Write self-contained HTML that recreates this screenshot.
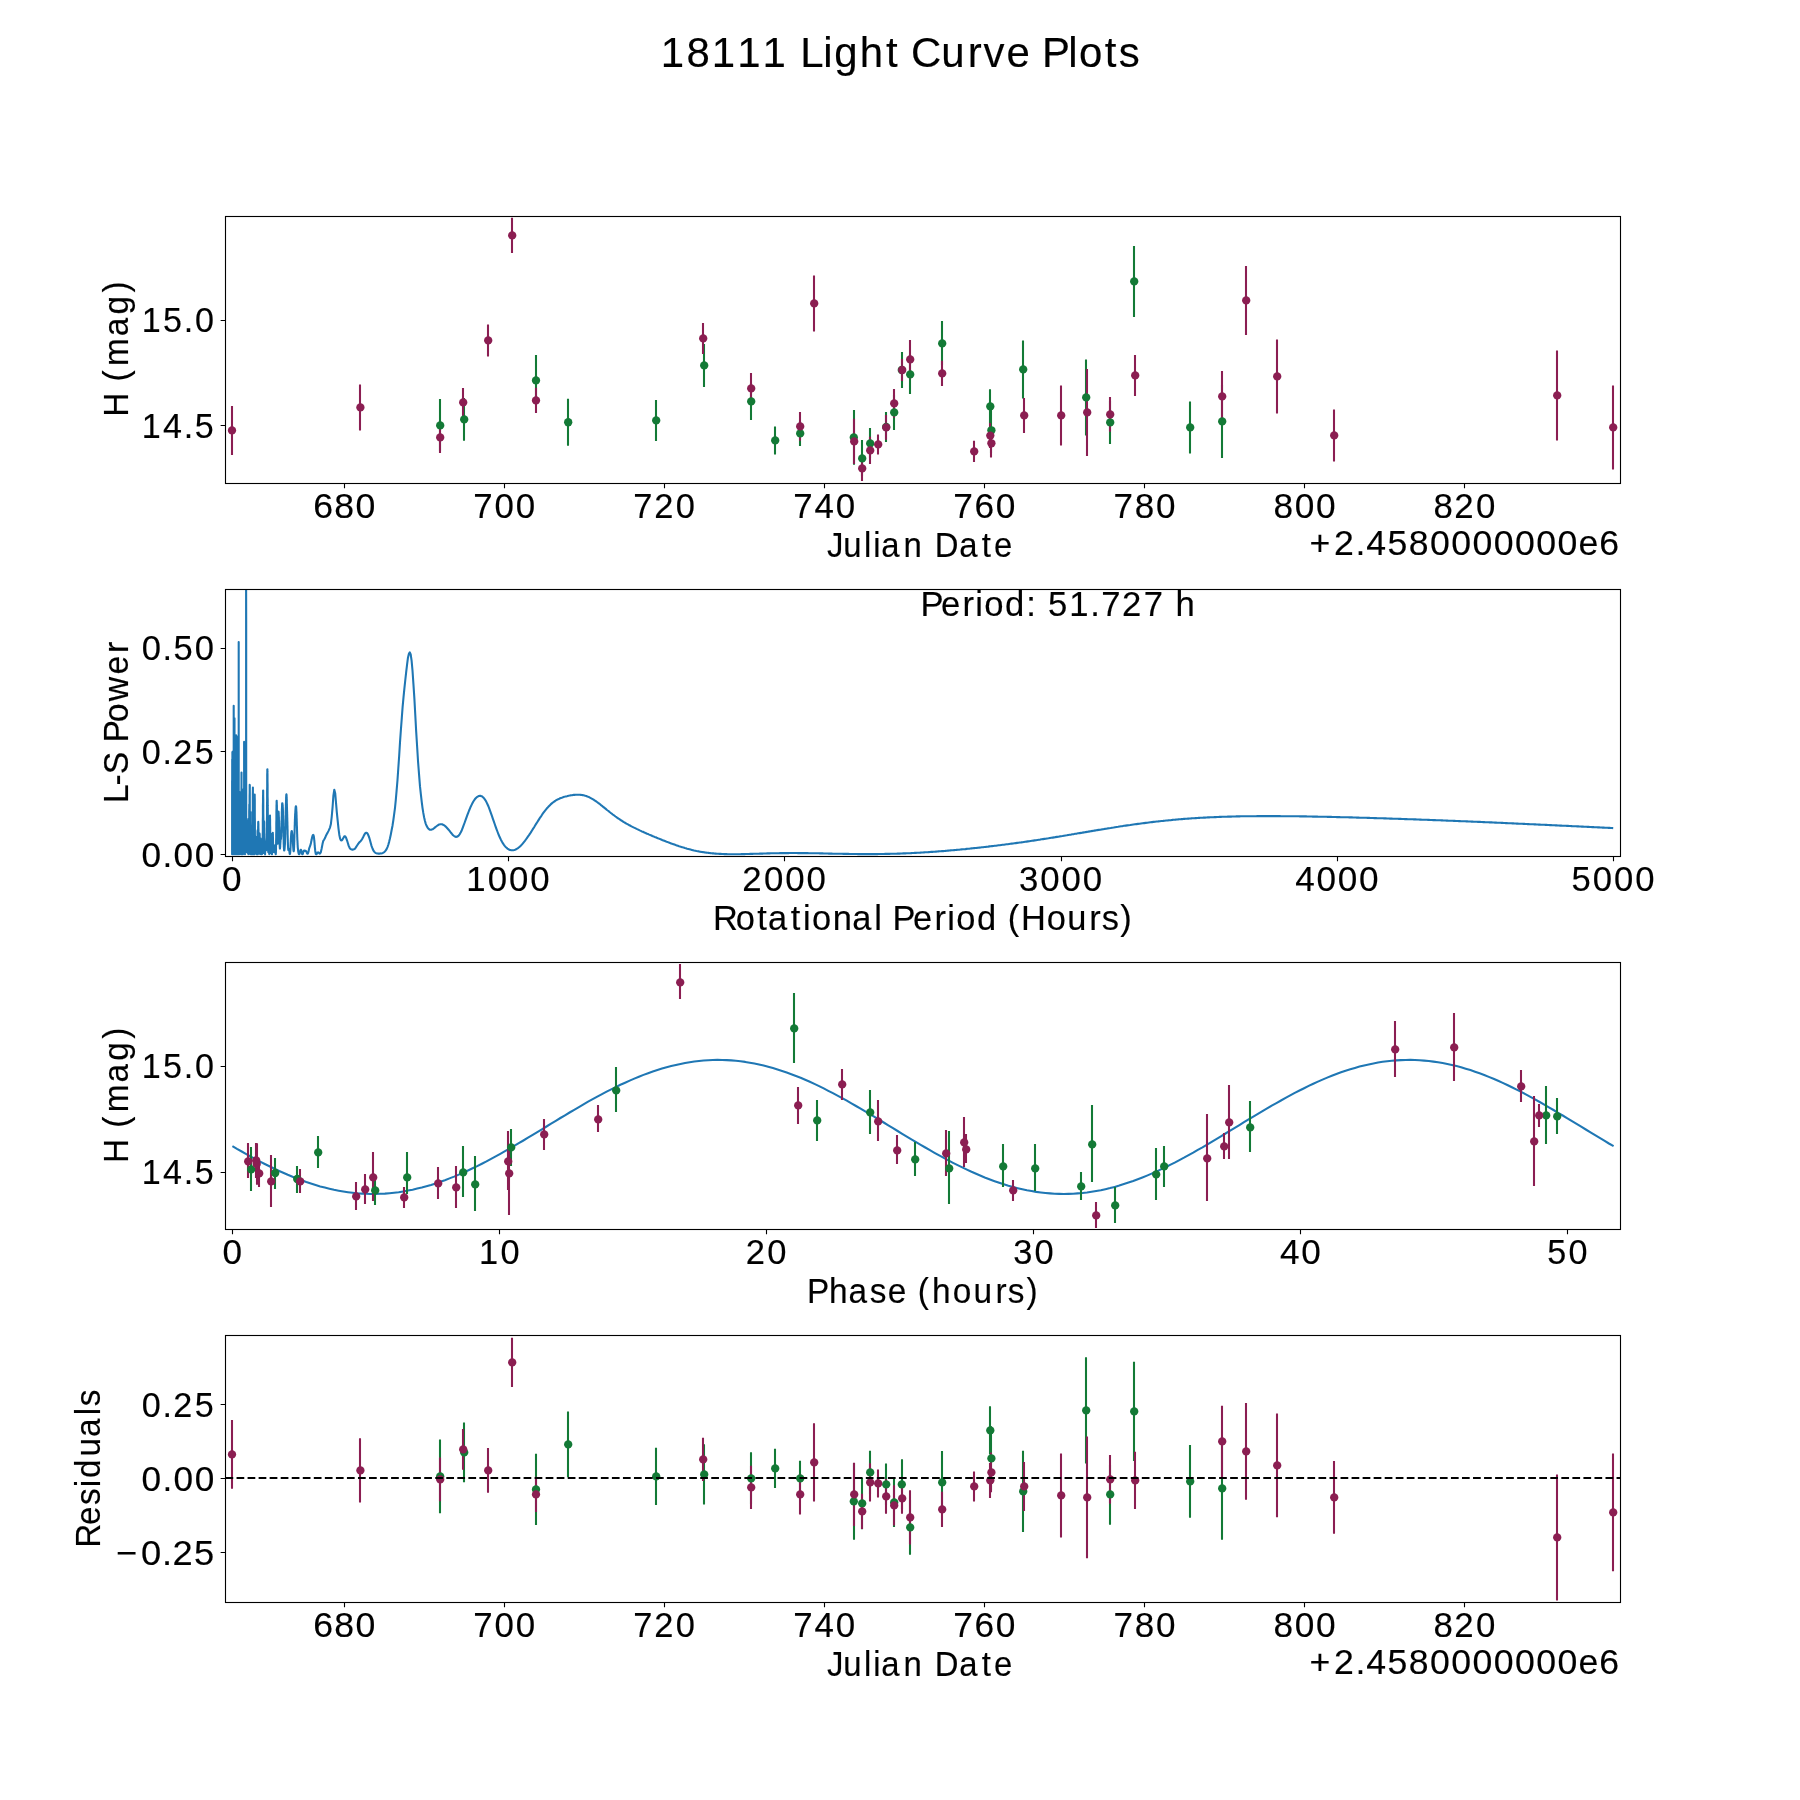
<!DOCTYPE html>
<html><head><meta charset="utf-8"><title>18111 Light Curve Plots</title>
<style>html,body{margin:0;padding:0;background:#fff;width:1800px;height:1800px;overflow:hidden}svg{display:block;will-change:transform}text{stroke:#000;stroke-width:0.15px;font-family:"Liberation Sans",sans-serif;fill:#000}</style>
</head><body>
<svg width="1800" height="1800" viewBox="0 0 1800 1800">
<rect x="0" y="0" width="1800" height="1800" fill="#fff"/>
<defs>
<clipPath id="c0"><rect x="225.5" y="216.5" width="1395" height="267"/></clipPath>
<clipPath id="c1"><rect x="225.5" y="589.5" width="1395" height="267"/></clipPath>
<clipPath id="c2"><rect x="225.5" y="962.5" width="1395" height="267"/></clipPath>
<clipPath id="c3"><rect x="225.5" y="1335.5" width="1395" height="267"/></clipPath>
</defs>
<polyline clip-path="url(#c1)" fill="none" stroke="#1f77b4" stroke-width="2.08" stroke-linejoin="round" points="232.1,846.8 232.1,842.4 232.1,850.5 232.1,839.5 232.1,851.2 232.1,854.0 232.1,852.8 232.1,836.9 232.1,846.1 232.1,831.8 232.1,854.0 232.1,848.9 232.1,838.4 232.1,850.3 232.1,838.6 232.1,846.4 232.1,851.9 232.1,854.0 232.1,834.2 232.1,832.2 232.1,848.9 232.1,845.4 232.1,848.0 232.1,854.3 232.1,852.8 232.1,846.0 232.1,845.3 232.1,845.6 232.1,848.2 232.1,854.3 232.1,843.7 232.1,849.3 232.1,839.8 232.1,845.9 232.1,834.6 232.1,851.7 232.1,853.8 232.1,848.1 232.1,853.2 232.1,848.2 232.1,845.9 232.1,847.3 232.1,851.3 232.1,853.9 232.1,850.1 232.1,849.9 232.1,851.0 232.1,852.9 232.1,780.5 232.1,850.8 232.1,851.9 232.1,802.9 232.1,838.4 232.1,853.3 232.1,849.6 232.1,854.2 232.1,850.3 232.1,852.5 232.1,854.0 232.1,847.4 232.1,852.6 232.1,853.5 232.1,854.1 232.1,841.5 232.1,847.1 232.1,841.2 232.1,853.1 232.1,850.5 232.1,843.4 232.1,836.9 232.1,848.4 232.1,851.2 232.1,832.8 232.1,848.4 232.1,838.2 232.1,848.6 232.1,852.5 232.1,829.1 232.1,827.9 232.1,851.0 232.1,849.9 232.1,854.3 232.1,852.4 232.1,848.1 232.1,853.4 232.1,854.2 232.1,840.8 232.1,853.9 232.1,851.2 232.1,849.8 232.1,850.1 232.1,848.4 232.1,829.4 232.1,845.8 232.1,845.8 232.1,843.0 232.1,841.1 232.1,835.0 232.1,851.6 232.1,852.9 232.1,831.7 232.1,830.4 232.1,854.2 232.1,837.8 232.1,824.5 232.1,845.4 232.1,839.7 232.1,853.2 232.1,848.9 232.1,836.2 232.1,849.1 232.1,846.8 232.1,844.8 232.1,853.8 232.1,849.9 232.1,847.5 232.1,846.7 232.1,852.3 232.1,849.1 232.1,840.0 232.1,851.9 232.1,849.2 232.1,851.5 232.1,833.3 232.1,823.7 232.1,853.9 232.1,848.9 232.1,805.6 232.1,838.5 232.1,853.1 232.1,811.6 232.1,836.2 232.1,853.2 232.1,851.4 232.1,840.6 232.1,837.4 232.1,851.8 232.1,852.5 232.1,852.4 232.1,853.5 232.1,841.4 232.1,850.8 232.1,850.0 232.1,853.2 232.1,849.3 232.1,842.9 232.1,820.1 232.1,843.5 232.1,853.0 232.1,851.6 232.1,848.0 232.1,853.5 232.1,849.6 232.1,853.3 232.1,825.1 232.1,848.9 232.1,846.1 232.1,850.9 232.1,839.6 232.1,833.6 232.1,850.2 232.1,833.0 232.1,854.0 232.1,852.9 232.1,854.3 232.1,850.5 232.1,851.4 232.1,853.8 232.1,844.2 232.1,852.0 232.1,849.3 232.1,852.5 232.1,849.0 232.2,845.3 232.2,833.3 232.2,853.9 232.2,852.1 232.2,837.7 232.2,852.9 232.2,851.2 232.2,842.9 232.2,832.6 232.2,846.9 232.2,828.9 232.2,851.1 232.2,847.9 232.2,853.4 232.2,782.7 232.2,850.4 232.2,850.5 232.2,849.6 232.2,839.6 232.2,853.6 232.2,846.8 232.2,851.9 232.2,853.4 232.2,852.6 232.2,835.8 232.2,848.2 232.2,853.2 232.2,852.7 232.2,854.3 232.2,847.3 232.2,824.3 232.2,842.6 232.2,853.7 232.2,838.4 232.2,853.2 232.2,853.6 232.2,842.9 232.2,827.6 232.2,843.6 232.2,844.1 232.2,852.4 232.2,853.0 232.2,829.3 232.2,759.2 232.2,850.7 232.2,849.5 232.2,853.4 232.2,839.5 232.2,832.7 232.2,844.4 232.2,852.4 232.2,844.5 232.2,850.4 232.2,847.0 232.2,848.4 232.2,849.8 232.2,846.7 232.2,850.4 232.2,835.8 232.2,848.0 232.2,853.6 232.2,852.9 232.2,847.5 232.2,851.1 232.2,833.0 232.2,852.6 232.2,853.8 232.2,848.4 232.2,844.8 232.2,812.7 232.2,853.8 232.2,839.3 232.2,839.0 232.2,825.6 232.2,853.1 232.2,851.5 232.2,854.2 232.2,841.1 232.2,838.6 232.2,847.0 232.2,854.1 232.2,852.7 232.2,826.8 232.2,843.5 232.2,852.0 232.2,851.5 232.2,852.4 232.2,849.3 232.2,846.1 232.2,852.4 232.2,851.5 232.2,847.8 232.2,842.6 232.2,841.9 232.2,852.1 232.2,853.4 232.2,846.3 232.2,851.5 232.2,845.7 232.2,813.0 232.2,854.1 232.2,854.2 232.2,846.2 232.2,842.4 232.2,831.9 232.2,853.0 232.2,848.8 232.2,853.4 232.2,846.6 232.2,840.9 232.2,840.9 232.2,851.7 232.2,847.9 232.2,845.4 232.2,844.0 232.2,850.3 232.2,853.6 232.2,852.9 232.2,850.1 232.2,840.0 232.2,854.0 232.2,850.5 232.2,846.0 232.2,852.9 232.2,849.7 232.2,853.6 232.2,852.5 232.2,846.5 232.2,839.5 232.2,839.2 232.2,845.3 232.2,822.1 232.2,854.1 232.2,851.5 232.2,816.6 232.2,853.6 232.2,852.0 232.2,850.2 232.2,827.2 232.2,854.2 232.2,843.9 232.2,854.1 232.2,847.1 232.2,846.9 232.2,833.4 232.2,849.5 232.2,850.8 232.2,851.5 232.2,852.9 232.2,846.6 232.2,846.4 232.2,852.8 232.2,847.8 232.2,848.6 232.2,849.4 232.2,853.9 232.2,839.0 232.2,852.3 232.2,853.1 232.2,850.6 232.2,847.2 232.2,848.2 232.2,823.1 232.2,847.1 232.2,842.9 232.2,839.7 232.2,853.1 232.2,819.3 232.2,851.1 232.2,843.5 232.2,843.2 232.2,853.4 232.2,853.1 232.2,845.5 232.2,853.0 232.2,843.4 232.2,831.4 232.2,852.5 232.2,848.1 232.2,849.1 232.2,851.2 232.2,844.5 232.2,854.3 232.2,853.9 232.2,853.4 232.2,853.3 232.2,843.0 232.2,844.8 232.2,852.7 232.2,839.3 232.2,844.9 232.2,852.9 232.2,851.1 232.2,846.2 232.2,847.2 232.2,834.2 232.2,816.7 232.2,853.3 232.2,849.8 232.2,836.1 232.2,844.0 232.2,839.8 232.2,837.5 232.2,850.1 232.2,853.6 232.2,847.8 232.2,837.9 232.2,854.3 232.2,853.4 232.2,848.9 232.2,854.1 232.2,840.0 232.2,839.2 232.2,853.7 232.2,851.5 232.2,849.5 232.2,849.4 232.2,837.0 232.2,848.6 232.2,837.0 232.2,853.2 232.2,850.9 232.2,842.1 232.2,835.2 232.2,845.5 232.2,854.0 232.2,852.2 232.2,837.8 232.2,849.6 232.2,838.6 232.2,795.6 232.2,838.7 232.2,854.1 232.2,841.8 232.2,771.7 232.2,852.9 232.2,850.1 232.2,841.7 232.2,851.3 232.2,845.5 232.2,854.3 232.2,851.9 232.2,852.0 232.2,847.5 232.2,850.8 232.2,848.4 232.2,851.8 232.2,853.9 232.2,849.7 232.2,838.6 232.2,852.9 232.2,851.1 232.2,843.9 232.2,845.0 232.2,853.9 232.2,848.5 232.2,844.7 232.2,837.7 232.2,832.8 232.2,851.2 232.2,853.5 232.2,853.1 232.2,831.6 232.2,847.5 232.2,815.0 232.2,825.2 232.2,840.0 232.2,844.2 232.2,848.8 232.2,837.4 232.2,844.0 232.2,847.0 232.2,851.3 232.2,850.4 232.2,833.6 232.2,851.6 232.2,837.9 232.2,844.3 232.2,851.3 232.2,843.8 232.2,829.1 232.2,849.9 232.2,845.0 232.2,844.8 232.2,850.6 232.2,849.7 232.2,846.3 232.2,851.5 232.2,852.2 232.2,844.2 232.2,844.6 232.2,849.2 232.2,834.9 232.2,834.0 232.2,836.1 232.2,853.8 232.2,850.8 232.2,853.1 232.2,837.0 232.2,845.9 232.2,771.2 232.2,850.3 232.2,853.8 232.2,853.7 232.2,831.5 232.2,851.8 232.2,854.1 232.2,852.7 232.2,849.5 232.2,841.8 232.2,854.3 232.2,826.5 232.2,853.8 232.2,845.8 232.2,853.5 232.2,850.4 232.2,849.3 232.2,850.9 232.2,849.6 232.3,853.7 232.3,850.5 232.3,845.0 232.3,853.7 232.3,845.4 232.3,847.4 232.3,851.2 232.3,840.1 232.3,844.7 232.3,852.4 232.3,832.7 232.3,847.1 232.3,842.8 232.3,842.5 232.3,853.1 232.3,831.3 232.3,850.9 232.3,846.8 232.3,848.2 232.3,834.6 232.3,842.9 232.3,853.7 232.3,850.7 232.3,850.5 232.3,811.1 232.3,846.5 232.3,839.2 232.3,850.2 232.3,853.0 232.3,839.6 232.3,853.8 232.3,847.2 232.3,816.9 232.3,852.3 232.3,841.8 232.3,850.1 232.3,854.1 232.3,853.4 232.3,850.8 232.3,850.8 232.3,842.6 232.3,853.9 232.3,844.0 232.3,835.1 232.3,851.2 232.3,850.9 232.3,851.2 232.3,850.5 232.3,849.2 232.3,851.9 232.3,845.3 232.3,837.6 232.3,851.9 232.3,850.4 232.3,850.3 232.3,854.1 232.3,843.9 232.3,833.5 232.3,841.1 232.3,854.0 232.3,853.2 232.3,840.2 232.3,848.5 232.3,828.1 232.3,854.0 232.3,845.1 232.3,846.1 232.3,853.1 232.3,836.6 232.3,853.4 232.3,853.4 232.3,828.6 232.3,853.5 232.3,840.5 232.3,843.2 232.3,850.7 232.3,848.6 232.3,852.3 232.3,852.2 232.3,846.1 232.3,844.1 232.3,852.8 232.3,848.9 232.3,843.1 232.3,848.8 232.3,849.1 232.3,848.3 232.3,844.8 232.3,853.5 232.3,853.9 232.3,853.4 232.3,845.4 232.3,845.4 232.3,839.5 232.3,847.5 232.3,850.0 232.3,841.6 232.3,822.2 232.3,848.1 232.3,854.1 232.3,852.4 232.3,849.9 232.3,846.9 232.3,828.7 232.3,853.0 232.3,845.2 232.3,841.8 232.3,853.8 232.3,843.6 232.3,843.4 232.3,827.5 232.3,853.3 232.3,849.3 232.3,852.6 232.3,853.0 232.3,852.6 232.3,846.4 232.3,851.5 232.3,844.3 232.3,852.7 232.3,844.3 232.3,853.1 232.3,851.8 232.3,823.4 232.3,850.2 232.3,821.7 232.3,845.7 232.3,847.6 232.3,853.3 232.3,851.4 232.3,853.9 232.3,852.8 232.3,841.5 232.3,836.8 232.3,848.8 232.3,846.9 232.3,853.1 232.3,853.1 232.3,847.0 232.3,833.8 232.3,849.9 232.3,843.4 232.3,835.1 232.3,831.7 232.3,840.3 232.3,849.0 232.3,840.0 232.3,845.3 232.3,845.4 232.3,851.4 232.3,846.5 232.3,829.0 232.3,852.0 232.3,846.0 232.3,846.1 232.3,853.7 232.3,853.4 232.3,846.3 232.3,851.0 232.3,853.8 232.3,850.0 232.3,851.4 232.3,852.8 232.3,851.9 232.3,854.0 232.3,845.6 232.3,848.9 232.3,852.9 232.3,851.9 232.3,849.3 232.3,849.2 232.3,846.7 232.3,837.5 232.3,842.0 232.3,848.4 232.3,853.9 232.3,853.3 232.3,854.0 232.3,851.7 232.3,838.5 232.3,820.1 232.3,805.4 232.3,851.9 232.3,850.4 232.3,845.1 232.3,831.5 232.3,821.0 232.3,844.8 232.3,854.1 232.3,838.3 232.3,842.7 232.3,854.0 232.3,842.8 232.3,844.1 232.3,837.8 232.3,843.5 232.3,849.3 232.3,850.9 232.3,850.9 232.3,849.8 232.3,850.0 232.3,842.3 232.3,824.8 232.3,843.7 232.3,851.3 232.3,838.7 232.3,849.3 232.3,853.6 232.3,854.3 232.3,847.4 232.3,851.9 232.3,844.4 232.3,853.7 232.3,854.3 232.3,839.1 232.3,847.4 232.3,840.1 232.3,847.4 232.3,843.8 232.3,854.1 232.3,845.9 232.3,849.9 232.3,853.9 232.3,851.0 232.3,833.9 232.3,852.2 232.3,852.8 232.3,853.2 232.3,854.1 232.3,853.9 232.3,843.6 232.3,839.0 232.3,851.9 232.3,853.2 232.3,845.5 232.3,851.6 232.3,852.1 232.3,851.6 232.3,848.9 232.3,825.0 232.3,843.8 232.3,851.8 232.3,849.5 232.3,850.8 232.3,847.0 232.3,851.4 232.3,844.1 232.3,832.1 232.3,846.3 232.3,852.6 232.3,832.4 232.4,851.9 232.4,847.1 232.4,852.7 232.4,852.1 232.4,847.3 232.4,828.9 232.4,850.7 232.4,854.0 232.4,854.3 232.4,850.6 232.4,843.1 232.4,839.3 232.4,844.7 232.4,851.2 232.4,852.9 232.4,850.5 232.4,851.7 232.4,854.1 232.4,847.7 232.4,814.4 232.4,844.5 232.4,840.5 232.4,847.6 232.4,847.8 232.4,837.0 232.4,802.8 232.4,752.0 232.4,833.1 232.4,846.4 232.4,850.9 232.4,847.4 232.4,847.7 232.4,850.5 232.4,819.1 232.4,841.9 232.4,836.4 232.4,835.8 232.4,853.9 232.4,853.5 232.4,847.6 232.4,828.7 232.4,854.3 232.4,849.0 232.4,844.6 232.4,853.1 232.4,853.5 232.4,841.8 232.4,854.0 232.4,850.6 232.4,847.7 232.4,835.2 232.4,849.6 232.4,852.8 232.4,851.7 232.4,851.3 232.4,850.7 232.4,843.0 232.4,846.2 232.4,846.7 232.4,852.9 232.4,848.3 232.4,853.3 232.4,852.0 232.4,852.5 232.4,841.0 232.4,852.4 232.4,850.3 232.4,811.6 232.4,834.5 232.4,836.7 232.4,847.4 232.4,845.1 232.4,835.7 232.4,833.1 232.4,809.2 232.4,850.5 232.4,849.9 232.4,840.4 232.4,851.6 232.4,847.6 232.4,853.6 232.4,850.8 232.4,854.1 232.4,853.9 232.4,839.3 232.4,843.5 232.4,842.6 232.4,845.0 232.4,853.4 232.4,831.2 232.4,851.3 232.4,854.1 232.4,853.7 232.4,854.3 232.4,853.5 232.4,844.9 232.4,849.5 232.4,852.3 232.4,851.2 232.4,848.9 232.4,849.7 232.4,846.3 232.4,835.4 232.4,844.9 232.4,854.0 232.4,854.1 232.4,846.5 232.4,845.3 232.4,853.3 232.4,846.6 232.4,840.2 232.4,851.9 232.4,843.2 232.4,851.8 232.4,846.1 232.4,847.4 232.4,848.5 232.4,814.4 232.4,817.8 232.4,838.7 232.4,849.2 232.4,849.7 232.4,849.3 232.4,848.4 232.4,832.0 232.4,836.6 232.4,848.3 232.4,843.7 232.4,852.9 232.4,835.0 232.4,850.8 232.4,850.5 232.4,830.7 232.4,847.4 232.4,847.3 232.4,834.7 232.4,850.0 232.4,850.1 232.4,845.8 232.4,853.4 232.4,845.8 232.4,850.5 232.4,853.5 232.4,852.2 232.4,849.8 232.4,853.9 232.4,844.5 232.4,847.2 232.4,852.1 232.4,852.8 232.4,830.4 232.4,849.2 232.4,854.3 232.4,853.3 232.4,853.5 232.4,844.2 232.4,851.7 232.4,850.5 232.4,832.8 232.4,841.2 232.4,850.4 232.4,837.2 232.4,838.0 232.4,852.3 232.4,844.9 232.4,850.2 232.4,853.6 232.4,845.2 232.4,841.6 232.4,796.9 232.4,808.2 232.4,850.1 232.4,854.3 232.4,842.5 232.4,840.5 232.4,832.4 232.4,841.7 232.4,823.2 232.4,843.4 232.4,851.9 232.4,830.0 232.4,847.8 232.4,827.5 232.4,852.3 232.4,841.7 232.4,852.6 232.4,848.7 232.4,852.4 232.4,847.3 232.4,848.2 232.4,850.0 232.4,845.1 232.4,853.1 232.4,834.6 232.4,852.9 232.4,842.7 232.4,853.1 232.4,842.0 232.4,849.4 232.4,847.1 232.4,829.0 232.4,848.8 232.4,850.6 232.4,853.8 232.4,846.1 232.4,849.0 232.5,853.1 232.5,849.7 232.5,853.4 232.5,844.8 232.5,851.2 232.5,848.1 232.5,840.2 232.5,852.8 232.5,851.2 232.5,845.8 232.5,850.6 232.5,847.3 232.5,852.4 232.5,852.8 232.5,847.0 232.5,850.2 232.5,851.2 232.5,835.8 232.5,812.8 232.5,824.8 232.5,851.2 232.5,853.7 232.5,844.7 232.5,847.5 232.5,821.1 232.5,822.4 232.5,846.7 232.5,844.4 232.5,847.4 232.5,839.0 232.5,852.7 232.5,840.2 232.5,853.1 232.5,853.1 232.5,852.7 232.5,835.3 232.5,822.5 232.5,846.0 232.5,854.1 232.5,849.1 232.5,851.5 232.5,853.1 232.5,839.5 232.5,852.0 232.5,850.7 232.5,831.4 232.5,848.2 232.5,847.3 232.5,846.1 232.5,850.0 232.5,845.1 232.5,843.3 232.5,849.8 232.5,850.1 232.5,822.7 232.5,846.5 232.5,851.0 232.5,825.6 232.5,853.4 232.5,847.2 232.5,845.9 232.5,852.6 232.5,841.4 232.5,846.5 232.5,833.3 232.5,854.2 232.5,851.8 232.5,851.4 232.5,840.0 232.5,850.5 232.5,852.5 232.5,842.9 232.5,851.8 232.5,839.2 232.5,817.2 232.5,834.0 232.5,841.7 232.5,853.2 232.5,848.7 232.5,845.4 232.5,852.5 232.5,846.1 232.5,822.9 232.5,803.7 232.5,845.3 232.5,853.5 232.5,847.3 232.5,838.6 232.5,851.9 232.5,846.2 232.5,850.6 232.5,849.6 232.5,854.0 232.5,828.3 232.5,827.9 232.5,854.2 232.5,849.4 232.5,852.3 232.5,851.9 232.5,849.3 232.5,851.6 232.5,853.2 232.5,843.3 232.5,850.2 232.5,848.7 232.5,847.2 232.5,850.5 232.5,832.0 232.5,852.2 232.5,847.2 232.5,848.3 232.5,849.4 232.5,849.5 232.5,834.4 232.5,851.3 232.5,843.8 232.5,843.8 232.5,847.2 232.5,854.1 232.5,853.2 232.5,848.5 232.5,852.0 232.5,853.1 232.5,828.5 232.5,827.6 232.5,853.3 232.5,852.7 232.5,853.7 232.5,840.1 232.5,849.9 232.5,846.8 232.5,849.9 232.5,851.5 232.5,824.5 232.5,831.7 232.5,853.2 232.5,846.1 232.5,848.3 232.5,847.9 232.5,854.3 232.5,850.9 232.5,841.4 232.5,840.8 232.5,827.5 232.5,840.5 232.5,842.8 232.5,854.2 232.5,834.0 232.5,851.7 232.5,852.7 232.5,849.6 232.5,845.9 232.5,840.9 232.5,852.3 232.5,840.6 232.5,852.5 232.5,845.7 232.5,850.4 232.5,850.5 232.5,850.1 232.5,849.8 232.5,853.0 232.5,835.0 232.5,854.3 232.5,846.4 232.5,849.2 232.5,854.1 232.5,850.4 232.5,852.1 232.5,833.7 232.5,846.7 232.5,844.5 232.5,850.6 232.5,846.0 232.5,850.3 232.5,853.3 232.6,849.7 232.6,853.2 232.6,838.0 232.6,854.3 232.6,847.3 232.6,850.8 232.6,851.8 232.6,846.7 232.6,846.8 232.6,853.6 232.6,838.6 232.6,841.3 232.6,846.4 232.6,852.0 232.6,853.7 232.6,830.6 232.6,849.1 232.6,852.6 232.6,852.3 232.6,851.3 232.6,840.2 232.6,826.3 232.6,811.5 232.6,817.1 232.6,850.3 232.6,843.7 232.6,846.1 232.6,854.0 232.6,845.6 232.6,835.4 232.6,846.2 232.6,814.3 232.6,838.4 232.6,847.5 232.6,852.3 232.6,848.1 232.6,850.7 232.6,849.8 232.6,851.5 232.6,852.6 232.6,845.4 232.6,846.2 232.6,852.0 232.6,831.5 232.6,853.8 232.6,853.9 232.6,853.5 232.6,853.3 232.6,845.6 232.6,850.0 232.6,851.3 232.6,839.0 232.6,854.0 232.6,841.8 232.6,847.0 232.6,854.2 232.6,850.6 232.6,852.5 232.6,848.5 232.6,828.3 232.6,848.7 232.6,854.3 232.6,853.7 232.6,845.6 232.6,846.3 232.6,848.8 232.6,852.0 232.6,850.8 232.6,835.1 232.6,853.3 232.6,847.1 232.6,850.6 232.6,853.9 232.6,843.2 232.6,839.0 232.6,841.1 232.6,842.1 232.6,852.9 232.6,832.0 232.6,836.9 232.6,854.2 232.6,854.0 232.6,842.9 232.6,853.4 232.6,836.1 232.6,851.9 232.6,846.3 232.6,848.3 232.6,805.6 232.6,832.3 232.6,842.2 232.6,833.8 232.6,846.8 232.6,850.1 232.6,846.5 232.6,852.5 232.6,853.1 232.6,824.0 232.6,822.0 232.6,849.5 232.6,835.9 232.6,850.6 232.6,844.4 232.6,847.0 232.6,854.3 232.6,848.0 232.6,847.1 232.6,852.5 232.6,852.9 232.6,846.6 232.6,845.7 232.6,845.9 232.6,847.2 232.6,831.4 232.6,845.5 232.6,848.1 232.6,853.9 232.6,853.9 232.6,853.5 232.6,832.8 232.6,844.4 232.6,853.4 232.6,842.7 232.6,847.3 232.6,853.6 232.6,852.2 232.6,853.1 232.6,852.9 232.6,834.4 232.6,845.9 232.6,851.1 232.6,850.9 232.6,850.2 232.6,852.6 232.6,830.9 232.6,848.1 232.6,853.9 232.6,853.6 232.6,847.3 232.6,850.5 232.6,844.3 232.6,849.1 232.6,854.0 232.6,844.6 232.6,823.7 232.6,840.7 232.6,853.9 232.6,834.1 232.6,845.4 232.6,849.6 232.6,853.3 232.6,850.1 232.6,843.5 232.7,853.1 232.7,848.6 232.7,840.9 232.7,845.7 232.7,840.9 232.7,854.2 232.7,784.0 232.7,850.4 232.7,847.0 232.7,817.9 232.7,852.6 232.7,852.3 232.7,850.1 232.7,850.2 232.7,835.7 232.7,854.3 232.7,847.6 232.7,778.6 232.7,853.5 232.7,845.1 232.7,853.3 232.7,826.8 232.7,848.1 232.7,853.3 232.7,839.0 232.7,847.5 232.7,852.0 232.7,843.7 232.7,833.8 232.7,854.0 232.7,845.5 232.7,835.1 232.7,848.2 232.7,853.4 232.7,852.5 232.7,844.1 232.7,854.0 232.7,847.7 232.7,854.1 232.7,829.3 232.7,849.7 232.7,846.3 232.7,844.0 232.7,836.6 232.7,854.1 232.7,851.2 232.7,844.4 232.7,848.6 232.7,851.4 232.7,828.4 232.7,847.5 232.7,853.0 232.7,848.3 232.7,852.9 232.7,840.3 232.7,832.9 232.7,849.3 232.7,853.8 232.7,846.7 232.7,833.0 232.7,853.4 232.7,853.9 232.7,853.1 232.7,846.3 232.7,852.4 232.7,853.1 232.7,846.1 232.7,834.7 232.7,853.7 232.7,839.4 232.7,827.1 232.7,851.5 232.7,853.4 232.7,851.0 232.7,852.5 232.7,848.6 232.7,850.6 232.7,852.6 232.7,844.5 232.7,844.7 232.7,837.5 232.7,849.3 232.7,799.9 232.7,826.1 232.7,852.3 232.7,838.4 232.7,854.2 232.7,853.3 232.7,850.8 232.7,845.9 232.7,839.6 232.7,836.6 232.7,847.5 232.7,832.8 232.7,839.2 232.7,847.9 232.7,853.9 232.7,851.5 232.7,834.0 232.7,854.3 232.7,850.0 232.7,843.2 232.7,851.3 232.7,850.6 232.7,845.3 232.7,836.4 232.7,851.2 232.7,838.4 232.7,843.9 232.7,839.0 232.7,828.7 232.7,832.9 232.7,853.9 232.7,853.2 232.7,849.4 232.7,841.0 232.7,848.4 232.7,830.0 232.7,846.9 232.7,844.9 232.7,847.3 232.7,837.7 232.7,854.3 232.7,842.2 232.7,846.5 232.7,851.5 232.7,852.0 232.7,839.4 232.7,853.9 232.7,851.0 232.7,848.1 232.7,847.3 232.7,854.3 232.7,826.4 232.7,842.7 232.8,848.1 232.8,854.0 232.8,834.4 232.8,833.1 232.8,850.8 232.8,851.4 232.8,845.1 232.8,848.4 232.8,853.8 232.8,846.2 232.8,843.6 232.8,852.9 232.8,826.0 232.8,849.6 232.8,844.4 232.8,833.9 232.8,851.4 232.8,851.5 232.8,854.3 232.8,852.2 232.8,845.3 232.8,843.3 232.8,839.9 232.8,853.9 232.8,850.2 232.8,852.2 232.8,837.6 232.8,835.6 232.8,814.7 232.8,817.9 232.8,845.0 232.8,847.6 232.8,851.5 232.8,853.5 232.8,846.5 232.8,837.3 232.8,854.0 232.8,838.0 232.8,852.9 232.8,798.3 232.8,825.0 232.8,843.3 232.8,853.5 232.8,848.4 232.8,848.8 232.8,839.9 232.8,853.9 232.8,851.1 232.8,833.9 232.8,854.3 232.8,847.0 232.8,851.9 232.8,851.5 232.8,850.1 232.8,853.7 232.8,835.0 232.8,846.3 232.8,850.3 232.8,845.1 232.8,842.3 232.8,853.9 232.8,853.5 232.8,852.8 232.8,850.0 232.8,852.2 232.8,852.6 232.8,840.1 232.8,852.3 232.8,851.1 232.8,848.8 232.8,843.8 232.8,852.4 232.8,843.1 232.8,849.3 232.8,851.6 232.8,851.2 232.8,850.0 232.8,851.2 232.8,845.2 232.8,851.6 232.8,851.1 232.8,845.2 232.8,836.2 232.8,845.7 232.8,845.6 232.8,842.2 232.8,852.1 232.8,835.3 232.8,845.0 232.8,846.0 232.8,851.0 232.8,848.7 232.8,851.9 232.8,849.6 232.8,850.9 232.8,852.2 232.8,848.1 232.8,848.8 232.8,822.1 232.8,851.4 232.8,849.3 232.8,847.1 232.8,850.6 232.8,853.0 232.8,851.1 232.8,850.9 232.8,851.1 232.8,846.3 232.8,829.5 232.8,853.0 232.8,853.3 232.8,844.3 232.8,853.2 232.8,818.5 232.8,836.7 232.8,813.9 232.8,830.2 232.8,838.8 232.8,853.3 232.8,847.5 232.8,854.1 232.9,847.8 232.9,846.8 232.9,852.0 232.9,853.9 232.9,810.8 232.9,852.1 232.9,806.8 232.9,842.6 232.9,841.7 232.9,854.2 232.9,847.8 232.9,846.8 232.9,843.1 232.9,850.2 232.9,847.7 232.9,844.7 232.9,848.1 232.9,853.7 232.9,846.5 232.9,841.1 232.9,850.7 232.9,836.7 232.9,853.0 232.9,833.0 232.9,850.1 232.9,848.2 232.9,846.2 232.9,842.1 232.9,845.4 232.9,852.4 232.9,849.3 232.9,846.5 232.9,845.8 232.9,826.8 232.9,853.2 232.9,835.2 232.9,851.6 232.9,852.4 232.9,841.1 232.9,847.2 232.9,852.3 232.9,843.6 232.9,851.6 232.9,843.1 232.9,848.5 232.9,850.2 232.9,846.7 232.9,846.7 232.9,850.6 232.9,849.6 232.9,850.8 232.9,846.8 232.9,846.5 232.9,840.4 232.9,852.8 232.9,846.4 232.9,854.1 232.9,845.0 232.9,854.2 232.9,852.5 232.9,851.1 232.9,848.4 232.9,850.8 232.9,852.1 232.9,850.0 232.9,852.3 232.9,848.1 232.9,852.5 232.9,826.0 232.9,837.3 232.9,830.2 232.9,854.3 232.9,841.9 232.9,846.9 232.9,848.3 232.9,853.2 232.9,847.6 232.9,846.3 232.9,852.7 232.9,851.4 232.9,840.3 232.9,850.8 232.9,852.6 232.9,849.2 232.9,833.7 232.9,853.2 232.9,797.3 232.9,848.8 232.9,819.4 232.9,850.7 232.9,840.5 232.9,852.9 232.9,844.6 232.9,853.7 232.9,850.8 232.9,852.7 232.9,852.7 232.9,841.2 232.9,845.1 232.9,834.6 232.9,846.2 232.9,833.1 232.9,854.1 232.9,838.8 232.9,854.2 232.9,851.0 232.9,845.0 232.9,843.6 232.9,849.1 232.9,853.5 233.0,853.7 233.0,839.6 233.0,852.2 233.0,849.4 233.0,847.0 233.0,838.6 233.0,853.4 233.0,830.4 233.0,847.0 233.0,834.7 233.0,848.5 233.0,851.5 233.0,852.5 233.0,854.0 233.0,853.6 233.0,846.9 233.0,851.8 233.0,850.9 233.0,845.1 233.0,847.3 233.0,830.0 233.0,852.0 233.0,846.0 233.0,846.9 233.0,854.2 233.0,840.8 233.0,851.2 233.0,852.4 233.0,852.5 233.0,851.0 233.0,851.5 233.0,839.8 233.0,845.5 233.0,848.7 233.0,853.9 233.0,854.2 233.0,847.7 233.0,848.0 233.0,847.3 233.0,849.0 233.0,851.9 233.0,848.7 233.0,850.2 233.0,853.9 233.0,849.8 233.0,852.0 233.0,853.7 233.0,841.6 233.0,847.9 233.0,841.4 233.0,853.1 233.0,854.0 233.0,849.5 233.0,854.1 233.0,853.0 233.0,852.6 233.0,848.3 233.0,854.2 233.0,823.6 233.0,851.2 233.0,837.1 233.0,850.5 233.0,841.3 233.0,850.6 233.0,849.8 233.0,853.5 233.0,843.6 233.0,844.8 233.0,845.6 233.0,853.8 233.0,854.1 233.0,846.9 233.0,849.5 233.0,852.2 233.0,851.7 233.0,830.9 233.0,843.6 233.0,843.9 233.0,791.8 233.0,854.2 233.0,813.9 233.0,851.9 233.0,844.8 233.0,847.2 233.0,849.9 233.0,849.2 233.0,854.3 233.0,850.2 233.0,851.3 233.0,847.6 233.0,831.3 233.0,838.5 233.0,836.3 233.0,845.2 233.0,830.0 233.0,851.6 233.0,845.9 233.0,853.1 233.0,852.7 233.0,854.2 233.1,842.0 233.1,846.8 233.1,841.1 233.1,852.6 233.1,852.6 233.1,846.2 233.1,852.2 233.1,849.3 233.1,846.1 233.1,845.3 233.1,852.2 233.1,853.6 233.1,835.9 233.1,850.7 233.1,846.8 233.1,841.1 233.1,848.5 233.1,849.3 233.1,852.4 233.1,850.9 233.1,845.0 233.1,844.7 233.1,846.7 233.1,852.8 233.1,849.6 233.1,847.6 233.1,835.0 233.1,850.9 233.1,850.7 233.1,842.6 233.1,852.1 233.1,852.2 233.1,829.4 233.1,854.0 233.1,845.7 233.1,852.9 233.1,854.3 233.1,852.8 233.1,839.9 233.1,834.4 233.1,847.4 233.1,853.4 233.1,853.0 233.1,850.2 233.1,853.9 233.1,846.5 233.1,849.9 233.1,853.1 233.1,832.9 233.1,851.6 233.1,846.4 233.1,853.0 233.1,852.9 233.1,845.8 233.1,839.3 233.1,838.7 233.1,853.8 233.1,852.6 233.1,847.0 233.1,850.7 233.1,852.1 233.1,850.0 233.1,854.1 233.1,850.5 233.1,841.6 233.1,843.8 233.1,847.6 233.1,853.0 233.1,844.8 233.1,853.3 233.1,847.9 233.1,842.3 233.1,840.2 233.1,849.4 233.1,852.3 233.1,854.3 233.1,851.9 233.1,832.2 233.1,849.1 233.1,849.5 233.1,847.4 233.1,846.4 233.1,848.8 233.1,853.3 233.1,853.7 233.1,850.1 233.1,843.6 233.1,835.2 233.1,831.1 233.1,815.8 233.1,845.8 233.1,847.7 233.1,815.6 233.2,845.6 233.2,848.7 233.2,844.6 233.2,853.8 233.2,848.3 233.2,850.5 233.2,854.2 233.2,848.4 233.2,854.0 233.2,841.9 233.2,815.1 233.2,844.4 233.2,826.1 233.2,823.5 233.2,830.0 233.2,845.7 233.2,850.0 233.2,849.6 233.2,853.1 233.2,850.3 233.2,850.4 233.2,847.3 233.2,852.6 233.2,833.7 233.2,852.2 233.2,848.7 233.2,851.9 233.2,852.1 233.2,840.9 233.2,853.3 233.2,837.4 233.2,840.7 233.2,851.9 233.2,854.3 233.2,842.7 233.2,838.3 233.2,853.7 233.2,836.5 233.2,854.1 233.2,832.5 233.2,854.2 233.2,850.3 233.2,853.3 233.2,849.6 233.2,846.4 233.2,844.2 233.2,853.0 233.2,851.6 233.2,839.7 233.2,853.4 233.2,848.0 233.2,849.5 233.2,849.6 233.2,839.4 233.2,853.0 233.2,848.4 233.2,837.8 233.2,854.3 233.2,848.6 233.2,842.6 233.2,853.0 233.2,852.4 233.2,850.8 233.2,852.8 233.2,830.0 233.2,840.7 233.2,854.1 233.2,851.4 233.2,853.1 233.2,849.1 233.2,853.2 233.2,846.9 233.2,854.1 233.2,844.5 233.2,828.9 233.2,851.7 233.2,842.4 233.2,851.3 233.2,854.0 233.2,845.6 233.2,811.2 233.2,849.0 233.2,846.8 233.2,847.2 233.2,851.8 233.3,848.4 233.3,846.0 233.3,848.1 233.3,853.1 233.3,853.7 233.3,843.0 233.3,824.8 233.3,846.3 233.3,846.9 233.3,842.7 233.3,854.1 233.3,841.1 233.3,846.5 233.3,852.9 233.3,831.8 233.3,847.9 233.3,836.2 233.3,854.3 233.3,853.7 233.3,852.7 233.3,849.5 233.3,839.7 233.3,850.8 233.3,850.9 233.3,847.7 233.3,850.2 233.3,835.7 233.3,853.3 233.3,854.1 233.3,851.7 233.3,844.6 233.3,848.6 233.3,844.3 233.3,805.3 233.3,843.2 233.3,845.1 233.3,840.2 233.3,827.1 233.3,823.8 233.3,852.1 233.3,852.7 233.3,842.5 233.3,853.9 233.3,853.5 233.3,844.7 233.3,849.9 233.3,849.7 233.3,845.2 233.3,853.2 233.3,840.8 233.3,829.9 233.3,853.9 233.3,789.1 233.3,792.7 233.3,841.9 233.3,840.0 233.3,844.2 233.3,849.3 233.3,851.1 233.3,849.7 233.3,843.8 233.3,845.5 233.3,849.7 233.3,853.8 233.3,830.6 233.3,848.5 233.3,845.4 233.3,849.8 233.3,850.6 233.3,853.7 233.3,837.7 233.3,851.4 233.3,829.1 233.3,843.9 233.3,850.8 233.3,842.5 233.3,853.7 233.3,818.1 233.3,836.2 233.3,853.9 233.4,828.6 233.4,854.1 233.4,829.5 233.4,854.2 233.4,851.5 233.4,853.3 233.4,852.2 233.4,849.1 233.4,854.1 233.4,841.4 233.4,854.2 233.4,854.2 233.4,831.0 233.4,849.4 233.4,847.0 233.4,849.5 233.4,853.3 233.4,848.9 233.4,848.8 233.4,835.5 233.4,846.8 233.4,848.1 233.4,851.1 233.4,851.8 233.4,835.3 233.4,849.6 233.4,853.9 233.4,850.5 233.4,845.6 233.4,851.2 233.4,830.6 233.4,844.7 233.4,852.5 233.4,850.0 233.4,854.2 233.4,849.1 233.4,849.8 233.4,854.3 233.4,853.0 233.4,849.4 233.4,836.1 233.4,822.8 233.4,853.6 233.4,848.5 233.4,851.4 233.4,850.3 233.4,852.4 233.4,840.7 233.4,804.1 233.4,847.0 233.4,847.8 233.4,848.1 233.4,853.5 233.4,840.1 233.4,853.5 233.4,842.8 233.4,847.7 233.4,853.1 233.4,853.0 233.4,836.6 233.4,829.0 233.4,842.2 233.4,848.3 233.4,841.3 233.4,830.3 233.4,853.8 233.4,833.0 233.4,845.3 233.4,854.2 233.4,826.2 233.4,849.4 233.4,828.0 233.4,847.4 233.4,853.9 233.4,853.5 233.5,852.4 233.5,850.6 233.5,844.5 233.5,851.4 233.5,849.2 233.5,848.3 233.5,850.2 233.5,842.8 233.5,841.6 233.5,848.7 233.5,851.9 233.5,849.3 233.5,842.0 233.5,853.3 233.5,852.1 233.5,783.6 233.5,815.9 233.5,848.7 233.5,829.8 233.5,839.6 233.5,838.4 233.5,822.0 233.5,851.1 233.5,853.9 233.5,849.5 233.5,846.3 233.5,849.2 233.5,852.8 233.5,830.4 233.5,848.3 233.5,852.6 233.5,838.6 233.5,840.3 233.5,852.6 233.5,830.4 233.5,850.2 233.5,843.0 233.5,750.4 233.5,792.8 233.5,849.6 233.5,846.3 233.5,839.5 233.5,852.0 233.5,853.0 233.5,849.5 233.5,834.8 233.5,836.4 233.5,840.5 233.5,851.0 233.5,854.3 233.5,843.7 233.5,838.4 233.5,852.5 233.5,850.7 233.5,853.6 233.5,848.6 233.5,853.9 233.5,836.0 233.5,854.3 233.5,829.3 233.5,847.1 233.5,854.1 233.5,834.4 233.5,830.5 233.5,852.6 233.5,818.1 233.5,821.9 233.5,846.9 233.5,828.9 233.5,833.5 233.6,839.9 233.6,841.6 233.6,853.2 233.6,850.4 233.6,853.5 233.6,847.0 233.6,853.5 233.6,849.4 233.6,841.5 233.6,844.0 233.6,847.9 233.6,853.9 233.6,825.6 233.6,837.0 233.6,842.7 233.6,853.2 233.6,844.6 233.6,851.2 233.6,847.3 233.6,854.1 233.6,814.9 233.6,842.9 233.6,851.1 233.6,846.5 233.6,846.7 233.6,848.9 233.6,841.4 233.6,849.4 233.6,851.1 233.6,846.7 233.6,850.6 233.6,852.6 233.6,827.3 233.6,846.8 233.6,842.5 233.6,848.0 233.6,848.2 233.6,853.5 233.6,850.0 233.6,842.0 233.6,849.6 233.6,854.0 233.6,846.8 233.6,838.1 233.6,834.7 233.6,835.4 233.6,847.9 233.6,841.8 233.6,850.2 233.6,849.2 233.6,846.8 233.6,850.1 233.6,820.7 233.6,815.7 233.6,851.8 233.6,848.1 233.6,850.0 233.6,849.2 233.6,845.8 233.6,847.0 233.6,849.2 233.6,848.5 233.6,850.8 233.6,850.9 233.6,853.5 233.6,829.4 233.6,850.9 233.7,840.6 233.7,853.3 233.7,852.7 233.7,832.6 233.7,824.3 233.7,852.2 233.7,844.1 233.7,840.2 233.7,854.1 233.7,844.5 233.7,833.3 233.7,851.7 233.7,820.9 233.7,841.6 233.7,853.9 233.7,854.2 233.7,849.2 233.7,852.2 233.7,851.7 233.7,843.7 233.7,851.2 233.7,847.2 233.7,844.9 233.7,842.0 233.7,848.8 233.7,837.6 233.7,843.9 233.7,845.4 233.7,851.1 233.7,850.2 233.7,841.1 233.7,846.1 233.7,847.1 233.7,830.5 233.7,705.7 233.7,821.1 233.7,853.7 233.7,817.6 233.7,817.9 233.7,853.3 233.7,839.8 233.7,843.5 233.7,852.9 233.7,852.1 233.7,849.2 233.7,846.5 233.7,849.9 233.7,851.9 233.7,836.6 233.7,825.8 233.7,853.0 233.7,853.2 233.7,838.2 233.7,820.7 233.7,821.9 233.7,843.4 233.7,838.3 233.7,808.9 233.7,826.2 233.7,767.3 233.7,809.3 233.7,849.7 233.8,852.2 233.8,845.2 233.8,852.3 233.8,854.3 233.8,853.2 233.8,850.6 233.8,821.7 233.8,827.8 233.8,841.0 233.8,849.6 233.8,854.0 233.8,853.4 233.8,836.7 233.8,840.6 233.8,852.4 233.8,853.3 233.8,854.0 233.8,846.7 233.8,849.9 233.8,850.8 233.8,837.3 233.8,852.4 233.8,837.2 233.8,853.1 233.8,846.5 233.8,848.2 233.8,817.6 233.8,832.5 233.8,851.6 233.8,832.3 233.8,824.1 233.8,836.2 233.8,847.7 233.8,823.9 233.8,850.6 233.8,827.1 233.8,849.7 233.8,850.4 233.8,852.3 233.8,852.4 233.8,845.3 233.8,850.9 233.8,849.1 233.8,853.6 233.8,837.3 233.8,846.1 233.8,844.8 233.8,846.8 233.8,844.3 233.8,819.0 233.8,833.5 233.8,846.9 233.8,851.5 233.8,848.5 233.8,849.7 233.8,844.3 233.8,841.8 233.8,836.5 233.8,814.6 233.8,849.1 233.9,850.6 233.9,843.7 233.9,836.1 233.9,853.6 233.9,848.5 233.9,847.5 233.9,851.3 233.9,844.8 233.9,842.2 233.9,853.4 233.9,845.2 233.9,835.1 233.9,826.3 233.9,853.2 233.9,833.3 233.9,844.6 233.9,846.3 233.9,850.8 233.9,853.9 233.9,844.3 233.9,839.3 233.9,847.9 233.9,853.9 233.9,841.1 233.9,822.5 233.9,839.9 233.9,834.3 233.9,852.4 233.9,832.2 233.9,834.2 233.9,842.8 233.9,849.5 233.9,841.2 233.9,834.0 233.9,853.9 233.9,825.9 233.9,834.1 233.9,853.3 233.9,845.8 233.9,853.2 233.9,847.1 233.9,854.1 233.9,841.4 233.9,850.6 233.9,848.7 233.9,851.1 233.9,851.1 233.9,849.7 233.9,851.0 233.9,845.3 233.9,839.7 233.9,852.8 233.9,845.8 233.9,851.5 233.9,849.6 233.9,849.6 233.9,824.5 234.0,836.7 234.0,849.0 234.0,849.8 234.0,846.5 234.0,853.7 234.0,850.4 234.0,841.5 234.0,841.7 234.0,849.8 234.0,825.5 234.0,842.2 234.0,853.8 234.0,850.3 234.0,854.1 234.0,851.5 234.0,850.6 234.0,853.0 234.0,843.4 234.0,843.9 234.0,846.8 234.0,845.6 234.0,825.0 234.0,837.8 234.0,851.6 234.0,846.3 234.0,847.3 234.0,844.4 234.0,853.1 234.0,852.6 234.0,852.2 234.0,843.5 234.0,836.8 234.0,823.9 234.0,840.9 234.0,767.3 234.0,767.5 234.0,831.7 234.0,847.8 234.0,820.6 234.0,808.4 234.0,839.2 234.0,846.7 234.0,850.9 234.0,851.3 234.0,845.8 234.0,849.0 234.0,853.9 234.0,848.0 234.0,851.8 234.0,846.9 234.0,851.2 234.0,835.0 234.0,828.5 234.0,851.1 234.1,851.4 234.1,851.2 234.1,840.1 234.1,781.6 234.1,791.1 234.1,843.1 234.1,837.9 234.1,784.9 234.1,767.3 234.1,822.8 234.1,799.2 234.1,829.2 234.1,837.2 234.1,839.8 234.1,849.2 234.1,850.4 234.1,849.0 234.1,852.2 234.1,853.0 234.1,852.3 234.1,833.3 234.1,825.8 234.1,843.1 234.1,847.3 234.1,852.2 234.1,852.0 234.1,851.6 234.1,847.7 234.1,834.4 234.1,834.4 234.1,849.5 234.1,853.7 234.1,854.3 234.1,845.6 234.1,848.0 234.1,854.1 234.1,838.9 234.1,832.6 234.1,847.0 234.1,843.2 234.1,852.9 234.1,829.4 234.1,842.3 234.1,845.7 234.1,820.9 234.1,826.8 234.1,846.4 234.1,851.2 234.1,837.7 234.1,840.0 234.1,842.2 234.1,851.3 234.2,837.3 234.2,849.4 234.2,825.2 234.2,842.5 234.2,851.9 234.2,847.6 234.2,853.3 234.2,853.5 234.2,844.8 234.2,845.7 234.2,854.0 234.2,845.8 234.2,853.4 234.2,831.3 234.2,848.2 234.2,844.4 234.2,825.4 234.2,852.3 234.2,840.5 234.2,830.4 234.2,831.1 234.2,848.2 234.2,849.9 234.2,850.0 234.2,853.4 234.2,849.1 234.2,829.4 234.2,832.3 234.2,842.9 234.2,822.9 234.2,849.5 234.2,851.9 234.2,850.2 234.2,844.4 234.2,838.0 234.2,850.7 234.2,853.8 234.2,850.6 234.2,849.0 234.2,852.4 234.2,847.2 234.2,843.0 234.2,853.1 234.2,845.0 234.2,846.5 234.2,831.4 234.2,831.8 234.2,851.4 234.2,826.3 234.3,836.0 234.3,846.2 234.3,842.5 234.3,849.8 234.3,854.0 234.3,851.1 234.3,841.0 234.3,839.7 234.3,853.0 234.3,853.5 234.3,839.8 234.3,822.9 234.3,842.3 234.3,844.7 234.3,849.1 234.3,847.9 234.3,832.1 234.3,830.4 234.3,825.6 234.3,852.8 234.3,845.8 234.3,837.5 234.3,823.1 234.3,846.3 234.3,848.7 234.3,845.6 234.3,851.5 234.3,832.3 234.3,846.0 234.3,853.3 234.3,849.2 234.3,851.8 234.3,849.0 234.3,847.0 234.3,839.3 234.3,847.3 234.3,852.4 234.3,849.8 234.3,852.5 234.3,839.9 234.3,851.7 234.3,839.4 234.3,842.7 234.3,854.2 234.3,849.8 234.3,841.9 234.3,841.8 234.3,843.8 234.4,850.2 234.4,829.2 234.4,828.3 234.4,837.9 234.4,850.0 234.4,851.1 234.4,853.2 234.4,850.6 234.4,847.4 234.4,849.2 234.4,843.3 234.4,841.2 234.4,847.2 234.4,839.7 234.4,847.6 234.4,854.0 234.4,844.1 234.4,842.1 234.4,853.3 234.4,850.7 234.4,846.7 234.4,849.0 234.4,849.9 234.4,835.8 234.4,846.1 234.4,843.9 234.4,840.3 234.4,823.8 234.4,819.9 234.4,841.6 234.4,854.2 234.4,853.3 234.4,853.5 234.4,852.3 234.4,854.2 234.4,841.4 234.4,844.3 234.4,852.9 234.4,846.3 234.4,844.2 234.4,814.1 234.4,817.9 234.4,840.1 234.4,796.0 234.4,800.2 234.5,819.9 234.5,827.1 234.5,841.2 234.5,827.4 234.5,821.8 234.5,820.9 234.5,840.4 234.5,852.6 234.5,852.9 234.5,851.3 234.5,837.7 234.5,845.0 234.5,852.0 234.5,852.3 234.5,852.7 234.5,849.8 234.5,844.5 234.5,843.3 234.5,852.2 234.5,838.4 234.5,848.2 234.5,845.2 234.5,837.7 234.5,851.7 234.5,853.3 234.5,812.7 234.5,754.8 234.5,789.5 234.5,843.6 234.5,847.3 234.5,798.9 234.5,718.3 234.5,797.6 234.5,843.7 234.5,839.9 234.5,841.9 234.5,823.2 234.5,814.8 234.5,824.3 234.5,847.0 234.5,844.8 234.5,840.9 234.5,846.4 234.5,850.1 234.6,850.8 234.6,847.5 234.6,839.0 234.6,837.6 234.6,849.5 234.6,851.3 234.6,844.9 234.6,852.6 234.6,848.1 234.6,846.6 234.6,851.0 234.6,845.7 234.6,832.1 234.6,823.5 234.6,841.8 234.6,852.9 234.6,853.9 234.6,852.5 234.6,844.0 234.6,849.1 234.6,853.6 234.6,842.3 234.6,816.9 234.6,835.4 234.6,845.4 234.6,848.3 234.6,849.5 234.6,816.7 234.6,811.8 234.6,841.0 234.6,847.6 234.6,830.4 234.6,821.8 234.6,817.4 234.6,843.2 234.6,851.6 234.6,850.4 234.6,844.2 234.6,833.1 234.6,849.1 234.6,853.3 234.6,846.2 234.6,851.1 234.7,825.6 234.7,839.0 234.7,853.8 234.7,839.8 234.7,844.9 234.7,852.1 234.7,852.0 234.7,848.4 234.7,836.0 234.7,848.0 234.7,852.4 234.7,840.8 234.7,845.5 234.7,845.8 234.7,837.4 234.7,853.8 234.7,836.5 234.7,810.7 234.7,839.9 234.7,854.2 234.7,841.3 234.7,844.2 234.7,838.6 234.7,846.7 234.7,846.4 234.7,839.1 234.7,849.8 234.7,853.8 234.7,852.5 234.7,827.8 234.7,810.9 234.7,840.5 234.7,848.1 234.7,846.8 234.7,854.3 234.7,849.7 234.7,848.0 234.7,851.5 234.7,849.4 234.7,846.4 234.7,850.8 234.8,852.3 234.8,853.7 234.8,851.4 234.8,846.4 234.8,849.1 234.8,853.7 234.8,846.6 234.8,848.2 234.8,852.7 234.8,843.6 234.8,844.0 234.8,849.7 234.8,839.0 234.8,847.9 234.8,849.7 234.8,830.7 234.8,829.8 234.8,846.4 234.8,847.5 234.8,841.8 234.8,849.5 234.8,852.3 234.8,853.4 234.8,850.4 234.8,842.0 234.8,845.4 234.8,853.0 234.8,852.7 234.8,853.9 234.8,842.1 234.8,826.3 234.8,842.7 234.8,851.3 234.8,843.4 234.8,853.7 234.8,845.1 234.8,842.3 234.8,838.6 234.8,819.3 234.9,843.3 234.9,851.9 234.9,851.8 234.9,847.1 234.9,818.0 234.9,810.2 234.9,843.3 234.9,852.5 234.9,850.0 234.9,850.8 234.9,831.0 234.9,824.9 234.9,847.2 234.9,853.1 234.9,845.4 234.9,839.8 234.9,853.4 234.9,850.3 234.9,848.4 234.9,832.2 234.9,837.4 234.9,850.4 234.9,850.4 234.9,845.9 234.9,852.9 234.9,836.6 234.9,846.8 234.9,850.3 234.9,834.5 234.9,842.2 234.9,853.5 234.9,852.6 234.9,843.7 234.9,837.1 234.9,826.0 234.9,830.4 234.9,849.7 234.9,846.9 235.0,830.9 235.0,830.1 235.0,830.0 235.0,838.5 235.0,854.0 235.0,852.6 235.0,853.3 235.0,845.1 235.0,837.7 235.0,843.2 235.0,853.6 235.0,845.5 235.0,842.3 235.0,847.0 235.0,850.4 235.0,852.2 235.0,854.1 235.0,849.4 235.0,828.9 235.0,821.0 235.0,839.2 235.0,848.6 235.0,846.3 235.0,840.0 235.0,844.9 235.0,848.8 235.0,845.8 235.0,832.8 235.0,844.6 235.0,850.5 235.0,842.2 235.0,837.0 235.0,826.2 235.0,822.2 235.0,831.7 235.0,851.1 235.0,853.1 235.0,853.0 235.1,851.3 235.1,853.0 235.1,851.9 235.1,838.0 235.1,812.0 235.1,819.6 235.1,843.7 235.1,852.7 235.1,852.9 235.1,844.4 235.1,811.0 235.1,785.3 235.1,803.7 235.1,847.6 235.1,838.5 235.1,834.6 235.1,822.9 235.1,805.6 235.1,807.8 235.1,842.0 235.1,848.1 235.1,839.2 235.1,816.3 235.1,823.9 235.1,842.9 235.1,851.7 235.1,852.8 235.1,854.0 235.1,845.5 235.1,831.2 235.1,841.2 235.1,848.3 235.1,853.6 235.1,853.3 235.1,853.8 235.2,851.0 235.2,845.1 235.2,833.3 235.2,842.8 235.2,853.4 235.2,852.5 235.2,851.8 235.2,840.4 235.2,822.4 235.2,807.3 235.2,830.4 235.2,839.2 235.2,837.2 235.2,795.8 235.2,775.1 235.2,798.9 235.2,832.1 235.2,844.1 235.2,846.7 235.2,817.1 235.2,773.2 235.2,792.4 235.2,825.2 235.2,852.2 235.2,853.6 235.2,844.2 235.2,825.6 235.2,808.8 235.2,807.1 235.2,829.3 235.2,848.3 235.2,848.1 235.2,842.3 235.2,844.9 235.2,849.5 235.3,852.0 235.3,848.2 235.3,832.6 235.3,835.6 235.3,836.1 235.3,836.5 235.3,847.6 235.3,853.5 235.3,842.9 235.3,835.2 235.3,846.9 235.3,848.6 235.3,843.6 235.3,845.7 235.3,850.4 235.3,850.9 235.3,843.5 235.3,828.4 235.3,824.5 235.3,841.6 235.3,853.0 235.3,852.6 235.3,851.5 235.3,851.9 235.3,846.5 235.3,845.3 235.3,846.6 235.3,851.8 235.3,840.4 235.3,822.9 235.3,831.2 235.3,845.2 235.3,851.5 235.3,853.4 235.4,850.7 235.4,824.7 235.4,797.9 235.4,817.2 235.4,823.3 235.4,840.1 235.4,849.0 235.4,841.8 235.4,827.0 235.4,816.9 235.4,822.9 235.4,830.0 235.4,846.7 235.4,854.0 235.4,846.6 235.4,825.6 235.4,822.0 235.4,842.3 235.4,852.0 235.4,849.4 235.4,850.1 235.4,849.5 235.4,834.6 235.4,845.8 235.4,853.2 235.4,843.0 235.4,833.4 235.4,840.6 235.4,847.4 235.4,847.2 235.4,852.8 235.4,840.4 235.4,835.8 235.5,845.3 235.5,853.7 235.5,846.0 235.5,832.3 235.5,833.8 235.5,849.0 235.5,844.3 235.5,849.3 235.5,853.0 235.5,843.8 235.5,814.8 235.5,816.3 235.5,841.1 235.5,853.2 235.5,848.7 235.5,847.6 235.5,852.1 235.5,839.1 235.5,842.8 235.5,845.2 235.5,835.4 235.5,836.8 235.5,847.3 235.5,853.9 235.5,852.4 235.5,853.1 235.5,826.1 235.5,808.4 235.5,821.8 235.5,845.9 235.5,853.6 235.5,854.2 235.6,851.1 235.6,845.6 235.6,836.4 235.6,839.9 235.6,846.6 235.6,853.7 235.6,853.9 235.6,854.0 235.6,853.9 235.6,851.7 235.6,851.2 235.6,852.8 235.6,848.2 235.6,837.0 235.6,838.3 235.6,851.8 235.6,851.5 235.6,843.1 235.6,838.3 235.6,844.1 235.6,845.8 235.6,838.5 235.6,844.1 235.6,853.8 235.6,850.4 235.6,849.3 235.6,853.1 235.6,853.4 235.6,846.1 235.6,840.0 235.6,845.0 235.7,850.9 235.7,853.3 235.7,849.9 235.7,847.9 235.7,850.1 235.7,849.1 235.7,849.6 235.7,853.2 235.7,851.6 235.7,847.9 235.7,849.0 235.7,853.6 235.7,849.2 235.7,844.5 235.7,848.8 235.7,853.6 235.7,846.0 235.7,828.5 235.7,835.4 235.7,852.0 235.7,844.3 235.7,848.3 235.7,853.0 235.7,847.3 235.7,844.6 235.7,850.3 235.7,848.9 235.7,834.7 235.7,836.6 235.7,839.7 235.8,831.2 235.8,842.1 235.8,853.9 235.8,842.1 235.8,813.9 235.8,809.6 235.8,829.3 235.8,851.0 235.8,852.3 235.8,845.0 235.8,848.5 235.8,847.6 235.8,831.0 235.8,834.4 235.8,847.4 235.8,853.9 235.8,848.4 235.8,838.2 235.8,837.0 235.8,851.4 235.8,853.9 235.8,853.7 235.8,850.1 235.8,838.6 235.8,837.1 235.8,846.5 235.8,852.9 235.8,845.6 235.8,834.5 235.8,844.9 235.9,850.2 235.9,838.8 235.9,844.6 235.9,853.4 235.9,851.2 235.9,839.8 235.9,840.4 235.9,848.6 235.9,852.7 235.9,852.0 235.9,848.0 235.9,843.2 235.9,834.3 235.9,815.6 235.9,826.2 235.9,843.0 235.9,849.4 235.9,852.4 235.9,848.9 235.9,841.8 235.9,830.4 235.9,826.9 235.9,842.7 235.9,853.4 235.9,850.9 235.9,850.6 235.9,847.9 235.9,840.9 235.9,830.0 236.0,826.4 236.0,835.3 236.0,852.0 236.0,853.0 236.0,849.9 236.0,848.0 236.0,848.5 236.0,851.5 236.0,854.2 236.0,853.1 236.0,853.2 236.0,848.1 236.0,832.0 236.0,813.6 236.0,815.7 236.0,830.5 236.0,839.3 236.0,844.3 236.0,845.2 236.0,842.2 236.0,844.2 236.0,845.9 236.0,851.8 236.0,847.2 236.0,837.2 236.0,839.5 236.0,852.9 236.0,852.2 236.1,846.3 236.1,843.3 236.1,841.2 236.1,841.7 236.1,841.8 236.1,840.6 236.1,848.1 236.1,849.8 236.1,848.9 236.1,848.8 236.1,846.3 236.1,845.1 236.1,847.2 236.1,847.6 236.1,841.5 236.1,824.1 236.1,802.3 236.1,801.7 236.1,813.8 236.1,836.5 236.1,851.2 236.1,851.5 236.1,851.1 236.1,847.6 236.1,822.1 236.1,777.2 236.1,735.2 236.1,776.7 236.2,832.4 236.2,853.2 236.2,854.1 236.2,846.6 236.2,819.4 236.2,787.8 236.2,767.9 236.2,772.7 236.2,824.0 236.2,850.8 236.2,853.8 236.2,851.9 236.2,835.0 236.2,830.3 236.2,840.6 236.2,847.2 236.2,850.1 236.2,847.7 236.2,845.5 236.2,852.3 236.2,850.9 236.2,834.9 236.2,834.5 236.2,842.7 236.2,848.6 236.2,853.0 236.3,853.9 236.3,851.7 236.3,852.8 236.3,854.1 236.3,851.7 236.3,845.4 236.3,833.0 236.3,832.0 236.3,843.2 236.3,847.7 236.3,851.4 236.3,853.5 236.3,848.4 236.3,837.3 236.3,820.7 236.3,796.4 236.3,800.9 236.3,802.6 236.3,806.0 236.3,825.4 236.3,827.3 236.3,815.4 236.3,807.0 236.3,809.3 236.3,813.6 236.3,804.6 236.3,776.9 236.4,786.6 236.4,820.7 236.4,832.2 236.4,813.9 236.4,797.1 236.4,791.1 236.4,812.9 236.4,837.6 236.4,842.5 236.4,842.9 236.4,842.2 236.4,839.2 236.4,832.5 236.4,824.3 236.4,827.5 236.4,839.5 236.4,851.3 236.4,854.0 236.4,853.6 236.4,852.5 236.4,852.9 236.4,853.7 236.4,853.8 236.4,854.3 236.4,851.4 236.5,836.6 236.5,818.2 236.5,815.9 236.5,823.7 236.5,831.1 236.5,834.4 236.5,839.4 236.5,849.1 236.5,848.6 236.5,837.4 236.5,826.2 236.5,827.9 236.5,843.9 236.5,849.1 236.5,845.0 236.5,842.2 236.5,845.5 236.5,849.6 236.5,852.2 236.5,852.6 236.5,849.6 236.5,841.1 236.5,832.0 236.5,835.6 236.5,846.7 236.6,853.3 236.6,852.6 236.6,844.9 236.6,842.3 236.6,848.6 236.6,851.0 236.6,849.8 236.6,844.2 236.6,839.3 236.6,837.1 236.6,841.0 236.6,840.3 236.6,832.7 236.6,832.1 236.6,841.2 236.6,848.9 236.6,852.2 236.6,852.6 236.6,852.5 236.6,853.4 236.6,852.5 236.6,837.9 236.6,822.1 236.6,826.3 236.6,817.0 236.7,806.0 236.7,815.8 236.7,830.3 236.7,842.7 236.7,849.6 236.7,847.4 236.7,839.9 236.7,833.6 236.7,824.7 236.7,816.5 236.7,819.2 236.7,837.6 236.7,849.2 236.7,853.4 236.7,842.2 236.7,825.3 236.7,819.0 236.7,829.9 236.7,841.9 236.7,849.6 236.7,850.8 236.7,844.8 236.7,848.2 236.7,853.0 236.8,847.5 236.8,845.8 236.8,851.3 236.8,851.2 236.8,847.3 236.8,844.0 236.8,838.6 236.8,837.9 236.8,842.7 236.8,842.5 236.8,842.6 236.8,849.6 236.8,853.0 236.8,844.9 236.8,841.3 236.8,844.7 236.8,848.9 236.8,853.0 236.8,851.6 236.8,842.5 236.8,830.6 236.8,830.6 236.8,844.8 236.8,850.5 236.9,847.3 236.9,846.1 236.9,844.3 236.9,850.2 236.9,851.9 236.9,835.9 236.9,821.0 236.9,820.6 236.9,835.0 236.9,846.5 236.9,850.2 236.9,848.5 236.9,848.0 236.9,853.1 236.9,850.9 236.9,838.9 236.9,836.8 236.9,841.1 236.9,841.4 236.9,837.1 236.9,837.4 236.9,841.9 236.9,848.6 237.0,851.7 237.0,845.8 237.0,841.2 237.0,846.4 237.0,844.6 237.0,826.6 237.0,816.4 237.0,819.5 237.0,831.3 237.0,845.3 237.0,851.5 237.0,852.5 237.0,850.0 237.0,847.3 237.0,845.5 237.0,838.1 237.0,831.0 237.0,833.0 237.0,836.7 237.0,844.7 237.0,851.0 237.0,853.3 237.0,853.2 237.1,853.0 237.1,853.6 237.1,852.8 237.1,849.3 237.1,848.1 237.1,850.1 237.1,848.7 237.1,840.1 237.1,826.9 237.1,822.3 237.1,833.9 237.1,849.7 237.1,851.1 237.1,838.4 237.1,824.7 237.1,819.9 237.1,822.8 237.1,841.1 237.1,840.4 237.1,831.1 237.1,833.5 237.1,844.5 237.2,854.0 237.2,852.0 237.2,848.7 237.2,849.1 237.2,849.7 237.2,851.6 237.2,853.5 237.2,852.6 237.2,850.0 237.2,848.5 237.2,847.5 237.2,845.8 237.2,847.5 237.2,852.9 237.2,854.3 237.2,853.1 237.2,852.2 237.2,850.9 237.2,847.7 237.2,845.7 237.2,847.9 237.2,852.1 237.3,853.6 237.3,853.0 237.3,852.3 237.3,853.1 237.3,854.3 237.3,851.0 237.3,841.9 237.3,832.1 237.3,826.1 237.3,833.2 237.3,845.8 237.3,852.0 237.3,847.6 237.3,831.0 237.3,822.6 237.3,832.3 237.3,845.6 237.3,847.2 237.3,847.6 237.3,851.5 237.3,852.5 237.4,848.8 237.4,845.6 237.4,844.0 237.4,846.0 237.4,852.1 237.4,853.7 237.4,845.0 237.4,832.5 237.4,830.5 237.4,823.2 237.4,805.5 237.4,796.1 237.4,807.6 237.4,830.4 237.4,845.5 237.4,848.0 237.4,836.7 237.4,826.2 237.4,820.2 237.4,826.8 237.4,845.8 237.5,852.9 237.5,850.3 237.5,843.7 237.5,834.5 237.5,840.7 237.5,850.3 237.5,850.6 237.5,842.4 237.5,839.7 237.5,842.0 237.5,848.5 237.5,853.6 237.5,851.9 237.5,845.2 237.5,837.1 237.5,835.0 237.5,842.7 237.5,851.5 237.5,852.3 237.5,851.8 237.5,853.4 237.6,854.1 237.6,851.0 237.6,845.8 237.6,844.3 237.6,848.1 237.6,852.8 237.6,852.4 237.6,839.4 237.6,821.9 237.6,818.2 237.6,829.6 237.6,845.6 237.6,844.4 237.6,836.6 237.6,836.1 237.6,843.2 237.6,849.6 237.6,852.3 237.6,848.0 237.6,840.5 237.7,836.4 237.7,837.8 237.7,844.4 237.7,847.0 237.7,848.0 237.7,848.5 237.7,847.7 237.7,847.7 237.7,850.3 237.7,847.8 237.7,837.6 237.7,832.0 237.7,835.7 237.7,838.9 237.7,836.9 237.7,838.3 237.7,844.6 237.7,850.5 237.7,852.8 237.7,849.8 237.8,840.4 237.8,830.3 237.8,830.8 237.8,841.7 237.8,852.6 237.8,852.4 237.8,848.4 237.8,846.8 237.8,845.3 237.8,844.1 237.8,842.7 237.8,838.3 237.8,827.4 237.8,817.7 237.8,819.3 237.8,824.9 237.8,838.5 237.8,851.2 237.8,854.1 237.8,853.9 237.9,853.1 237.9,851.5 237.9,849.6 237.9,849.5 237.9,851.5 237.9,852.9 237.9,852.1 237.9,852.2 237.9,853.4 237.9,852.5 237.9,848.7 237.9,840.6 237.9,827.0 237.9,818.1 237.9,820.2 237.9,827.0 237.9,831.8 237.9,834.4 237.9,840.2 238.0,846.3 238.0,849.7 238.0,849.8 238.0,848.6 238.0,848.2 238.0,848.9 238.0,851.5 238.0,853.5 238.0,849.4 238.0,843.4 238.0,841.8 238.0,845.9 238.0,851.4 238.0,850.9 238.0,844.8 238.0,837.0 238.0,831.3 238.0,825.9 238.0,827.3 238.1,835.6 238.1,844.7 238.1,851.1 238.1,852.6 238.1,852.9 238.1,852.8 238.1,851.2 238.1,849.4 238.1,848.7 238.1,848.9 238.1,848.2 238.1,846.1 238.1,844.3 238.1,843.8 238.1,844.9 238.1,846.0 238.1,845.5 238.1,842.6 238.1,835.7 238.2,826.2 238.2,816.2 238.2,811.8 238.2,811.3 238.2,815.0 238.2,824.9 238.2,834.2 238.2,837.4 238.2,826.5 238.2,817.5 238.2,819.6 238.2,827.6 238.2,833.3 238.2,823.8 238.2,795.9 238.2,759.1 238.2,736.2 238.2,755.5 238.2,789.9 238.3,823.2 238.3,840.7 238.3,843.2 238.3,844.2 238.3,845.5 238.3,837.1 238.3,813.4 238.3,789.3 238.3,769.1 238.3,746.1 238.3,742.1 238.3,771.9 238.3,803.0 238.3,824.8 238.3,837.9 238.3,846.0 238.3,851.5 238.3,850.5 238.4,844.5 238.4,841.3 238.4,843.5 238.4,847.1 238.4,849.7 238.4,849.3 238.4,845.5 238.4,838.0 238.4,830.4 238.4,831.6 238.4,840.0 238.4,850.8 238.4,854.0 238.4,846.6 238.4,837.2 238.4,837.0 238.4,843.4 238.4,848.8 238.5,852.6 238.5,853.6 238.5,851.9 238.5,847.3 238.5,842.3 238.5,839.9 238.5,842.1 238.5,848.7 238.5,853.1 238.5,852.9 238.5,848.4 238.5,840.9 238.5,835.2 238.5,835.6 238.5,840.3 238.5,843.2 238.5,841.7 238.6,842.7 238.6,847.0 238.6,851.9 238.6,854.3 238.6,853.0 238.6,848.7 238.6,843.7 238.6,835.0 238.6,820.6 238.6,810.2 238.6,804.3 238.6,789.3 238.6,777.4 238.6,785.1 238.6,804.8 238.6,825.9 238.6,838.8 238.6,842.8 238.7,842.4 238.7,838.0 238.7,831.0 238.7,817.1 238.7,791.6 238.7,755.5 238.7,696.1 238.7,642.0 238.7,662.0 238.7,713.1 238.7,769.0 238.7,812.6 238.7,826.3 238.7,821.7 238.7,809.0 238.7,796.2 238.7,793.5 238.8,799.7 238.8,809.8 238.8,821.3 238.8,825.7 238.8,827.0 238.8,830.8 238.8,835.4 238.8,840.0 238.8,844.3 238.8,846.8 238.8,845.9 238.8,842.8 238.8,841.2 238.8,843.6 238.8,848.7 238.8,851.7 238.9,849.8 238.9,846.7 238.9,846.9 238.9,849.1 238.9,850.8 238.9,851.0 238.9,849.7 238.9,847.3 238.9,845.5 238.9,846.2 238.9,848.5 238.9,850.1 238.9,847.4 238.9,839.6 238.9,830.3 238.9,820.6 238.9,814.7 239.0,814.2 239.0,816.9 239.0,823.7 239.0,832.5 239.0,838.4 239.0,841.9 239.0,845.3 239.0,848.3 239.0,849.2 239.0,846.6 239.0,838.8 239.0,827.3 239.0,820.6 239.0,819.9 239.0,826.0 239.0,837.2 239.1,846.5 239.1,849.7 239.1,848.8 239.1,845.4 239.1,842.2 239.1,842.7 239.1,845.4 239.1,847.7 239.1,849.5 239.1,850.5 239.1,851.3 239.1,852.3 239.1,852.0 239.1,848.3 239.1,842.4 239.1,839.3 239.1,841.8 239.2,847.2 239.2,851.7 239.2,854.1 239.2,852.8 239.2,847.7 239.2,839.3 239.2,832.6 239.2,832.1 239.2,835.1 239.2,839.8 239.2,846.4 239.2,851.7 239.2,851.5 239.2,845.0 239.2,837.1 239.2,830.5 239.3,825.0 239.3,823.7 239.3,827.7 239.3,830.0 239.3,831.3 239.3,833.8 239.3,837.7 239.3,844.1 239.3,849.8 239.3,852.8 239.3,853.3 239.3,851.1 239.3,846.7 239.3,841.9 239.3,838.1 239.4,836.1 239.4,839.6 239.4,846.6 239.4,852.4 239.4,853.9 239.4,851.6 239.4,848.3 239.4,843.2 239.4,830.8 239.4,811.5 239.4,796.9 239.4,791.9 239.4,794.2 239.4,799.9 239.4,807.1 239.4,818.9 239.5,833.7 239.5,845.5 239.5,852.2 239.5,854.0 239.5,852.8 239.5,851.0 239.5,847.4 239.5,838.8 239.5,827.9 239.5,818.2 239.5,813.5 239.5,819.8 239.5,830.3 239.5,840.0 239.5,849.2 239.6,854.1 239.6,852.2 239.6,843.9 239.6,834.6 239.6,826.9 239.6,822.0 239.6,825.7 239.6,837.0 239.6,846.1 239.6,851.4 239.6,851.9 239.6,849.3 239.6,844.6 239.6,841.5 239.6,844.1 239.7,849.1 239.7,852.2 239.7,851.6 239.7,850.3 239.7,850.6 239.7,852.0 239.7,852.5 239.7,849.8 239.7,845.8 239.7,844.0 239.7,844.6 239.7,845.5 239.7,844.9 239.7,844.1 239.7,845.1 239.8,846.4 239.8,844.9 239.8,841.2 239.8,840.0 239.8,843.0 239.8,848.7 239.8,853.6 239.8,853.3 239.8,848.2 239.8,843.1 239.8,840.4 239.8,839.7 239.8,841.7 239.8,845.3 239.8,849.2 239.9,852.8 239.9,853.7 239.9,850.5 239.9,843.2 239.9,836.9 239.9,835.1 239.9,838.0 239.9,845.4 239.9,851.5 239.9,851.7 239.9,846.4 239.9,839.3 239.9,834.0 239.9,827.4 240.0,823.8 240.0,829.5 240.0,839.2 240.0,848.4 240.0,853.0 240.0,848.7 240.0,838.4 240.0,828.0 240.0,823.4 240.0,827.7 240.0,834.9 240.0,841.1 240.0,846.0 240.0,847.7 240.0,847.3 240.1,847.0 240.1,847.5 240.1,850.0 240.1,853.5 240.1,853.7 240.1,848.4 240.1,841.1 240.1,836.6 240.1,836.0 240.1,836.6 240.1,835.8 240.1,833.9 240.1,831.5 240.1,829.6 240.2,832.7 240.2,840.0 240.2,847.1 240.2,852.3 240.2,852.8 240.2,847.2 240.2,836.5 240.2,823.8 240.2,817.2 240.2,819.8 240.2,828.0 240.2,835.4 240.2,835.7 240.2,830.6 240.3,826.1 240.3,825.0 240.3,826.9 240.3,830.7 240.3,836.4 240.3,842.7 240.3,847.5 240.3,850.5 240.3,851.9 240.3,851.6 240.3,850.0 240.3,848.7 240.3,848.2 240.3,848.8 240.4,849.0 240.4,846.4 240.4,841.1 240.4,836.3 240.4,834.1 240.4,833.0 240.4,832.7 240.4,835.0 240.4,839.4 240.4,844.2 240.4,847.9 240.4,850.4 240.4,851.7 240.4,852.1 240.5,852.2 240.5,852.4 240.5,852.9 240.5,853.2 240.5,852.1 240.5,849.3 240.5,845.9 240.5,843.8 240.5,844.1 240.5,845.7 240.5,846.1 240.5,844.0 240.5,839.0 240.6,831.7 240.6,823.3 240.6,816.6 240.6,815.4 240.6,822.2 240.6,835.1 240.6,847.2 240.6,852.9 240.6,849.5 240.6,838.6 240.6,826.2 240.6,818.3 240.6,815.3 240.7,814.7 240.7,815.1 240.7,820.5 240.7,834.9 240.7,844.4 240.7,835.0 240.7,823.9 240.7,822.3 240.7,826.8 240.7,835.5 240.7,845.7 240.7,852.4 240.7,853.1 240.7,849.2 240.8,843.7 240.8,840.9 240.8,840.2 240.8,839.1 240.8,837.6 240.8,837.9 240.8,841.4 240.8,846.2 240.8,850.4 240.8,852.9 240.8,853.3 240.8,852.2 240.8,850.3 240.9,847.8 240.9,844.7 240.9,841.4 240.9,838.7 240.9,837.9 240.9,840.4 240.9,845.2 240.9,849.3 240.9,851.9 240.9,853.2 240.9,853.7 240.9,853.6 240.9,853.2 241.0,852.0 241.0,849.5 241.0,846.2 241.0,843.8 241.0,843.1 241.0,844.5 241.0,847.8 241.0,851.2 241.0,853.2 241.0,854.0 241.0,854.2 241.0,854.2 241.0,854.3 241.1,854.2 241.1,853.9 241.1,852.7 241.1,849.8 241.1,844.5 241.1,836.2 241.1,827.0 241.1,819.0 241.1,812.3 241.1,808.1 241.1,810.7 241.1,820.6 241.2,832.4 241.2,842.3 241.2,849.2 241.2,851.4 241.2,847.2 241.2,837.6 241.2,826.7 241.2,821.0 241.2,822.0 241.2,826.5 241.2,832.6 241.2,837.8 241.2,840.8 241.3,843.5 241.3,847.0 241.3,850.5 241.3,853.1 241.3,853.7 241.3,851.3 241.3,847.2 241.3,843.7 241.3,841.6 241.3,841.0 241.3,841.4 241.3,842.9 241.4,846.1 241.4,850.1 241.4,853.0 241.4,853.9 241.4,851.9 241.4,847.1 241.4,840.5 241.4,835.4 241.4,832.3 241.4,826.5 241.4,814.0 241.4,798.0 241.5,783.9 241.5,774.4 241.5,772.6 241.5,781.0 241.5,794.9 241.5,807.9 241.5,819.8 241.5,832.9 241.5,843.3 241.5,847.5 241.5,846.6 241.5,843.3 241.5,838.7 241.6,833.6 241.6,830.7 241.6,833.6 241.6,841.9 241.6,849.7 241.6,853.2 241.6,852.4 241.6,848.3 241.6,842.5 241.6,835.7 241.6,827.3 241.6,822.2 241.7,825.8 241.7,834.5 241.7,843.1 241.7,849.7 241.7,852.8 241.7,851.3 241.7,846.8 241.7,842.2 241.7,838.6 241.7,836.6 241.7,837.9 241.8,843.0 241.8,849.1 241.8,853.1 241.8,853.8 241.8,851.4 241.8,846.9 241.8,841.4 241.8,835.8 241.8,832.2 241.8,832.1 241.8,835.9 241.8,842.6 241.9,848.6 241.9,851.0 241.9,850.4 241.9,849.0 241.9,848.2 241.9,848.7 241.9,850.3 241.9,852.4 241.9,853.9 241.9,854.2 241.9,853.0 241.9,850.7 242.0,848.6 242.0,848.3 242.0,849.7 242.0,852.0 242.0,853.9 242.0,853.9 242.0,849.6 242.0,839.3 242.0,823.8 242.0,809.9 242.0,804.6 242.1,806.2 242.1,811.3 242.1,820.4 242.1,831.9 242.1,839.4 242.1,839.9 242.1,836.3 242.1,830.6 242.1,824.1 242.1,820.3 242.1,821.1 242.1,825.6 242.2,831.0 242.2,836.6 242.2,841.7 242.2,845.0 242.2,845.9 242.2,844.4 242.2,841.2 242.2,837.1 242.2,832.9 242.2,830.4 242.2,831.6 242.3,834.8 242.3,836.1 242.3,835.5 242.3,835.3 242.3,835.0 242.3,834.3 242.3,834.0 242.3,833.8 242.3,833.7 242.3,835.5 242.3,840.5 242.4,846.8 242.4,851.9 242.4,854.1 242.4,853.2 242.4,850.4 242.4,847.2 242.4,844.4 242.4,841.8 242.4,838.2 242.4,832.5 242.4,824.5 242.5,816.6 242.5,812.4 242.5,812.5 242.5,815.6 242.5,821.0 242.5,827.9 242.5,835.0 242.5,841.6 242.5,846.9 242.5,849.5 242.5,848.6 242.6,844.9 242.6,840.5 242.6,837.7 242.6,838.2 242.6,842.0 242.6,847.7 242.6,852.6 242.6,854.2 242.6,852.3 242.6,848.3 242.6,844.1 242.7,841.5 242.7,840.4 242.7,840.1 242.7,840.2 242.7,841.2 242.7,842.8 242.7,844.6 242.7,845.9 242.7,845.9 242.7,843.1 242.7,835.9 242.8,825.7 242.8,817.2 242.8,813.2 242.8,812.0 242.8,811.4 242.8,812.6 242.8,817.8 242.8,827.8 242.8,838.4 242.8,845.9 242.8,850.0 242.9,852.3 242.9,853.5 242.9,854.1 242.9,854.3 242.9,854.0 242.9,853.1 242.9,851.8 242.9,850.6 242.9,850.1 242.9,850.6 243.0,851.7 243.0,852.9 243.0,853.5 243.0,853.3 243.0,852.7 243.0,852.4 243.0,852.6 243.0,853.2 243.0,853.8 243.0,854.2 243.0,854.1 243.1,853.9 243.1,853.7 243.1,852.9 243.1,850.8 243.1,847.1 243.1,842.5 243.1,838.5 243.1,836.3 243.1,835.9 243.1,836.6 243.2,837.6 243.2,838.1 243.2,837.8 243.2,837.0 243.2,836.4 243.2,837.2 243.2,839.2 243.2,842.2 243.2,846.1 243.2,850.1 243.2,852.8 243.3,853.5 243.3,852.8 243.3,851.8 243.3,851.1 243.3,851.0 243.3,851.2 243.3,851.8 243.3,852.7 243.3,853.7 243.3,853.9 243.4,852.7 243.4,850.2 243.4,847.3 243.4,844.8 243.4,843.7 243.4,843.7 243.4,844.4 243.4,844.9 243.4,844.5 243.4,843.4 243.5,841.8 243.5,839.1 243.5,835.1 243.5,830.0 243.5,824.5 243.5,818.5 243.5,811.4 243.5,802.5 243.5,793.6 243.5,789.3 243.6,792.7 243.6,801.2 243.6,811.3 243.6,821.1 243.6,830.1 243.6,838.0 243.6,844.1 243.6,847.7 243.6,849.4 243.6,849.7 243.7,849.2 243.7,848.5 243.7,847.9 243.7,847.9 243.7,848.4 243.7,849.2 243.7,850.0 243.7,850.9 243.7,851.5 243.7,851.9 243.8,851.8 243.8,851.3 243.8,850.2 243.8,848.8 243.8,847.0 243.8,845.2 243.8,843.9 243.8,843.1 243.8,842.8 243.8,842.6 243.9,842.1 243.9,841.9 243.9,842.3 243.9,843.8 243.9,845.6 243.9,846.8 243.9,847.1 243.9,846.6 243.9,845.6 243.9,844.2 244.0,842.6 244.0,841.2 244.0,840.3 244.0,839.5 244.0,838.8 244.0,838.7 244.0,839.1 244.0,838.7 244.0,836.2 244.1,831.5 244.1,824.4 244.1,813.0 244.1,795.4 244.1,773.8 244.1,755.2 244.1,744.9 244.1,741.9 244.1,743.8 244.1,750.7 244.2,764.0 244.2,782.3 244.2,801.3 244.2,815.5 244.2,821.8 244.2,820.5 244.2,813.2 244.2,801.9 244.2,789.0 244.3,777.7 244.3,772.1 244.3,774.2 244.3,782.0 244.3,792.5 244.3,804.6 244.3,817.2 244.3,827.1 244.3,831.2 244.3,829.7 244.4,825.2 244.4,820.7 244.4,818.5 244.4,819.8 244.4,824.1 244.4,830.5 244.4,836.6 244.4,839.5 244.4,837.7 244.5,831.9 244.5,823.4 244.5,813.1 244.5,801.1 244.5,787.1 244.5,772.3 244.5,759.7 244.5,753.2 244.5,754.4 244.6,761.6 244.6,771.0 244.6,780.0 244.6,788.8 244.6,797.7 244.6,806.9 244.6,815.9 244.6,824.2 244.6,831.4 244.6,837.7 244.7,842.9 244.7,846.9 244.7,849.4 244.7,850.7 244.7,850.8 244.7,850.5 244.7,850.3 244.7,850.5 244.7,851.0 244.8,851.8 244.8,852.5 244.8,852.9 244.8,852.8 244.8,851.9 244.8,849.9 244.8,846.8 244.8,842.5 244.8,836.6 244.9,829.1 244.9,821.7 244.9,816.8 244.9,815.2 244.9,816.2 244.9,819.4 244.9,825.1 244.9,832.7 244.9,840.5 245.0,847.2 245.0,851.6 245.0,853.9 245.0,854.3 245.0,853.1 245.0,849.9 245.0,844.1 245.0,838.4 245.0,839.9 245.1,845.4 245.1,850.5 245.1,853.1 245.1,853.2 245.1,852.8 245.1,852.1 245.1,850.9 245.1,848.8 245.2,845.6 245.2,841.7 245.2,837.2 245.2,832.7 245.2,828.8 245.2,825.6 245.2,823.4 245.2,822.8 245.2,824.9 245.3,830.0 245.3,836.5 245.3,842.6 245.3,847.5 245.3,851.1 245.3,852.9 245.3,853.0 245.3,851.7 245.3,849.8 245.4,847.7 245.4,846.2 245.4,845.6 245.4,846.1 245.4,847.1 245.4,848.0 245.4,848.5 245.4,848.1 245.4,846.3 245.5,843.6 245.5,840.8 245.5,838.8 245.5,837.9 245.5,837.9 245.5,838.2 245.5,838.2 245.5,837.4 245.6,836.1 245.6,835.4 245.6,836.1 245.6,838.0 245.6,840.2 245.6,842.2 245.6,844.3 245.6,846.7 245.6,849.2 245.7,851.4 245.7,852.5 245.7,852.1 245.7,850.0 245.7,846.0 245.7,840.0 245.7,831.8 245.7,820.4 245.8,805.7 245.8,789.9 245.8,776.9 245.8,769.9 245.8,769.6 245.8,774.5 245.8,782.8 245.8,793.8 245.8,806.7 245.9,820.0 245.9,831.8 245.9,840.3 245.9,845.5 245.9,848.1 245.9,849.2 245.9,849.3 245.9,848.8 246.0,847.4 246.0,844.7 246.0,840.1 246.0,833.0 246.0,823.1 246.0,810.2 246.0,793.5 246.0,771.7 246.1,742.7 246.1,703.5 246.1,651.9 246.1,593.4 246.1,545.4 246.1,528.4 246.1,545.5 246.1,581.8 246.2,621.3 246.2,658.4 246.2,694.8 246.2,731.2 246.2,764.3 246.2,790.7 246.2,809.5 246.2,821.8 246.2,829.3 246.3,833.3 246.3,834.7 246.3,834.4 246.3,832.8 246.3,830.7 246.3,828.8 246.3,827.7 246.3,827.3 246.4,827.6 246.4,828.2 246.4,829.2 246.4,830.5 246.4,831.5 246.4,831.6 246.4,830.3 246.4,828.3 246.5,826.6 246.5,825.9 246.5,826.1 246.5,826.9 246.5,828.4 246.5,830.6 246.5,833.4 246.5,836.4 246.6,839.3 246.6,841.9 246.6,843.9 246.6,845.5 246.6,846.7 246.6,847.7 246.6,848.2 246.6,848.1 246.7,847.7 246.7,847.1 246.7,846.7 246.7,846.8 246.7,847.3 246.7,847.8 246.7,847.8 246.7,846.8 246.8,844.6 246.8,841.4 246.8,837.9 246.8,834.8 246.8,833.0 246.8,832.8 246.8,833.9 246.9,835.7 246.9,837.4 246.9,838.6 246.9,839.3 246.9,839.1 246.9,838.0 246.9,836.0 246.9,833.4 247.0,830.6 247.0,827.7 247.0,824.7 247.0,821.9 247.0,820.3 247.0,820.3 247.0,822.4 247.0,825.9 247.1,829.8 247.1,833.4 247.1,836.4 247.1,838.4 247.1,839.0 247.1,838.2 247.1,836.6 247.1,835.0 247.2,833.7 247.2,832.7 247.2,831.6 247.2,830.5 247.2,829.5 247.2,828.9 247.2,828.8 247.3,829.0 247.3,829.3 247.3,829.6 247.3,830.3 247.3,831.8 247.3,834.4 247.3,837.7 247.3,841.2 247.4,844.2 247.4,846.8 247.4,848.6 247.4,849.9 247.4,850.5 247.4,850.9 247.4,851.1 247.5,851.4 247.5,851.8 247.5,852.3 247.5,852.6 247.5,852.5 247.5,851.5 247.5,849.5 247.5,845.9 247.6,840.7 247.6,834.5 247.6,829.0 247.6,825.3 247.6,823.3 247.6,822.6 247.6,822.8 247.7,823.8 247.7,825.8 247.7,828.7 247.7,832.5 247.7,836.7 247.7,840.8 247.7,844.2 247.7,846.8 247.8,848.7 247.8,850.0 247.8,850.7 247.8,850.9 247.8,850.6 247.8,849.8 247.8,848.6 247.9,847.5 247.9,846.8 247.9,846.4 247.9,846.2 247.9,846.3 247.9,846.4 247.9,846.8 248.0,847.4 248.0,848.0 248.0,848.5 248.0,848.8 248.0,848.9 248.0,849.2 248.0,849.7 248.0,850.5 248.1,851.6 248.1,852.7 248.1,853.5 248.1,853.7 248.1,853.1 248.1,851.7 248.1,850.0 248.2,848.2 248.2,847.0 248.2,846.3 248.2,846.5 248.2,847.3 248.2,848.6 248.2,850.1 248.3,851.6 248.3,852.8 248.3,853.7 248.3,854.1 248.3,854.1 248.3,853.4 248.3,852.1 248.4,850.1 248.4,847.5 248.4,844.0 248.4,839.7 248.4,835.0 248.4,830.2 248.4,825.9 248.5,822.5 248.5,820.1 248.5,818.9 248.5,818.7 248.5,819.7 248.5,821.8 248.5,825.1 248.6,829.5 248.6,834.7 248.6,840.2 248.6,845.4 248.6,849.6 248.6,852.2 248.6,852.8 248.7,851.3 248.7,848.1 248.7,844.1 248.7,839.9 248.7,835.9 248.7,832.2 248.7,828.7 248.8,825.5 248.8,822.9 248.8,821.2 248.8,820.9 248.8,821.8 248.8,823.5 248.8,825.5 248.9,827.8 248.9,830.5 248.9,833.6 248.9,837.0 248.9,840.5 248.9,843.6 248.9,846.2 249.0,848.4 249.0,850.3 249.0,851.9 249.0,853.0 249.0,853.6 249.0,853.8 249.0,854.0 249.1,854.0 249.1,853.9 249.1,853.2 249.1,851.9 249.1,849.7 249.1,846.6 249.1,842.6 249.2,837.7 249.2,832.4 249.2,827.0 249.2,821.7 249.2,816.5 249.2,811.5 249.3,807.3 249.3,804.7 249.3,804.5 249.3,807.0 249.3,811.7 249.3,817.7 249.3,824.2 249.4,830.5 249.4,836.4 249.4,841.5 249.4,845.6 249.4,848.7 249.4,850.7 249.4,852.0 249.5,852.5 249.5,852.5 249.5,851.7 249.5,850.1 249.5,847.4 249.5,843.2 249.5,837.4 249.6,830.1 249.6,822.1 249.6,814.2 249.6,807.1 249.6,801.0 249.6,796.0 249.7,792.3 249.7,789.7 249.7,788.1 249.7,787.1 249.7,786.2 249.7,785.4 249.7,784.8 249.8,785.4 249.8,788.0 249.8,793.0 249.8,799.9 249.8,807.9 249.8,816.0 249.9,823.7 249.9,830.8 249.9,837.2 249.9,842.4 249.9,846.3 249.9,848.7 249.9,850.0 250.0,850.8 250.0,851.4 250.0,852.1 250.0,852.8 250.0,853.4 250.0,853.6 250.1,852.7 250.1,850.6 250.1,847.1 250.1,842.8 250.1,838.0 250.1,833.0 250.1,828.1 250.2,823.6 250.2,819.9 250.2,817.5 250.2,816.7 250.2,817.2 250.2,818.5 250.3,820.0 250.3,821.7 250.3,824.0 250.3,827.3 250.3,831.6 250.3,836.4 250.4,841.1 250.4,845.1 250.4,848.1 250.4,850.2 250.4,851.3 250.4,851.1 250.4,849.4 250.5,846.1 250.5,841.6 250.5,836.5 250.5,831.2 250.5,826.0 250.5,821.2 250.6,816.8 250.6,813.5 250.6,812.1 250.6,813.8 250.6,818.5 250.6,825.3 250.7,832.6 250.7,839.1 250.7,844.4 250.7,848.5 250.7,851.5 250.7,853.4 250.8,854.2 250.8,853.9 250.8,852.9 250.8,851.4 250.8,849.6 250.8,847.6 250.8,845.5 250.9,843.6 250.9,842.2 250.9,841.7 250.9,842.1 250.9,843.2 250.9,844.9 251.0,846.8 251.0,848.6 251.0,850.1 251.0,851.1 251.0,851.5 251.0,851.3 251.1,850.8 251.1,850.3 251.1,850.0 251.1,850.0 251.1,850.3 251.1,850.9 251.2,851.5 251.2,852.2 251.2,852.7 251.2,852.8 251.2,852.6 251.2,851.8 251.3,850.4 251.3,848.6 251.3,846.5 251.3,844.4 251.3,842.6 251.3,841.3 251.4,840.6 251.4,840.7 251.4,841.6 251.4,842.9 251.4,844.6 251.4,846.3 251.5,847.9 251.5,849.2 251.5,850.3 251.5,851.1 251.5,851.8 251.5,852.3 251.6,852.6 251.6,852.6 251.6,852.0 251.6,850.7 251.6,848.7 251.6,846.0 251.7,843.1 251.7,840.5 251.7,838.9 251.7,838.1 251.7,838.4 251.7,839.4 251.8,841.1 251.8,843.3 251.8,845.8 251.8,848.4 251.8,850.8 251.8,852.6 251.9,853.7 251.9,853.6 251.9,852.5 251.9,850.5 251.9,848.2 251.9,845.6 252.0,843.0 252.0,840.3 252.0,837.5 252.0,834.5 252.0,831.3 252.1,828.5 252.1,826.9 252.1,827.2 252.1,829.4 252.1,832.7 252.1,836.1 252.2,839.3 252.2,842.1 252.2,844.8 252.2,847.4 252.2,849.8 252.2,851.8 252.3,853.3 252.3,854.2 252.3,854.2 252.3,853.4 252.3,851.7 252.3,849.0 252.4,845.9 252.4,842.8 252.4,840.4 252.4,839.1 252.4,839.0 252.5,840.0 252.5,841.7 252.5,843.8 252.5,846.1 252.5,848.5 252.5,850.9 252.6,852.8 252.6,854.0 252.6,854.2 252.6,853.4 252.6,851.6 252.6,848.8 252.7,845.1 252.7,840.7 252.7,835.7 252.7,830.6 252.7,825.8 252.8,821.2 252.8,816.7 252.8,811.7 252.8,805.9 252.8,799.6 252.8,793.7 252.9,789.4 252.9,787.5 252.9,788.2 252.9,791.2 252.9,796.0 252.9,802.1 253.0,808.9 253.0,816.2 253.0,823.7 253.0,831.0 253.0,837.8 253.1,843.6 253.1,847.9 253.1,850.4 253.1,851.2 253.1,850.5 253.1,848.7 253.2,846.4 253.2,843.9 253.2,841.5 253.2,839.6 253.2,838.3 253.3,837.8 253.3,838.1 253.3,839.0 253.3,840.1 253.3,841.1 253.3,842.1 253.4,842.9 253.4,843.7 253.4,844.6 253.4,845.5 253.4,846.4 253.5,847.0 253.5,847.5 253.5,847.6 253.5,847.6 253.5,847.4 253.6,847.1 253.6,846.7 253.6,846.2 253.6,845.9 253.6,845.8 253.6,846.1 253.7,846.9 253.7,848.1 253.7,849.6 253.7,851.3 253.7,852.7 253.8,853.8 253.8,854.3 253.8,854.1 253.8,853.1 253.8,851.5 253.8,849.4 253.9,847.2 253.9,844.9 253.9,843.0 253.9,841.5 253.9,840.5 254.0,839.9 254.0,839.8 254.0,839.8 254.0,839.9 254.0,839.6 254.1,838.9 254.1,837.7 254.1,836.0 254.1,833.9 254.1,831.5 254.2,829.1 254.2,826.7 254.2,824.5 254.2,822.8 254.2,821.7 254.2,821.8 254.3,823.2 254.3,826.1 254.3,830.1 254.3,834.5 254.3,838.9 254.4,843.0 254.4,846.7 254.4,849.9 254.4,852.3 254.4,853.9 254.5,854.3 254.5,853.2 254.5,850.7 254.5,846.8 254.5,842.0 254.6,836.4 254.6,830.3 254.6,823.7 254.6,816.9 254.6,810.2 254.7,804.1 254.7,799.2 254.7,795.9 254.7,794.5 254.7,794.8 254.7,796.6 254.8,799.5 254.8,803.3 254.8,807.6 254.8,812.3 254.8,817.1 254.9,821.7 254.9,825.8 254.9,829.4 254.9,832.3 254.9,834.7 255.0,836.6 255.0,838.0 255.0,839.1 255.0,839.9 255.0,840.6 255.1,841.2 255.1,841.9 255.1,842.6 255.1,843.3 255.1,844.1 255.2,844.9 255.2,845.7 255.2,846.5 255.2,847.3 255.2,848.2 255.3,849.0 255.3,849.8 255.3,850.5 255.3,851.2 255.3,851.7 255.4,852.2 255.4,852.6 255.4,852.9 255.4,853.0 255.4,853.0 255.5,852.8 255.5,852.3 255.5,851.6 255.5,850.7 255.5,849.6 255.6,848.7 255.6,848.0 255.6,847.6 255.6,847.5 255.6,847.7 255.7,848.2 255.7,848.8 255.7,849.5 255.7,850.3 255.7,851.1 255.8,851.9 255.8,852.6 255.8,853.1 255.8,853.3 255.8,853.1 255.9,852.5 255.9,851.6 255.9,850.3 255.9,848.9 256.0,847.4 256.0,845.9 256.0,844.5 256.0,843.2 256.0,842.1 256.1,841.1 256.1,840.1 256.1,839.2 256.1,838.4 256.1,837.8 256.2,837.3 256.2,837.1 256.2,837.1 256.2,837.3 256.2,837.7 256.3,838.2 256.3,838.7 256.3,839.4 256.3,840.2 256.3,841.1 256.4,842.2 256.4,843.3 256.4,844.6 256.4,845.8 256.4,847.0 256.5,848.2 256.5,849.3 256.5,850.2 256.5,850.9 256.6,851.6 256.6,852.1 256.6,852.5 256.6,852.9 256.6,853.2 256.7,853.5 256.7,853.7 256.7,853.9 256.7,854.1 256.7,854.2 256.8,854.2 256.8,854.1 256.8,853.8 256.8,853.2 256.8,852.4 256.9,851.3 256.9,849.9 256.9,848.4 256.9,846.8 257.0,845.2 257.0,843.6 257.0,842.1 257.0,840.8 257.0,839.7 257.1,839.0 257.1,838.7 257.1,838.7 257.1,839.1 257.1,839.6 257.2,840.3 257.2,841.0 257.2,841.5 257.2,841.9 257.3,842.0 257.3,841.9 257.3,841.6 257.3,841.1 257.3,840.5 257.4,839.8 257.4,839.0 257.4,838.3 257.4,837.4 257.5,836.5 257.5,835.4 257.5,834.2 257.5,832.9 257.5,831.7 257.6,830.8 257.6,830.3 257.6,830.2 257.6,830.8 257.7,831.9 257.7,833.5 257.7,835.5 257.7,838.0 257.7,840.5 257.8,843.2 257.8,845.7 257.8,848.0 257.8,850.1 257.8,851.8 257.9,853.2 257.9,854.1 257.9,854.3 257.9,853.7 258.0,852.2 258.0,849.9 258.0,846.9 258.0,843.4 258.0,839.6 258.1,835.8 258.1,832.3 258.1,829.4 258.1,827.1 258.2,825.4 258.2,824.2 258.2,823.3 258.2,822.5 258.3,821.9 258.3,821.7 258.3,822.0 258.3,822.6 258.3,823.2 258.4,823.7 258.4,824.4 258.4,825.5 258.4,827.2 258.5,829.6 258.5,832.7 258.5,836.4 258.5,840.3 258.5,843.9 258.6,846.8 258.6,848.7 258.6,849.2 258.6,848.5 258.7,846.9 258.7,844.9 258.7,843.0 258.7,841.4 258.8,840.2 258.8,839.7 258.8,839.6 258.8,839.9 258.8,840.5 258.9,841.3 258.9,842.3 258.9,843.2 258.9,844.2 259.0,845.0 259.0,845.8 259.0,846.5 259.0,847.1 259.1,847.6 259.1,847.9 259.1,848.1 259.1,848.0 259.1,847.6 259.2,846.8 259.2,845.8 259.2,844.6 259.2,843.3 259.3,842.1 259.3,841.1 259.3,840.4 259.3,839.8 259.4,839.4 259.4,839.1 259.4,838.7 259.4,838.3 259.4,837.7 259.5,837.0 259.5,836.2 259.5,835.3 259.5,834.5 259.6,833.9 259.6,833.5 259.6,833.5 259.6,833.9 259.7,834.7 259.7,835.9 259.7,837.3 259.7,838.9 259.8,840.7 259.8,842.5 259.8,844.4 259.8,846.2 259.9,847.9 259.9,849.4 259.9,850.8 259.9,851.9 259.9,852.8 260.0,853.4 260.0,853.7 260.0,853.9 260.0,853.9 260.1,853.7 260.1,853.4 260.1,853.1 260.1,852.6 260.2,852.1 260.2,851.5 260.2,850.9 260.2,850.1 260.3,849.3 260.3,848.4 260.3,847.5 260.3,846.4 260.4,845.3 260.4,844.1 260.4,843.0 260.4,841.8 260.5,840.8 260.5,839.9 260.5,839.2 260.5,838.7 260.6,838.5 260.6,838.5 260.6,838.7 260.6,839.2 260.6,839.8 260.7,840.6 260.7,841.3 260.7,842.1 260.7,842.9 260.8,843.7 260.8,844.4 260.8,845.1 260.8,845.8 260.9,846.5 260.9,847.2 260.9,847.9 260.9,848.6 261.0,849.3 261.0,850.0 261.0,850.6 261.0,851.2 261.1,851.9 261.1,852.4 261.1,853.0 261.1,853.4 261.2,853.8 261.2,854.1 261.2,854.2 261.2,854.2 261.3,854.0 261.3,853.6 261.3,852.9 261.3,852.1 261.4,851.1 261.4,850.0 261.4,848.8 261.4,847.7 261.5,846.6 261.5,845.6 261.5,844.7 261.5,844.0 261.6,843.4 261.6,843.1 261.6,843.0 261.6,843.2 261.7,843.7 261.7,844.5 261.7,845.5 261.8,846.8 261.8,848.1 261.8,849.3 261.8,850.5 261.9,851.4 261.9,852.2 261.9,852.8 261.9,853.2 262.0,853.5 262.0,853.7 262.0,853.9 262.0,853.9 262.1,854.0 262.1,853.9 262.1,853.9 262.1,853.8 262.2,853.8 262.2,853.7 262.2,853.5 262.2,853.4 262.3,853.2 262.3,853.0 262.3,852.8 262.3,852.5 262.4,852.1 262.4,851.8 262.4,851.3 262.4,850.9 262.5,850.3 262.5,849.7 262.5,848.9 262.6,848.1 262.6,847.0 262.6,845.8 262.6,844.3 262.7,842.4 262.7,840.3 262.7,837.7 262.7,834.8 262.8,831.5 262.8,827.9 262.8,824.2 262.8,820.4 262.9,816.5 262.9,812.7 262.9,809.1 262.9,805.6 263.0,802.4 263.0,799.4 263.0,796.7 263.1,794.5 263.1,792.6 263.1,791.3 263.1,790.6 263.2,790.6 263.2,791.5 263.2,793.3 263.2,796.0 263.3,799.6 263.3,803.8 263.3,808.4 263.3,813.2 263.4,818.1 263.4,822.8 263.4,827.4 263.5,831.7 263.5,835.7 263.5,839.4 263.5,842.9 263.6,846.0 263.6,848.6 263.6,850.7 263.6,852.1 263.7,852.9 263.7,852.9 263.7,852.3 263.8,851.1 263.8,849.4 263.8,847.2 263.8,844.7 263.9,841.9 263.9,838.8 263.9,835.6 263.9,832.4 264.0,829.3 264.0,826.6 264.0,824.3 264.1,822.7 264.1,821.7 264.1,821.4 264.1,821.7 264.2,822.5 264.2,823.7 264.2,825.1 264.2,826.8 264.3,828.5 264.3,830.3 264.3,832.1 264.4,833.8 264.4,835.4 264.4,836.7 264.4,837.8 264.5,838.5 264.5,839.1 264.5,839.4 264.6,839.7 264.6,839.8 264.6,840.1 264.6,840.4 264.7,840.9 264.7,841.5 264.7,842.4 264.7,843.3 264.8,844.4 264.8,845.6 264.8,846.9 264.9,848.2 264.9,849.5 264.9,850.7 264.9,851.9 265.0,852.9 265.0,853.6 265.0,854.1 265.1,854.3 265.1,854.1 265.1,853.6 265.1,852.8 265.2,851.7 265.2,850.5 265.2,849.2 265.3,847.8 265.3,846.4 265.3,845.1 265.3,844.0 265.4,843.0 265.4,842.2 265.4,841.7 265.5,841.4 265.5,841.3 265.5,841.5 265.5,841.9 265.6,842.4 265.6,843.0 265.6,843.6 265.7,844.2 265.7,844.8 265.7,845.4 265.7,845.9 265.8,846.5 265.8,847.0 265.8,847.5 265.9,848.0 265.9,848.4 265.9,848.8 265.9,849.2 266.0,849.5 266.0,849.7 266.0,849.9 266.1,850.0 266.1,850.1 266.1,850.2 266.1,850.2 266.2,850.1 266.2,849.9 266.2,849.6 266.3,849.3 266.3,848.9 266.3,848.5 266.4,848.1 266.4,847.7 266.4,847.4 266.4,847.0 266.5,846.7 266.5,846.5 266.5,846.2 266.6,846.1 266.6,845.9 266.6,845.8 266.6,845.6 266.7,845.3 266.7,844.7 266.7,843.8 266.8,842.4 266.8,840.4 266.8,837.7 266.9,834.4 266.9,830.5 266.9,826.2 266.9,821.4 267.0,816.4 267.0,811.2 267.0,806.0 267.1,800.8 267.1,795.8 267.1,790.9 267.2,786.3 267.2,782.1 267.2,778.2 267.2,774.9 267.3,772.3 267.3,770.4 267.3,769.4 267.4,769.3 267.4,770.2 267.4,771.9 267.5,774.4 267.5,777.5 267.5,781.1 267.6,785.0 267.6,788.9 267.6,792.6 267.6,796.2 267.7,799.5 267.7,802.5 267.7,805.4 267.8,808.4 267.8,811.4 267.8,814.8 267.9,818.4 267.9,822.2 267.9,826.2 267.9,830.1 268.0,833.9 268.0,837.4 268.0,840.6 268.1,843.4 268.1,845.8 268.1,847.8 268.2,849.4 268.2,850.6 268.2,851.5 268.3,852.1 268.3,852.3 268.3,852.2 268.4,851.9 268.4,851.2 268.4,850.3 268.4,849.3 268.5,848.0 268.5,846.6 268.5,845.2 268.6,843.7 268.6,842.2 268.6,840.7 268.7,839.5 268.7,838.4 268.7,837.6 268.8,837.2 268.8,837.2 268.8,837.7 268.9,838.6 268.9,840.0 268.9,841.6 268.9,843.5 269.0,845.4 269.0,847.3 269.0,849.0 269.1,850.6 269.1,851.9 269.1,852.9 269.2,853.6 269.2,854.0 269.2,854.1 269.3,853.9 269.3,853.5 269.3,852.8 269.4,851.9 269.4,850.8 269.4,849.4 269.5,847.9 269.5,846.2 269.5,844.5 269.6,842.6 269.6,840.6 269.6,838.6 269.6,836.4 269.7,834.1 269.7,831.7 269.7,829.0 269.8,826.3 269.8,823.5 269.8,820.9 269.9,818.5 269.9,816.7 269.9,815.7 270.0,815.5 270.0,816.2 270.0,817.6 270.1,819.7 270.1,822.1 270.1,824.8 270.2,827.6 270.2,830.2 270.2,832.8 270.3,835.3 270.3,837.5 270.3,839.6 270.4,841.6 270.4,843.4 270.4,845.1 270.5,846.7 270.5,848.2 270.5,849.6 270.6,850.7 270.6,851.7 270.6,852.5 270.7,852.9 270.7,853.1 270.7,852.9 270.8,852.4 270.8,851.6 270.8,850.6 270.9,849.4 270.9,848.1 270.9,846.7 271.0,845.3 271.0,843.8 271.0,842.4 271.1,841.0 271.1,839.6 271.1,838.3 271.2,837.1 271.2,836.1 271.2,835.2 271.3,834.6 271.3,834.2 271.3,834.0 271.4,834.2 271.4,834.8 271.4,835.6 271.5,836.9 271.5,838.4 271.5,840.1 271.6,842.0 271.6,844.0 271.6,845.9 271.7,847.7 271.7,849.3 271.7,850.7 271.8,851.8 271.8,852.8 271.8,853.5 271.9,854.0 271.9,854.2 271.9,854.3 272.0,854.2 272.0,854.0 272.0,853.6 272.1,853.0 272.1,852.3 272.1,851.5 272.2,850.5 272.2,849.5 272.2,848.3 272.3,847.1 272.3,845.8 272.3,844.5 272.4,843.1 272.4,841.7 272.5,840.3 272.5,838.9 272.5,837.7 272.6,836.5 272.6,835.4 272.6,834.5 272.7,833.8 272.7,833.2 272.7,832.9 272.8,832.8 272.8,833.0 272.8,833.4 272.9,834.1 272.9,835.1 272.9,836.4 273.0,837.8 273.0,839.4 273.0,841.1 273.1,842.8 273.1,844.5 273.2,846.1 273.2,847.5 273.2,848.8 273.3,849.8 273.3,850.6 273.3,851.3 273.4,851.7 273.4,851.9 273.4,851.9 273.5,851.8 273.5,851.7 273.5,851.4 273.6,851.0 273.6,850.6 273.6,850.2 273.7,849.8 273.7,849.4 273.8,849.0 273.8,848.7 273.8,848.4 273.9,848.1 273.9,848.0 273.9,847.9 274.0,847.9 274.0,848.1 274.0,848.3 274.1,848.6 274.1,849.0 274.1,849.5 274.2,849.9 274.2,850.4 274.3,850.9 274.3,851.3 274.3,851.7 274.4,852.0 274.4,852.1 274.4,852.2 274.5,852.2 274.5,852.0 274.5,851.8 274.6,851.4 274.6,851.0 274.7,850.5 274.7,849.9 274.7,849.3 274.8,848.7 274.8,848.0 274.8,847.4 274.9,846.8 274.9,846.3 274.9,845.8 275.0,845.5 275.0,845.4 275.1,845.4 275.1,845.5 275.1,845.8 275.2,846.2 275.2,846.7 275.2,847.3 275.3,848.0 275.3,848.6 275.4,849.3 275.4,850.0 275.4,850.7 275.5,851.4 275.5,852.0 275.5,852.6 275.6,853.1 275.6,853.6 275.7,854.0 275.7,854.2 275.7,854.3 275.8,854.3 275.8,854.0 275.8,853.5 275.9,852.8 275.9,851.9 276.0,850.7 276.0,849.2 276.0,847.5 276.1,845.4 276.1,843.1 276.1,840.5 276.2,837.5 276.2,834.3 276.3,830.8 276.3,827.0 276.3,823.2 276.4,819.3 276.4,815.5 276.4,811.9 276.5,808.6 276.5,805.9 276.6,803.7 276.6,802.1 276.6,801.1 276.7,800.7 276.7,800.9 276.7,801.6 276.8,802.6 276.8,804.0 276.9,805.6 276.9,807.5 276.9,809.5 277.0,811.7 277.0,814.0 277.1,816.5 277.1,819.2 277.1,821.9 277.2,824.7 277.2,827.6 277.2,830.4 277.3,833.1 277.3,835.6 277.4,837.8 277.4,839.7 277.4,841.3 277.5,842.5 277.5,843.3 277.6,843.7 277.6,843.7 277.6,843.4 277.7,842.9 277.7,842.2 277.8,841.3 277.8,840.2 277.8,839.0 277.9,837.7 277.9,836.2 278.0,834.6 278.0,832.8 278.0,830.9 278.1,828.9 278.1,826.8 278.1,824.6 278.2,822.4 278.2,820.3 278.3,818.3 278.3,816.5 278.3,814.9 278.4,813.6 278.4,812.6 278.5,811.9 278.5,811.6 278.5,811.6 278.6,811.9 278.6,812.4 278.7,813.1 278.7,813.9 278.7,814.8 278.8,815.7 278.8,816.7 278.9,817.6 278.9,818.6 278.9,819.6 279.0,820.6 279.0,821.7 279.1,822.9 279.1,824.2 279.1,825.6 279.2,827.1 279.2,828.6 279.3,830.2 279.3,831.9 279.3,833.5 279.4,835.2 279.4,836.8 279.5,838.3 279.5,839.8 279.5,841.2 279.6,842.6 279.6,843.8 279.7,844.9 279.7,845.9 279.8,846.8 279.8,847.5 279.8,848.0 279.9,848.4 279.9,848.6 280.0,848.6 280.0,848.5 280.0,848.1 280.1,847.7 280.1,847.1 280.2,846.5 280.2,845.8 280.2,845.1 280.3,844.3 280.3,843.5 280.4,842.7 280.4,842.0 280.5,841.3 280.5,840.7 280.5,840.1 280.6,839.6 280.6,839.3 280.7,839.0 280.7,838.9 280.7,838.8 280.8,838.9 280.8,838.9 280.9,839.0 280.9,839.0 281.0,838.9 281.0,838.7 281.0,838.4 281.1,837.9 281.1,837.2 281.2,836.3 281.2,835.2 281.2,834.0 281.3,832.6 281.3,831.2 281.4,829.7 281.4,828.1 281.5,826.6 281.5,825.0 281.5,823.5 281.6,821.9 281.6,820.3 281.7,818.8 281.7,817.2 281.8,815.6 281.8,814.0 281.8,812.4 281.9,810.9 281.9,809.4 282.0,808.0 282.0,806.8 282.1,805.7 282.1,804.9 282.1,804.2 282.2,803.7 282.2,803.3 282.3,803.2 282.3,803.2 282.4,803.2 282.4,803.4 282.4,803.6 282.5,803.9 282.5,804.2 282.6,804.5 282.6,804.9 282.7,805.3 282.7,805.8 282.7,806.4 282.8,807.1 282.8,808.0 282.9,809.0 282.9,810.1 283.0,811.4 283.0,812.8 283.0,814.4 283.1,816.1 283.1,817.9 283.2,819.8 283.2,821.7 283.3,823.7 283.3,825.7 283.4,827.7 283.4,829.8 283.4,831.8 283.5,833.7 283.5,835.6 283.6,837.5 283.6,839.2 283.7,840.9 283.7,842.4 283.7,843.9 283.8,845.2 283.8,846.3 283.9,847.3 283.9,848.2 284.0,848.9 284.0,849.5 284.1,849.9 284.1,850.2 284.1,850.4 284.2,850.5 284.2,850.5 284.3,850.4 284.3,850.3 284.4,850.1 284.4,849.8 284.5,849.5 284.5,849.2 284.6,848.8 284.6,848.3 284.6,847.9 284.7,847.4 284.7,846.8 284.8,846.2 284.8,845.5 284.9,844.7 284.9,843.9 285.0,843.0 285.0,842.0 285.0,840.9 285.1,839.6 285.1,838.3 285.2,836.8 285.2,835.2 285.3,833.5 285.3,831.7 285.4,829.7 285.4,827.7 285.5,825.6 285.5,823.4 285.5,821.2 285.6,819.0 285.6,816.7 285.7,814.6 285.7,812.4 285.8,810.4 285.8,808.4 285.9,806.6 285.9,804.8 286.0,803.1 286.0,801.6 286.1,800.1 286.1,798.8 286.1,797.6 286.2,796.6 286.2,795.7 286.3,795.1 286.3,794.6 286.4,794.3 286.4,794.3 286.5,794.4 286.5,794.8 286.6,795.5 286.6,796.3 286.7,797.3 286.7,798.5 286.8,799.8 286.8,801.2 286.8,802.7 286.9,804.3 286.9,806.0 287.0,807.7 287.0,809.4 287.1,811.2 287.1,812.9 287.2,814.8 287.2,816.6 287.3,818.5 287.3,820.4 287.4,822.4 287.4,824.3 287.5,826.4 287.5,828.4 287.6,830.4 287.6,832.4 287.6,834.4 287.7,836.3 287.7,838.2 287.8,839.9 287.8,841.5 287.9,843.0 287.9,844.4 288.0,845.6 288.0,846.6 288.1,847.5 288.1,848.2 288.2,848.8 288.2,849.3 288.3,849.7 288.3,849.9 288.4,850.0 288.4,850.1 288.5,850.0 288.5,850.0 288.6,849.8 288.6,849.7 288.7,849.5 288.7,849.3 288.8,849.1 288.8,849.0 288.8,848.9 288.9,848.8 288.9,848.8 289.0,848.8 289.0,848.9 289.1,849.1 289.1,849.3 289.2,849.6 289.2,849.9 289.3,850.3 289.3,850.7 289.4,851.1 289.4,851.5 289.5,852.0 289.5,852.4 289.6,852.8 289.6,853.2 289.7,853.5 289.7,853.7 289.8,853.9 289.8,854.0 289.9,854.1 289.9,854.1 290.0,853.9 290.0,853.7 290.1,853.5 290.1,853.1 290.2,852.6 290.2,852.1 290.3,851.4 290.3,850.7 290.4,849.9 290.4,849.0 290.5,848.0 290.5,847.0 290.6,845.9 290.6,844.8 290.7,843.6 290.7,842.5 290.8,841.4 290.8,840.4 290.9,839.3 290.9,838.4 291.0,837.5 291.0,836.6 291.1,835.8 291.1,835.1 291.2,834.4 291.2,833.8 291.3,833.3 291.3,832.8 291.4,832.4 291.4,832.1 291.5,831.8 291.5,831.5 291.6,831.3 291.6,831.2 291.7,831.1 291.7,831.1 291.8,831.1 291.8,831.2 291.9,831.3 291.9,831.5 292.0,831.7 292.0,832.0 292.1,832.4 292.1,832.8 292.2,833.3 292.2,833.9 292.3,834.5 292.4,835.1 292.4,835.8 292.5,836.4 292.5,837.1 292.6,837.9 292.6,838.6 292.7,839.3 292.7,840.1 292.8,840.8 292.8,841.6 292.9,842.3 292.9,843.1 293.0,843.8 293.0,844.5 293.1,845.3 293.1,846.0 293.2,846.7 293.2,847.4 293.3,848.1 293.3,848.8 293.4,849.4 293.4,849.9 293.5,850.4 293.5,850.8 293.6,851.0 293.7,851.2 293.7,851.2 293.8,851.1 293.8,850.8 293.9,850.4 293.9,849.8 294.0,849.1 294.0,848.1 294.1,847.0 294.1,845.8 294.2,844.4 294.2,842.9 294.3,841.2 294.3,839.5 294.4,837.6 294.4,835.7 294.5,833.8 294.6,831.8 294.6,829.9 294.7,827.9 294.7,826.1 294.8,824.3 294.8,822.7 294.9,821.1 294.9,819.6 295.0,818.2 295.0,817.0 295.1,815.8 295.1,814.7 295.2,813.7 295.3,812.7 295.3,811.8 295.4,811.0 295.4,810.2 295.5,809.4 295.5,808.8 295.6,808.2 295.6,807.6 295.7,807.2 295.7,806.8 295.8,806.5 295.9,806.3 295.9,806.2 296.0,806.2 296.0,806.3 296.1,806.6 296.1,807.0 296.2,807.5 296.2,808.2 296.3,809.1 296.3,810.1 296.4,811.3 296.5,812.6 296.5,814.1 296.6,815.6 296.6,817.3 296.7,819.1 296.7,820.9 296.8,822.7 296.8,824.6 296.9,826.4 297.0,828.2 297.0,830.0 297.1,831.7 297.1,833.3 297.2,834.9 297.2,836.4 297.3,837.8 297.3,839.1 297.4,840.4 297.5,841.5 297.5,842.6 297.6,843.6 297.6,844.6 297.7,845.5 297.7,846.3 297.8,847.1 297.8,847.8 297.9,848.4 298.0,849.0 298.0,849.6 298.1,850.1 298.1,850.5 298.2,851.0 298.2,851.4 298.3,851.7 298.4,852.1 298.4,852.4 298.5,852.7 298.5,852.9 298.6,853.2 298.6,853.4 298.7,853.6 298.8,853.8 298.8,853.9 298.9,854.0 298.9,854.1 299.0,854.2 299.0,854.3 299.1,854.3 299.2,854.3 299.2,854.3 299.3,854.2 299.3,854.2 299.4,854.1 299.4,854.0 299.5,853.9 299.6,853.8 299.6,853.6 299.7,853.4 299.7,853.3 299.8,853.1 299.8,852.9 299.9,852.6 300.0,852.4 300.0,852.2 300.1,851.9 300.1,851.7 300.2,851.4 300.2,851.2 300.3,850.9 300.4,850.7 300.4,850.5 300.5,850.3 300.5,850.2 300.6,850.0 300.7,849.9 300.7,849.8 300.8,849.8 300.8,849.8 300.9,849.8 301.0,849.8 301.0,849.9 301.1,850.0 301.1,850.1 301.2,850.2 301.2,850.4 301.3,850.6 301.4,850.8 301.4,851.0 301.5,851.3 301.5,851.5 301.6,851.8 301.7,852.0 301.7,852.3 301.8,852.5 301.8,852.8 301.9,853.0 302.0,853.3 302.0,853.5 302.1,853.7 302.1,853.9 302.2,854.0 302.3,854.2 302.3,854.2 302.4,854.3 302.4,854.3 302.5,854.3 302.6,854.3 302.6,854.2 302.7,854.1 302.7,854.0 302.8,853.8 302.9,853.6 302.9,853.5 303.0,853.3 303.0,853.1 303.1,852.8 303.2,852.6 303.2,852.4 303.3,852.2 303.3,852.0 303.4,851.8 303.5,851.6 303.5,851.5 303.6,851.3 303.7,851.2 303.7,851.0 303.8,850.9 303.8,850.9 303.9,850.8 304.0,850.7 304.0,850.7 304.1,850.7 304.1,850.6 304.2,850.6 304.3,850.6 304.3,850.7 304.4,850.7 304.5,850.7 304.5,850.8 304.6,850.8 304.6,850.8 304.7,850.9 304.8,850.9 304.8,850.9 304.9,851.0 304.9,851.0 305.0,851.0 305.1,851.0 305.1,851.0 305.2,851.0 305.3,851.0 305.3,850.9 305.4,850.9 305.4,850.9 305.5,850.9 305.6,850.9 305.6,850.9 305.7,850.9 305.8,850.9 305.8,850.9 305.9,851.0 306.0,851.0 306.0,851.1 306.1,851.2 306.1,851.3 306.2,851.4 306.3,851.5 306.3,851.6 306.4,851.8 306.5,851.9 306.5,852.1 306.6,852.2 306.7,852.4 306.7,852.6 306.8,852.7 306.8,852.9 306.9,853.0 307.0,853.1 307.0,853.3 307.1,853.4 307.2,853.5 307.2,853.6 307.3,853.6 307.4,853.7 307.4,853.7 307.5,853.7 307.5,853.7 307.6,853.7 307.7,853.7 307.7,853.6 307.8,853.5 307.9,853.4 307.9,853.3 308.0,853.2 308.1,853.0 308.1,852.8 308.2,852.6 308.3,852.4 308.3,852.1 308.4,851.9 308.5,851.6 308.5,851.3 308.6,851.1 308.7,850.8 308.7,850.5 308.8,850.2 308.8,849.9 308.9,849.7 309.0,849.4 309.0,849.1 309.1,848.8 309.2,848.6 309.2,848.4 309.3,848.1 309.4,847.9 309.4,847.7 309.5,847.5 309.6,847.3 309.6,847.1 309.7,846.9 309.8,846.7 309.8,846.6 309.9,846.4 310.0,846.2 310.0,846.1 310.1,845.9 310.2,845.7 310.2,845.5 310.3,845.3 310.4,845.1 310.4,844.9 310.5,844.7 310.6,844.5 310.6,844.2 310.7,844.0 310.8,843.7 310.8,843.4 310.9,843.2 311.0,842.9 311.0,842.5 311.1,842.2 311.2,841.9 311.2,841.6 311.3,841.2 311.4,840.9 311.5,840.6 311.5,840.2 311.6,839.9 311.7,839.5 311.7,839.2 311.8,838.9 311.9,838.6 311.9,838.2 312.0,837.9 312.1,837.6 312.1,837.3 312.2,837.1 312.3,836.8 312.3,836.6 312.4,836.3 312.5,836.1 312.5,835.9 312.6,835.7 312.7,835.5 312.7,835.4 312.8,835.2 312.9,835.1 313.0,835.0 313.0,835.0 313.1,834.9 313.2,834.9 313.2,834.9 313.3,835.0 313.4,835.1 313.4,835.2 313.5,835.4 313.6,835.6 313.7,835.8 313.7,836.1 313.8,836.4 313.9,836.8 313.9,837.3 314.0,837.8 314.1,838.3 314.1,838.9 314.2,839.6 314.3,840.3 314.4,841.0 314.4,841.8 314.5,842.6 314.6,843.5 314.6,844.3 314.7,845.2 314.8,846.0 314.8,846.8 314.9,847.6 315.0,848.4 315.1,849.1 315.1,849.8 315.2,850.5 315.3,851.1 315.3,851.6 315.4,852.1 315.5,852.5 315.6,852.9 315.6,853.2 315.7,853.5 315.8,853.7 315.8,853.9 315.9,854.0 316.0,854.1 316.1,854.2 316.1,854.3 316.2,854.3 316.3,854.3 316.3,854.3 316.4,854.2 316.5,854.2 316.6,854.1 316.6,854.0 316.7,853.9 316.8,853.8 316.8,853.7 316.9,853.6 317.0,853.5 317.1,853.4 317.1,853.3 317.2,853.2 317.3,853.1 317.4,853.0 317.4,852.9 317.5,852.8 317.6,852.7 317.6,852.6 317.7,852.6 317.8,852.5 317.9,852.5 317.9,852.5 318.0,852.4 318.1,852.4 318.2,852.4 318.2,852.4 318.3,852.5 318.4,852.5 318.5,852.5 318.5,852.6 318.6,852.6 318.7,852.7 318.8,852.8 318.8,852.8 318.9,852.9 319.0,853.0 319.0,853.0 319.1,853.1 319.2,853.2 319.3,853.3 319.3,853.3 319.4,853.4 319.5,853.4 319.6,853.5 319.6,853.5 319.7,853.6 319.8,853.6 319.9,853.6 319.9,853.6 320.8,852.3 321.6,848.7 322.5,844.1 323.3,840.8 324.2,839.5 325.0,838.1 325.9,835.9 326.7,834.2 327.5,832.9 328.4,831.1 329.2,829.4 330.0,827.6 330.9,824.0 331.7,817.0 332.6,806.8 333.4,795.6 334.3,789.7 335.2,793.2 336.0,802.6 336.8,812.1 337.7,820.9 338.5,828.6 339.3,834.7 340.1,838.6 340.9,840.3 341.8,840.4 342.6,839.3 343.5,837.7 344.3,836.4 345.2,836.4 346.1,837.8 347.0,840.3 347.9,843.2 348.7,845.9 349.6,847.8 350.4,848.9 351.3,849.4 352.1,849.6 352.9,849.6 353.7,849.4 354.6,849.0 355.4,848.1 356.2,846.9 357.1,845.5 358.0,844.2 358.8,843.0 359.7,842.0 360.6,841.2 361.4,840.1 362.3,838.7 363.2,837.0 364.1,835.1 365.0,833.6 365.9,832.7 366.7,832.7 367.5,833.5 368.3,835.2 369.2,837.5 370.0,840.3 370.8,843.3 371.6,846.1 372.5,848.5 373.3,850.3 374.2,851.6 375.0,852.5 375.9,853.1 376.7,853.4 377.6,853.5 378.5,853.6 379.4,853.6 380.2,853.5 381.1,853.4 382.0,853.2 382.9,852.9 383.8,852.4 384.7,851.7 385.6,850.6 386.6,849.1 387.5,847.1 388.4,844.5 389.2,841.6 390.0,838.3 390.8,834.5 391.6,830.3 392.5,825.7 393.3,820.5 394.1,814.6 395.0,807.8 395.8,799.9 396.6,790.7 397.5,780.0 398.3,768.2 399.2,755.5 400.0,742.4 400.9,729.7 401.8,717.9 402.6,707.1 403.5,697.3 404.4,688.4 405.3,680.0 406.2,671.9 407.1,664.4 407.9,658.1 408.9,653.8 409.8,652.3 410.7,654.5 411.6,660.6 412.5,670.5 413.4,683.6 414.4,698.9 415.3,715.3 416.2,731.9 417.2,747.7 418.1,762.2 419.1,775.2 420.0,786.4 420.9,794.6 421.7,801.7 422.5,807.8 423.3,812.9 424.1,817.3 424.9,820.8 425.7,823.6 426.6,825.8 427.4,827.4 428.2,828.5 429.1,829.3 429.9,829.7 430.8,829.7 431.6,829.6 432.5,829.3 433.3,828.8 434.2,828.1 435.0,827.4 435.9,826.7 436.8,826.0 437.7,825.4 438.5,824.8 439.4,824.4 440.3,824.2 441.2,824.2 442.1,824.3 443.0,824.7 443.9,825.1 444.8,825.8 445.7,826.6 446.6,827.5 447.5,828.5 448.4,829.5 449.4,830.7 450.3,831.9 451.2,833.0 452.2,834.2 453.1,835.2 454.1,836.0 455.0,836.6 456.0,836.9 456.9,836.8 457.9,836.3 458.8,835.4 459.8,834.1 460.8,832.3 461.8,830.2 462.7,827.8 463.7,825.2 464.7,822.5 465.7,819.7 466.7,816.9 467.5,814.7 468.3,812.6 469.1,810.5 469.9,808.6 470.7,806.7 471.6,804.9 472.4,803.3 473.2,801.8 474.0,800.5 474.8,799.3 475.7,798.3 476.5,797.5 477.3,796.8 478.2,796.3 479.0,796.0 479.9,795.9 480.7,795.9 481.6,796.2 482.4,796.7 483.3,797.5 484.1,798.4 485.0,799.6 485.9,801.0 486.7,802.6 487.6,804.5 488.5,806.5 489.3,808.7 490.2,811.1 491.1,813.6 492.0,816.1 492.9,818.8 493.8,821.4 494.7,824.0 495.6,826.6 496.5,829.1 497.4,831.5 498.3,833.8 499.2,836.0 500.1,838.0 501.0,839.9 501.9,841.6 502.8,843.2 503.8,844.6 504.7,845.8 505.6,846.9 506.6,847.8 507.5,848.6 508.4,849.3 509.4,849.7 510.3,850.1 511.3,850.3 512.2,850.3 513.2,850.3 514.2,850.0 515.1,849.7 516.1,849.3 517.1,848.7 518.0,848.1 519.0,847.3 520.0,846.4 521.0,845.5 522.0,844.4 522.9,843.3 523.9,842.1 524.9,840.9 525.9,839.5 526.9,838.1 527.9,836.7 529.0,835.2 530.0,833.7 531.0,832.1 532.0,830.5 533.0,828.9 534.1,827.2 535.1,825.5 536.1,823.9 537.2,822.2 538.2,820.6 539.3,818.9 540.3,817.3 541.4,815.8 542.4,814.2 543.5,812.7 544.5,811.3 545.3,810.3 546.1,809.3 546.9,808.3 547.8,807.4 548.6,806.5 549.4,805.7 550.2,804.9 551.0,804.1 551.8,803.4 552.6,802.7 553.5,802.1 554.3,801.5 555.1,801.0 555.9,800.4 556.8,799.9 557.6,799.5 558.4,799.1 559.3,798.7 560.1,798.3 560.9,798.0 561.8,797.7 562.6,797.4 563.5,797.1 564.3,796.8 565.2,796.6 566.0,796.4 566.9,796.2 567.7,796.0 568.6,795.8 569.5,795.6 570.3,795.4 571.2,795.3 572.1,795.2 572.9,795.0 573.8,794.9 574.7,794.9 575.5,794.8 576.4,794.7 577.3,794.7 578.2,794.7 579.1,794.7 580.0,794.8 580.9,794.9 581.8,795.0 582.6,795.1 583.5,795.3 584.4,795.5 585.3,795.8 586.3,796.1 587.2,796.4 588.1,796.8 589.0,797.1 589.9,797.6 590.8,798.1 591.7,798.6 592.6,799.1 593.6,799.7 594.5,800.3 595.4,800.9 596.4,801.5 597.3,802.2 598.2,802.9 599.2,803.6 600.1,804.3 601.0,805.1 602.0,805.8 602.9,806.6 603.9,807.4 604.8,808.1 605.8,808.9 606.7,809.7 607.7,810.5 608.7,811.2 609.6,812.0 610.6,812.8 611.6,813.5 612.5,814.3 613.5,815.0 614.5,815.7 615.5,816.5 616.5,817.2 617.4,817.9 618.4,818.5 619.4,819.2 620.4,819.9 621.4,820.5 622.4,821.1 623.4,821.8 624.4,822.4 625.4,823.0 626.4,823.6 627.4,824.1 628.4,824.7 629.4,825.3 630.5,825.8 631.5,826.4 632.5,826.9 633.5,827.4 634.6,827.9 635.6,828.4 636.6,828.9 637.7,829.4 638.7,829.9 639.7,830.4 640.8,830.9 641.8,831.4 642.9,831.8 643.9,832.3 645.0,832.8 646.0,833.2 647.1,833.7 648.2,834.1 649.2,834.6 650.3,835.1 651.4,835.5 652.4,836.0 653.5,836.4 654.6,836.9 655.7,837.3 656.8,837.8 657.8,838.2 658.9,838.6 660.0,839.1 661.1,839.5 662.2,840.0 663.3,840.4 664.4,840.8 665.5,841.3 666.6,841.7 667.8,842.1 668.9,842.6 670.0,843.0 671.1,843.4 672.2,843.8 673.4,844.2 674.5,844.6 675.6,845.0 676.8,845.4 677.9,845.8 679.0,846.2 680.2,846.6 681.3,846.9 682.5,847.3 683.6,847.6 684.8,848.0 685.9,848.3 687.1,848.7 688.3,849.0 689.4,849.3 690.6,849.6 691.8,849.9 693.0,850.2 694.1,850.5 695.3,850.7 696.5,851.0 697.7,851.2 698.9,851.4 700.1,851.7 701.3,851.9 702.1,852.0 702.9,852.1 703.7,852.3 704.5,852.4 705.3,852.5 706.1,852.6 706.9,852.7 707.7,852.8 708.5,852.9 709.4,853.0 710.2,853.1 711.0,853.2 711.8,853.3 712.6,853.4 713.4,853.4 714.3,853.5 715.1,853.6 715.9,853.6 716.7,853.7 717.6,853.8 718.4,853.8 719.2,853.9 720.0,853.9 720.9,853.9 721.7,854.0 722.6,854.0 723.4,854.0 724.2,854.1 725.1,854.1 725.9,854.1 726.7,854.1 727.6,854.2 728.4,854.2 729.3,854.2 730.1,854.2 731.0,854.2 731.8,854.2 732.7,854.2 733.5,854.2 734.4,854.2 735.3,854.2 736.1,854.2 737.0,854.2 737.8,854.2 738.7,854.2 739.6,854.2 740.4,854.2 741.3,854.1 742.2,854.1 743.0,854.1 743.9,854.1 744.8,854.1 745.6,854.0 746.5,854.0 747.4,854.0 748.3,854.0 749.2,854.0 750.0,853.9 750.9,853.9 751.8,853.9 752.7,853.9 753.6,853.8 754.5,853.8 755.4,853.8 756.3,853.8 757.2,853.7 758.1,853.7 758.9,853.7 759.8,853.6 760.7,853.6 761.6,853.6 762.6,853.6 763.5,853.5 764.4,853.5 765.3,853.5 766.2,853.5 767.1,853.4 768.0,853.4 768.9,853.4 769.8,853.4 770.8,853.3 771.7,853.3 772.6,853.3 773.5,853.3 774.4,853.3 775.4,853.2 776.3,853.2 777.2,853.2 778.1,853.2 779.1,853.2 780.0,853.1 780.9,853.1 781.9,853.1 782.8,853.1 783.8,853.1 784.7,853.1 785.6,853.1 786.6,853.1 787.5,853.1 788.5,853.1 789.4,853.0 790.4,853.0 791.3,853.0 792.3,853.0 793.2,853.0 794.2,853.0 795.2,853.0 796.1,853.0 797.1,853.0 798.0,853.1 799.0,853.1 800.0,853.1 800.9,853.1 801.9,853.1 802.9,853.1 803.9,853.1 804.8,853.1 805.8,853.1 806.8,853.1 807.8,853.1 808.8,853.2 809.7,853.2 810.7,853.2 811.7,853.2 812.7,853.2 813.7,853.2 814.7,853.3 815.7,853.3 816.7,853.3 817.7,853.3 818.7,853.3 819.7,853.4 820.7,853.4 821.7,853.4 822.7,853.4 823.7,853.5 824.7,853.5 825.7,853.5 826.7,853.5 827.7,853.5 828.8,853.6 829.8,853.6 830.8,853.6 831.8,853.6 832.8,853.7 833.9,853.7 834.9,853.7 835.9,853.7 836.9,853.7 838.0,853.8 839.0,853.8 840.0,853.8 841.1,853.8 842.1,853.8 843.2,853.9 844.2,853.9 845.2,853.9 846.3,853.9 847.3,853.9 848.4,853.9 849.4,854.0 850.5,854.0 851.6,854.0 852.6,854.0 853.7,854.0 854.7,854.0 855.8,854.0 856.9,854.0 857.9,854.1 859.0,854.1 860.1,854.1 861.1,854.1 862.2,854.1 863.3,854.1 864.3,854.1 865.4,854.1 866.5,854.1 867.6,854.1 868.7,854.1 869.8,854.1 870.8,854.1 871.9,854.1 873.0,854.1 874.1,854.1 875.2,854.1 876.3,854.1 877.4,854.1 878.5,854.0 879.6,854.0 880.7,854.0 881.8,854.0 882.9,854.0 884.0,854.0 885.2,853.9 886.3,853.9 887.4,853.9 888.5,853.9 889.6,853.9 890.7,853.8 891.9,853.8 893.0,853.8 894.1,853.7 895.3,853.7 896.4,853.7 897.5,853.6 898.7,853.6 899.8,853.6 900.9,853.5 902.1,853.5 903.2,853.4 904.4,853.4 905.5,853.4 906.7,853.3 907.8,853.3 909.0,853.2 910.1,853.2 911.3,853.1 912.4,853.0 913.6,853.0 914.7,852.9 915.9,852.9 917.1,852.8 918.2,852.7 919.4,852.7 920.6,852.6 921.8,852.5 922.9,852.5 924.1,852.4 925.3,852.3 926.5,852.3 927.7,852.2 928.9,852.1 930.0,852.0 931.2,851.9 932.4,851.9 933.6,851.8 934.8,851.7 936.0,851.6 937.2,851.5 938.4,851.4 939.6,851.3 940.8,851.2 942.0,851.1 943.2,851.1 944.5,851.0 945.7,850.9 946.9,850.8 948.1,850.6 949.3,850.5 950.6,850.4 951.8,850.3 953.0,850.2 954.2,850.1 955.5,850.0 956.7,849.9 957.9,849.8 959.2,849.7 960.4,849.5 961.7,849.4 962.9,849.3 964.2,849.2 965.4,849.1 966.7,848.9 967.9,848.8 969.2,848.7 970.4,848.5 971.7,848.4 972.9,848.3 974.2,848.1 975.5,848.0 976.7,847.9 978.0,847.7 979.3,847.6 980.6,847.5 981.8,847.3 983.1,847.2 984.4,847.0 985.7,846.9 987.0,846.7 988.2,846.6 989.5,846.4 990.8,846.3 992.1,846.1 993.4,846.0 994.7,845.8 996.0,845.7 997.3,845.5 998.6,845.3 999.9,845.2 1001.2,845.0 1002.6,844.8 1003.9,844.7 1005.2,844.5 1006.5,844.3 1007.8,844.2 1009.1,844.0 1010.5,843.8 1011.8,843.6 1013.1,843.5 1014.5,843.3 1015.8,843.1 1017.1,842.9 1018.5,842.7 1019.8,842.5 1021.2,842.4 1022.5,842.2 1023.9,842.0 1025.2,841.8 1026.6,841.6 1027.9,841.4 1029.3,841.2 1030.6,841.0 1032.0,840.8 1033.4,840.6 1034.7,840.4 1036.1,840.2 1037.5,840.0 1038.8,839.8 1040.2,839.6 1041.6,839.3 1043.0,839.1 1044.4,838.9 1045.7,838.7 1047.1,838.5 1048.5,838.3 1049.9,838.0 1051.3,837.8 1052.7,837.6 1054.1,837.4 1055.5,837.1 1056.9,836.9 1058.3,836.7 1059.7,836.4 1061.1,836.2 1062.5,836.0 1064.0,835.7 1065.4,835.5 1066.8,835.3 1068.2,835.0 1069.7,834.8 1071.1,834.6 1072.5,834.3 1073.9,834.1 1075.4,833.8 1076.8,833.6 1078.3,833.3 1079.7,833.1 1081.2,832.9 1082.6,832.6 1084.0,832.4 1085.5,832.1 1087.0,831.9 1088.4,831.6 1089.9,831.4 1091.3,831.1 1092.8,830.9 1094.3,830.6 1095.7,830.4 1097.2,830.1 1098.7,829.9 1100.2,829.7 1101.7,829.4 1103.1,829.2 1104.6,828.9 1106.1,828.7 1107.6,828.4 1109.1,828.2 1110.6,828.0 1112.1,827.7 1113.6,827.5 1115.1,827.2 1116.6,827.0 1118.1,826.8 1119.6,826.5 1121.1,826.3 1122.6,826.1 1124.2,825.8 1125.7,825.6 1127.2,825.4 1128.7,825.2 1130.3,825.0 1131.8,824.7 1133.3,824.5 1134.9,824.3 1136.4,824.1 1138.0,823.9 1139.5,823.7 1141.0,823.5 1142.6,823.3 1144.1,823.1 1145.7,822.9 1147.3,822.7 1148.8,822.5 1150.4,822.3 1152.0,822.1 1153.5,821.9 1155.1,821.7 1156.7,821.5 1158.2,821.4 1159.8,821.2 1161.4,821.0 1163.0,820.9 1164.6,820.7 1166.2,820.5 1167.8,820.4 1169.4,820.2 1171.0,820.1 1171.8,820.0 1172.6,819.9 1173.4,819.8 1174.2,819.8 1175.0,819.7 1175.8,819.6 1176.6,819.5 1177.4,819.5 1178.2,819.4 1179.0,819.3 1179.8,819.3 1180.6,819.2 1181.4,819.1 1182.2,819.1 1183.0,819.0 1183.8,818.9 1184.7,818.9 1185.5,818.8 1186.3,818.8 1187.1,818.7 1187.9,818.6 1188.7,818.6 1189.5,818.5 1190.4,818.5 1191.2,818.4 1192.0,818.3 1192.8,818.3 1193.6,818.2 1194.4,818.2 1195.3,818.1 1196.1,818.1 1196.9,818.0 1197.7,818.0 1198.6,817.9 1199.4,817.9 1200.2,817.8 1201.0,817.8 1201.9,817.7 1202.7,817.7 1203.5,817.6 1204.3,817.6 1205.2,817.6 1206.0,817.5 1206.8,817.5 1207.7,817.4 1208.5,817.4 1209.3,817.4 1210.1,817.3 1211.0,817.3 1211.8,817.2 1212.7,817.2 1213.5,817.2 1214.3,817.1 1215.2,817.1 1216.0,817.1 1216.8,817.0 1217.7,817.0 1218.5,817.0 1219.4,816.9 1220.2,816.9 1221.0,816.9 1221.9,816.8 1222.7,816.8 1223.6,816.8 1224.4,816.8 1225.3,816.7 1226.1,816.7 1227.0,816.7 1227.8,816.6 1228.7,816.6 1229.5,816.6 1230.4,816.6 1231.2,816.6 1232.1,816.5 1232.9,816.5 1233.8,816.5 1234.6,816.5 1235.5,816.5 1236.3,816.4 1237.2,816.4 1238.0,816.4 1238.9,816.4 1239.8,816.4 1240.6,816.3 1241.5,816.3 1242.3,816.3 1243.2,816.3 1244.1,816.3 1244.9,816.3 1245.8,816.3 1246.6,816.3 1247.5,816.2 1248.4,816.2 1249.2,816.2 1250.1,816.2 1251.0,816.2 1251.8,816.2 1252.7,816.2 1253.6,816.2 1254.5,816.2 1255.3,816.2 1256.2,816.2 1257.1,816.1 1257.9,816.1 1258.8,816.1 1259.7,816.1 1260.6,816.1 1261.4,816.1 1262.3,816.1 1263.2,816.1 1264.1,816.1 1265.0,816.1 1265.8,816.1 1266.7,816.1 1267.6,816.1 1268.5,816.1 1269.4,816.1 1270.3,816.1 1271.1,816.1 1272.0,816.1 1272.9,816.1 1273.8,816.1 1274.7,816.1 1275.6,816.1 1276.5,816.1 1277.4,816.1 1278.2,816.1 1279.1,816.1 1280.0,816.1 1280.9,816.2 1281.8,816.2 1282.7,816.2 1283.6,816.2 1284.5,816.2 1285.4,816.2 1286.3,816.2 1287.2,816.2 1288.1,816.2 1289.0,816.2 1289.9,816.2 1290.8,816.2 1291.7,816.2 1292.6,816.3 1293.5,816.3 1294.4,816.3 1295.3,816.3 1296.2,816.3 1297.1,816.3 1298.0,816.3 1299.0,816.3 1299.9,816.4 1300.8,816.4 1301.7,816.4 1302.6,816.4 1303.5,816.4 1304.4,816.4 1305.3,816.4 1306.2,816.4 1307.2,816.5 1308.1,816.5 1309.0,816.5 1309.9,816.5 1310.8,816.5 1311.8,816.5 1312.7,816.6 1313.6,816.6 1314.5,816.6 1315.4,816.6 1316.4,816.6 1317.3,816.6 1318.2,816.7 1319.1,816.7 1320.1,816.7 1321.0,816.7 1321.9,816.7 1322.8,816.8 1323.8,816.8 1324.7,816.8 1325.6,816.8 1326.6,816.8 1327.5,816.9 1328.4,816.9 1329.4,816.9 1330.3,816.9 1331.2,816.9 1332.2,817.0 1333.1,817.0 1334.1,817.0 1335.0,817.0 1335.9,817.0 1336.9,817.1 1337.8,817.1 1338.8,817.1 1339.7,817.1 1340.6,817.2 1341.6,817.2 1342.5,817.2 1343.5,817.2 1344.4,817.2 1345.4,817.3 1346.3,817.3 1347.3,817.3 1348.2,817.3 1349.2,817.4 1350.1,817.4 1351.1,817.4 1352.0,817.4 1353.0,817.5 1354.0,817.5 1354.9,817.5 1355.9,817.5 1356.8,817.6 1357.8,817.6 1358.7,817.6 1359.7,817.7 1360.7,817.7 1361.6,817.7 1362.6,817.7 1363.6,817.8 1364.5,817.8 1365.5,817.8 1366.4,817.8 1367.4,817.9 1368.4,817.9 1369.3,817.9 1370.3,818.0 1371.3,818.0 1372.3,818.0 1373.2,818.0 1374.2,818.1 1375.2,818.1 1376.2,818.1 1377.1,818.2 1378.1,818.2 1379.1,818.2 1380.1,818.3 1381.0,818.3 1382.0,818.3 1383.0,818.3 1384.0,818.4 1385.0,818.4 1385.9,818.4 1386.9,818.5 1387.9,818.5 1388.9,818.5 1389.9,818.6 1390.9,818.6 1391.9,818.6 1392.8,818.7 1393.8,818.7 1394.8,818.7 1395.8,818.8 1396.8,818.8 1397.8,818.8 1398.8,818.9 1399.8,818.9 1400.8,818.9 1401.8,819.0 1402.8,819.0 1403.8,819.0 1404.8,819.1 1405.8,819.1 1406.8,819.1 1407.8,819.2 1408.8,819.2 1409.8,819.2 1410.8,819.3 1411.8,819.3 1412.8,819.3 1413.8,819.4 1414.8,819.4 1415.8,819.4 1416.8,819.5 1417.8,819.5 1418.8,819.5 1419.9,819.6 1420.9,819.6 1421.9,819.7 1422.9,819.7 1423.9,819.7 1424.9,819.8 1425.9,819.8 1427.0,819.8 1428.0,819.9 1429.0,819.9 1430.0,820.0 1431.0,820.0 1432.1,820.0 1433.1,820.1 1434.1,820.1 1435.1,820.1 1436.2,820.2 1437.2,820.2 1438.2,820.3 1439.2,820.3 1440.3,820.3 1441.3,820.4 1442.3,820.4 1443.4,820.5 1444.4,820.5 1445.4,820.5 1446.5,820.6 1447.5,820.6 1448.5,820.7 1449.6,820.7 1450.6,820.7 1451.6,820.8 1452.7,820.8 1453.7,820.9 1454.8,820.9 1455.8,821.0 1456.8,821.0 1457.9,821.0 1458.9,821.1 1460.0,821.1 1461.0,821.2 1462.1,821.2 1463.1,821.2 1464.2,821.3 1465.2,821.3 1466.3,821.4 1467.3,821.4 1468.4,821.5 1469.4,821.5 1470.5,821.5 1471.5,821.6 1472.6,821.6 1473.7,821.7 1474.7,821.7 1475.8,821.8 1476.8,821.8 1477.9,821.9 1479.0,821.9 1480.0,821.9 1481.1,822.0 1482.2,822.0 1483.2,822.1 1484.3,822.1 1485.3,822.2 1486.4,822.2 1487.5,822.3 1488.6,822.3 1489.6,822.4 1490.7,822.4 1491.8,822.4 1492.8,822.5 1493.9,822.5 1495.0,822.6 1496.1,822.6 1497.2,822.7 1498.2,822.7 1499.3,822.8 1500.4,822.8 1501.5,822.9 1502.6,822.9 1503.6,823.0 1504.7,823.0 1505.8,823.1 1506.9,823.1 1508.0,823.2 1509.1,823.2 1510.2,823.3 1511.2,823.3 1512.3,823.4 1513.4,823.4 1514.5,823.5 1515.6,823.5 1516.7,823.6 1517.8,823.6 1518.9,823.7 1520.0,823.7 1521.1,823.8 1522.2,823.8 1523.3,823.9 1524.4,823.9 1525.5,824.0 1526.6,824.0 1527.7,824.1 1528.8,824.1 1529.9,824.2 1531.0,824.2 1532.1,824.3 1533.2,824.3 1534.3,824.4 1535.4,824.4 1536.6,824.5 1537.7,824.5 1538.8,824.6 1539.9,824.6 1541.0,824.7 1542.1,824.7 1543.2,824.8 1544.4,824.8 1545.5,824.9 1546.6,824.9 1547.7,825.0 1548.8,825.0 1550.0,825.1 1551.1,825.1 1552.2,825.2 1553.3,825.2 1554.5,825.3 1555.6,825.4 1556.7,825.4 1557.8,825.5 1559.0,825.5 1560.1,825.6 1561.2,825.6 1562.4,825.7 1563.5,825.7 1564.6,825.8 1565.8,825.8 1566.9,825.9 1568.0,825.9 1569.2,826.0 1570.3,826.0 1571.5,826.1 1572.6,826.2 1573.7,826.2 1574.9,826.3 1576.0,826.3 1577.2,826.4 1578.3,826.4 1579.5,826.5 1580.6,826.5 1581.8,826.6 1582.9,826.6 1584.1,826.7 1585.2,826.8 1586.4,826.8 1587.5,826.9 1588.7,826.9 1589.8,827.0 1591.0,827.0 1592.2,827.1 1593.3,827.1 1594.5,827.2 1595.6,827.3 1596.8,827.3 1598.0,827.4 1599.1,827.4 1600.3,827.5 1601.5,827.5 1602.6,827.6 1603.8,827.6 1605.0,827.7 1606.1,827.8 1607.3,827.8 1608.5,827.9 1609.7,827.9 1610.8,828.0 1612.0,828.0 1613.2,828.1"/>
<polyline clip-path="url(#c2)" fill="none" stroke="#1f77b4" stroke-width="2.08" stroke-linejoin="round" points="232.4,1146.2 237.0,1148.9 241.7,1151.5 246.3,1154.1 250.9,1156.6 255.5,1159.1 260.1,1161.6 264.8,1164.0 269.4,1166.3 274.0,1168.5 278.6,1170.7 283.2,1172.8 287.8,1174.8 292.5,1176.7 297.1,1178.6 301.7,1180.3 306.3,1182.0 310.9,1183.5 315.6,1185.0 320.2,1186.4 324.8,1187.6 329.4,1188.7 334.0,1189.8 338.7,1190.7 343.3,1191.5 347.9,1192.2 352.5,1192.8 357.1,1193.3 361.8,1193.6 366.4,1193.8 371.0,1194.0 375.6,1193.9 380.2,1193.8 384.9,1193.6 389.5,1193.2 394.1,1192.7 398.7,1192.2 403.3,1191.4 407.9,1190.6 412.6,1189.7 417.2,1188.6 421.8,1187.5 426.4,1186.2 431.0,1184.9 435.7,1183.4 440.3,1181.8 444.9,1180.2 449.5,1178.4 454.1,1176.6 458.8,1174.6 463.4,1172.6 468.0,1170.5 472.6,1168.3 477.2,1166.1 481.9,1163.7 486.5,1161.4 491.1,1158.9 495.7,1156.4 500.3,1153.8 505.0,1151.2 509.6,1148.6 514.2,1145.9 518.8,1143.2 523.4,1140.5 528.0,1137.7 532.7,1134.9 537.3,1132.1 541.9,1129.3 546.5,1126.5 551.1,1123.6 555.8,1120.8 560.4,1118.0 565.0,1115.3 569.6,1112.5 574.2,1109.8 578.9,1107.1 583.5,1104.4 588.1,1101.7 592.7,1099.2 597.3,1096.6 602.0,1094.1 606.6,1091.7 611.2,1089.4 615.8,1087.1 620.4,1084.8 625.1,1082.7 629.7,1080.6 634.3,1078.6 638.9,1076.7 643.5,1074.9 648.1,1073.2 652.8,1071.5 657.4,1070.0 662.0,1068.6 666.6,1067.2 671.2,1066.0 675.9,1064.9 680.5,1063.9 685.1,1063.0 689.7,1062.2 694.3,1061.5 699.0,1061.0 703.6,1060.5 708.2,1060.2 712.8,1060.0 717.4,1059.9 722.1,1060.0 726.7,1060.1 731.3,1060.4 735.9,1060.8 740.5,1061.3 745.2,1061.9 749.8,1062.7 754.4,1063.5 759.0,1064.5 763.6,1065.5 768.2,1066.7 772.9,1068.0 777.5,1069.4 782.1,1070.9 786.7,1072.5 791.3,1074.2 796.0,1076.0 800.6,1077.8 805.2,1079.8 809.8,1081.8 814.4,1083.9 819.1,1086.1 823.7,1088.4 828.3,1090.8 832.9,1093.2 837.5,1095.6 842.2,1098.1 846.8,1100.7 851.4,1103.3 856.0,1106.0 860.6,1108.7 865.2,1111.4 869.9,1114.1 874.5,1116.9 879.1,1119.7 883.7,1122.5 888.3,1125.3 893.0,1128.1 897.6,1131.0 902.2,1133.8 906.8,1136.6 911.4,1139.3 916.1,1142.1 920.7,1144.8 925.3,1147.5 929.9,1150.2 934.5,1152.8 939.2,1155.4 943.8,1157.9 948.4,1160.4 953.0,1162.8 957.6,1165.1 962.3,1167.4 966.9,1169.6 971.5,1171.8 976.1,1173.8 980.7,1175.8 985.3,1177.7 990.0,1179.5 994.6,1181.2 999.2,1182.8 1003.8,1184.3 1008.4,1185.7 1013.1,1187.0 1017.7,1188.2 1022.3,1189.3 1026.9,1190.3 1031.5,1191.1 1036.2,1191.9 1040.8,1192.5 1045.4,1193.0 1050.0,1193.4 1054.6,1193.7 1059.3,1193.9 1063.9,1194.0 1068.5,1193.9 1073.1,1193.7 1077.7,1193.4 1082.4,1193.0 1087.0,1192.5 1091.6,1191.8 1096.2,1191.0 1100.8,1190.2 1105.4,1189.2 1110.1,1188.1 1114.7,1186.9 1119.3,1185.6 1123.9,1184.1 1128.5,1182.6 1133.2,1181.0 1137.8,1179.3 1142.4,1177.5 1147.0,1175.6 1151.6,1173.6 1156.3,1171.6 1160.9,1169.4 1165.5,1167.2 1170.1,1164.9 1174.7,1162.6 1179.4,1160.1 1184.0,1157.7 1188.6,1155.1 1193.2,1152.6 1197.8,1149.9 1202.5,1147.3 1207.1,1144.6 1211.7,1141.8 1216.3,1139.1 1220.9,1136.3 1225.5,1133.5 1230.2,1130.7 1234.8,1127.9 1239.4,1125.1 1244.0,1122.2 1248.6,1119.4 1253.3,1116.6 1257.9,1113.9 1262.5,1111.1 1267.1,1108.4 1271.7,1105.7 1276.4,1103.1 1281.0,1100.5 1285.6,1097.9 1290.2,1095.4 1294.8,1092.9 1299.5,1090.5 1304.1,1088.2 1308.7,1085.9 1313.3,1083.7 1317.9,1081.6 1322.5,1079.6 1327.2,1077.6 1331.8,1075.8 1336.4,1074.0 1341.0,1072.3 1345.6,1070.7 1350.3,1069.3 1354.9,1067.9 1359.5,1066.6 1364.1,1065.4 1368.7,1064.4 1373.4,1063.4 1378.0,1062.6 1382.6,1061.8 1387.2,1061.2 1391.8,1060.7 1396.5,1060.4 1401.1,1060.1 1405.7,1060.0 1410.3,1059.9 1414.9,1060.0 1419.6,1060.2 1424.2,1060.6 1428.8,1061.0 1433.4,1061.6 1438.0,1062.3 1442.6,1063.1 1447.3,1064.0 1451.9,1065.0 1456.5,1066.1 1461.1,1067.3 1465.7,1068.7 1470.4,1070.1 1475.0,1071.7 1479.6,1073.3 1484.2,1075.0 1488.8,1076.9 1493.5,1078.8 1498.1,1080.8 1502.7,1082.9 1507.3,1085.0 1511.9,1087.3 1516.6,1089.6 1521.2,1091.9 1525.8,1094.4 1530.4,1096.9 1535.0,1099.4 1539.7,1102.0 1544.3,1104.6 1548.9,1107.3 1553.5,1110.0 1558.1,1112.8 1562.7,1115.5 1567.4,1118.3 1572.0,1121.1 1576.6,1123.9 1581.2,1126.7 1585.8,1129.5 1590.5,1132.4 1595.1,1135.2 1599.7,1137.9 1604.3,1140.7 1608.9,1143.5 1613.6,1146.2"/>
<g clip-path="url(#c0)" fill="none" stroke-width="2.08"><path d="M440 399V451.8M464 398V440.8M536 355V405.8M568 398.7V445.7M656 399.9V440.9M704 343.9V386.9M751 382.8V420M775 426.4V454.4M800 420.8V446M854 410V464.8M862 440V476.8M870 428V458.8M886 412V442M894 394.8V430M902 352V388M910 354.8V394M942 321V365.8M990 389.2V423.6M991 407.3V453.3M1023 340.4V398.4M1086 359.4V435.4M1110 400.8V444M1134 245.9V316.9M1190 401.4V453.4M1222 384.8V458" stroke="#137a36"/><path d="M232 405.9V454.9M360 384.4V430.4M440 421.8V453M463 387.9V416.9M488 324.4V356.4M512 217.8V253M536 387.8V413M703 322.9V353.9M751 373V403.8M800 412V440.8M814 275.4V331.4M854 418.8V464M862 455.8V481M870 436.8V464M878 434.4V454.4M886 415V439.8M894 389V417.8M902 359V381M910 340V378.8M942 360.8V386M974 440.7V462.1M990 423.1V448.1M991 429.1V457.5M1024 397.9V432.9M1061 385.4V445.4M1087 368.9V455.9M1110 397V431.8M1135 354.9V395.9M1222 371V421.8M1246 265.9V334.9M1277 339.4V413.4M1334 409.4V461.4M1557 350.4V440.4M1613 385.4V469.4" stroke="#8b1e52"/></g>
<g clip-path="url(#c0)">
<circle cx="440.2" cy="425.4" r="4.16" fill="#137a36"/>
<circle cx="464.2" cy="419.4" r="4.16" fill="#137a36"/>
<circle cx="536" cy="380.4" r="4.16" fill="#137a36"/>
<circle cx="568.2" cy="422.2" r="4.16" fill="#137a36"/>
<circle cx="656.2" cy="420.4" r="4.16" fill="#137a36"/>
<circle cx="704.2" cy="365.4" r="4.16" fill="#137a36"/>
<circle cx="751.2" cy="401.4" r="4.16" fill="#137a36"/>
<circle cx="775.2" cy="440.4" r="4.16" fill="#137a36"/>
<circle cx="800.2" cy="433.4" r="4.16" fill="#137a36"/>
<circle cx="853.8" cy="437.4" r="4.16" fill="#137a36"/>
<circle cx="862.2" cy="458.4" r="4.16" fill="#137a36"/>
<circle cx="870.2" cy="443.4" r="4.16" fill="#137a36"/>
<circle cx="886.2" cy="427" r="4.16" fill="#137a36"/>
<circle cx="894.2" cy="412.4" r="4.16" fill="#137a36"/>
<circle cx="901.8" cy="370" r="4.16" fill="#137a36"/>
<circle cx="910.2" cy="374.4" r="4.16" fill="#137a36"/>
<circle cx="942.2" cy="343.4" r="4.16" fill="#137a36"/>
<circle cx="990.3" cy="406.4" r="4.16" fill="#137a36"/>
<circle cx="991.4" cy="430.3" r="4.16" fill="#137a36"/>
<circle cx="1023.2" cy="369.4" r="4.16" fill="#137a36"/>
<circle cx="1086.2" cy="397.4" r="4.16" fill="#137a36"/>
<circle cx="1110.2" cy="422.4" r="4.16" fill="#137a36"/>
<circle cx="1134.2" cy="281.4" r="4.16" fill="#137a36"/>
<circle cx="1190.2" cy="427.4" r="4.16" fill="#137a36"/>
<circle cx="1222.2" cy="421.4" r="4.16" fill="#137a36"/>
<circle cx="232" cy="430.4" r="4.16" fill="#8b1e52"/>
<circle cx="360.4" cy="407.4" r="4.16" fill="#8b1e52"/>
<circle cx="440.2" cy="437.4" r="4.16" fill="#8b1e52"/>
<circle cx="463.2" cy="402.4" r="4.16" fill="#8b1e52"/>
<circle cx="488.2" cy="340.4" r="4.16" fill="#8b1e52"/>
<circle cx="512.2" cy="235.4" r="4.16" fill="#8b1e52"/>
<circle cx="536" cy="400.4" r="4.16" fill="#8b1e52"/>
<circle cx="703.2" cy="338.4" r="4.16" fill="#8b1e52"/>
<circle cx="751.2" cy="388.4" r="4.16" fill="#8b1e52"/>
<circle cx="800.2" cy="426.4" r="4.16" fill="#8b1e52"/>
<circle cx="814.2" cy="303.4" r="4.16" fill="#8b1e52"/>
<circle cx="854.2" cy="441.4" r="4.16" fill="#8b1e52"/>
<circle cx="862.2" cy="468.4" r="4.16" fill="#8b1e52"/>
<circle cx="870.2" cy="450.4" r="4.16" fill="#8b1e52"/>
<circle cx="878.2" cy="444.4" r="4.16" fill="#8b1e52"/>
<circle cx="886.2" cy="427.4" r="4.16" fill="#8b1e52"/>
<circle cx="894.2" cy="403.4" r="4.16" fill="#8b1e52"/>
<circle cx="902.2" cy="370" r="4.16" fill="#8b1e52"/>
<circle cx="910.2" cy="359.4" r="4.16" fill="#8b1e52"/>
<circle cx="942.2" cy="373.4" r="4.16" fill="#8b1e52"/>
<circle cx="974.2" cy="451.4" r="4.16" fill="#8b1e52"/>
<circle cx="990.3" cy="435.6" r="4.16" fill="#8b1e52"/>
<circle cx="991.4" cy="443.3" r="4.16" fill="#8b1e52"/>
<circle cx="1024.2" cy="415.4" r="4.16" fill="#8b1e52"/>
<circle cx="1061.2" cy="415.4" r="4.16" fill="#8b1e52"/>
<circle cx="1087.2" cy="412.4" r="4.16" fill="#8b1e52"/>
<circle cx="1110.2" cy="414.4" r="4.16" fill="#8b1e52"/>
<circle cx="1135.2" cy="375.4" r="4.16" fill="#8b1e52"/>
<circle cx="1222.2" cy="396.4" r="4.16" fill="#8b1e52"/>
<circle cx="1246.2" cy="300.4" r="4.16" fill="#8b1e52"/>
<circle cx="1277.2" cy="376.4" r="4.16" fill="#8b1e52"/>
<circle cx="1334.2" cy="435.4" r="4.16" fill="#8b1e52"/>
<circle cx="1557.2" cy="395.4" r="4.16" fill="#8b1e52"/>
<circle cx="1613.2" cy="427.4" r="4.16" fill="#8b1e52"/>
</g>
<g clip-path="url(#c2)" fill="none" stroke-width="2.08"><path d="M251 1147V1191M275 1158V1189M297 1166V1193M318 1136V1168M375 1180V1205M407 1152V1194M463 1146V1197M475 1156V1211M511 1129V1166M616 1067V1112M794 993V1063M817 1100V1141M870 1090V1134M915 1142V1176M949 1131V1204M1003 1144V1187M1035 1144V1191M1081 1172V1200M1092 1105V1182M1115 1187V1223M1156 1148V1200M1164 1146V1187M1250 1101V1152M1546 1086V1144M1557 1098V1134" stroke="#137a36"/><path d="M248 1143V1178M256 1143V1178M259 1160V1187M271 1155V1207M300 1169V1193M356 1182V1210M365 1174V1204M373 1152V1201M404 1187V1208M438 1167V1199M456 1166V1208M508 1131V1190M509 1150V1215M544 1119V1150M598 1105V1132M680 964V999M798 1087V1124M842 1069V1100M878 1100V1141M897 1135V1164M946 1130V1176M964 1117V1167M966 1134V1163M1013 1180V1201M1096 1202V1228M1207 1114V1201M1224 1133V1159M1229 1085V1159M1395 1021V1077M1454 1013V1081M1521 1070V1102M1534 1096V1186M1539 1104V1127M257 1143.3V1184.7" stroke="#8b1e52"/></g>
<g clip-path="url(#c2)">
<circle cx="251.2" cy="1169.4" r="4.16" fill="#137a36"/>
<circle cx="275.2" cy="1173" r="4.16" fill="#137a36"/>
<circle cx="297.2" cy="1179" r="4.16" fill="#137a36"/>
<circle cx="318.2" cy="1152.4" r="4.16" fill="#137a36"/>
<circle cx="375.2" cy="1190.4" r="4.16" fill="#137a36"/>
<circle cx="407.2" cy="1177.4" r="4.16" fill="#137a36"/>
<circle cx="463.2" cy="1172.4" r="4.16" fill="#137a36"/>
<circle cx="475.2" cy="1184.4" r="4.16" fill="#137a36"/>
<circle cx="511.2" cy="1147.4" r="4.16" fill="#137a36"/>
<circle cx="616.2" cy="1090.4" r="4.16" fill="#137a36"/>
<circle cx="794.2" cy="1028.4" r="4.16" fill="#137a36"/>
<circle cx="817.2" cy="1120.4" r="4.16" fill="#137a36"/>
<circle cx="870.2" cy="1112.4" r="4.16" fill="#137a36"/>
<circle cx="915.2" cy="1159.4" r="4.16" fill="#137a36"/>
<circle cx="949.2" cy="1168.4" r="4.16" fill="#137a36"/>
<circle cx="1003.2" cy="1166.4" r="4.16" fill="#137a36"/>
<circle cx="1035.2" cy="1168.4" r="4.16" fill="#137a36"/>
<circle cx="1081.2" cy="1186.4" r="4.16" fill="#137a36"/>
<circle cx="1092.2" cy="1144.4" r="4.16" fill="#137a36"/>
<circle cx="1115.2" cy="1205.4" r="4.16" fill="#137a36"/>
<circle cx="1156.2" cy="1174.4" r="4.16" fill="#137a36"/>
<circle cx="1164.2" cy="1166.4" r="4.16" fill="#137a36"/>
<circle cx="1250.2" cy="1127.4" r="4.16" fill="#137a36"/>
<circle cx="1546.2" cy="1115.4" r="4.16" fill="#137a36"/>
<circle cx="1557.2" cy="1116.4" r="4.16" fill="#137a36"/>
<circle cx="248.2" cy="1161.4" r="4.16" fill="#8b1e52"/>
<circle cx="256.2" cy="1160.4" r="4.16" fill="#8b1e52"/>
<circle cx="259.2" cy="1173.4" r="4.16" fill="#8b1e52"/>
<circle cx="271.2" cy="1181.4" r="4.16" fill="#8b1e52"/>
<circle cx="300.2" cy="1181.4" r="4.16" fill="#8b1e52"/>
<circle cx="356.2" cy="1196.4" r="4.16" fill="#8b1e52"/>
<circle cx="365.2" cy="1189.4" r="4.16" fill="#8b1e52"/>
<circle cx="373.2" cy="1177.4" r="4.16" fill="#8b1e52"/>
<circle cx="404.2" cy="1197.4" r="4.16" fill="#8b1e52"/>
<circle cx="438.2" cy="1183.4" r="4.16" fill="#8b1e52"/>
<circle cx="456.2" cy="1187.4" r="4.16" fill="#8b1e52"/>
<circle cx="508.2" cy="1161.4" r="4.16" fill="#8b1e52"/>
<circle cx="509.2" cy="1173.4" r="4.16" fill="#8b1e52"/>
<circle cx="544.2" cy="1134.4" r="4.16" fill="#8b1e52"/>
<circle cx="598.2" cy="1119.4" r="4.16" fill="#8b1e52"/>
<circle cx="680.2" cy="982.4" r="4.16" fill="#8b1e52"/>
<circle cx="798.2" cy="1105.4" r="4.16" fill="#8b1e52"/>
<circle cx="842.2" cy="1084.4" r="4.16" fill="#8b1e52"/>
<circle cx="878.2" cy="1121.4" r="4.16" fill="#8b1e52"/>
<circle cx="897.2" cy="1150.4" r="4.16" fill="#8b1e52"/>
<circle cx="946.2" cy="1153.4" r="4.16" fill="#8b1e52"/>
<circle cx="964.2" cy="1142.4" r="4.16" fill="#8b1e52"/>
<circle cx="966.2" cy="1149.4" r="4.16" fill="#8b1e52"/>
<circle cx="1013.2" cy="1190.4" r="4.16" fill="#8b1e52"/>
<circle cx="1096.2" cy="1215.4" r="4.16" fill="#8b1e52"/>
<circle cx="1207.2" cy="1158.4" r="4.16" fill="#8b1e52"/>
<circle cx="1224.2" cy="1146.4" r="4.16" fill="#8b1e52"/>
<circle cx="1229.2" cy="1122.4" r="4.16" fill="#8b1e52"/>
<circle cx="1395.2" cy="1049.4" r="4.16" fill="#8b1e52"/>
<circle cx="1454.2" cy="1047.4" r="4.16" fill="#8b1e52"/>
<circle cx="1521.2" cy="1086.4" r="4.16" fill="#8b1e52"/>
<circle cx="1534.2" cy="1141.4" r="4.16" fill="#8b1e52"/>
<circle cx="1539.2" cy="1115.4" r="4.16" fill="#8b1e52"/>
<circle cx="256.7" cy="1164" r="4.16" fill="#8b1e52"/>
</g>
<g clip-path="url(#c3)" fill="none" stroke-width="2.08"><path d="M440 1439.44V1513.36M464 1422.44V1482.36M536 1453.84V1524.96M568 1411.5V1477.3M656 1447.7V1505.1M704 1444.3V1504.5M751 1452.36V1504.44M775 1448.8V1488M800 1460.76V1496.04M854 1463.04V1539.76M862 1477.64V1529.16M870 1450.84V1493.96M886 1463.4V1505.4M894 1477.76V1527.04M902 1459.2V1509.6M910 1499.96V1554.84M942 1451.04V1513.76M990 1406.32V1454.48M991 1426.2V1490.6M1023 1450.8V1532M1086 1357.19V1463.61M1110 1464.16V1524.64M1134 1361.69V1461.11M1190 1445V1517.8M1222 1437.15V1539.65" stroke="#137a36"/><path d="M232 1420.1V1488.7M360 1438.2V1502.6M440 1457.56V1501.24M463 1429.1V1469.7M488 1448V1492.8M512 1337.76V1387.04M536 1476.76V1512.04M703 1437.7V1481.1M751 1465.84V1508.96M800 1474.24V1514.56M814 1423.2V1501.6M854 1462.76V1526.04M862 1493.76V1529.04M870 1463.36V1501.44M878 1469.4V1497.4M886 1479.04V1513.76M894 1485.24V1525.56M902 1483V1513.8M910 1490.24V1544.56M942 1491.76V1527.04M974 1471.42V1501.38M990 1462.9V1497.9M991 1452.52V1492.28M1024 1461.9V1510.9M1061 1453.4V1537.4M1087 1436.49V1558.31M1110 1455.04V1503.76M1135 1451.7V1509.1M1222 1405.84V1476.96M1246 1403.09V1499.71M1277 1413.59V1517.21M1334 1461V1533.8M1557 1474.39V1600.41M1613 1453.59V1571.21" stroke="#8b1e52"/></g>
<g clip-path="url(#c3)">
<circle cx="440.2" cy="1476.4" r="4.16" fill="#137a36"/>
<circle cx="464.2" cy="1452.4" r="4.16" fill="#137a36"/>
<circle cx="536" cy="1489.4" r="4.16" fill="#137a36"/>
<circle cx="568.2" cy="1444.4" r="4.16" fill="#137a36"/>
<circle cx="656.2" cy="1476.4" r="4.16" fill="#137a36"/>
<circle cx="704.2" cy="1474.4" r="4.16" fill="#137a36"/>
<circle cx="751.2" cy="1478.4" r="4.16" fill="#137a36"/>
<circle cx="775.2" cy="1468.4" r="4.16" fill="#137a36"/>
<circle cx="800.2" cy="1478.4" r="4.16" fill="#137a36"/>
<circle cx="853.8" cy="1501.4" r="4.16" fill="#137a36"/>
<circle cx="862.2" cy="1503.4" r="4.16" fill="#137a36"/>
<circle cx="870.2" cy="1472.4" r="4.16" fill="#137a36"/>
<circle cx="886.2" cy="1484.4" r="4.16" fill="#137a36"/>
<circle cx="894.2" cy="1502.4" r="4.16" fill="#137a36"/>
<circle cx="901.8" cy="1484.4" r="4.16" fill="#137a36"/>
<circle cx="910.2" cy="1527.4" r="4.16" fill="#137a36"/>
<circle cx="942.2" cy="1482.4" r="4.16" fill="#137a36"/>
<circle cx="990.3" cy="1430.4" r="4.16" fill="#137a36"/>
<circle cx="991.4" cy="1458.4" r="4.16" fill="#137a36"/>
<circle cx="1023.2" cy="1491.4" r="4.16" fill="#137a36"/>
<circle cx="1086.2" cy="1410.4" r="4.16" fill="#137a36"/>
<circle cx="1110.2" cy="1494.4" r="4.16" fill="#137a36"/>
<circle cx="1134.2" cy="1411.4" r="4.16" fill="#137a36"/>
<circle cx="1190.2" cy="1481.4" r="4.16" fill="#137a36"/>
<circle cx="1222.2" cy="1488.4" r="4.16" fill="#137a36"/>
<circle cx="232" cy="1454.4" r="4.16" fill="#8b1e52"/>
<circle cx="360.4" cy="1470.4" r="4.16" fill="#8b1e52"/>
<circle cx="440.2" cy="1479.4" r="4.16" fill="#8b1e52"/>
<circle cx="463.2" cy="1449.4" r="4.16" fill="#8b1e52"/>
<circle cx="488.2" cy="1470.4" r="4.16" fill="#8b1e52"/>
<circle cx="512.2" cy="1362.4" r="4.16" fill="#8b1e52"/>
<circle cx="536" cy="1494.4" r="4.16" fill="#8b1e52"/>
<circle cx="703.2" cy="1459.4" r="4.16" fill="#8b1e52"/>
<circle cx="751.2" cy="1487.4" r="4.16" fill="#8b1e52"/>
<circle cx="800.2" cy="1494.4" r="4.16" fill="#8b1e52"/>
<circle cx="814.2" cy="1462.4" r="4.16" fill="#8b1e52"/>
<circle cx="854.2" cy="1494.4" r="4.16" fill="#8b1e52"/>
<circle cx="862.2" cy="1511.4" r="4.16" fill="#8b1e52"/>
<circle cx="870.2" cy="1482.4" r="4.16" fill="#8b1e52"/>
<circle cx="878.2" cy="1483.4" r="4.16" fill="#8b1e52"/>
<circle cx="886.2" cy="1496.4" r="4.16" fill="#8b1e52"/>
<circle cx="894.2" cy="1505.4" r="4.16" fill="#8b1e52"/>
<circle cx="902.2" cy="1498.4" r="4.16" fill="#8b1e52"/>
<circle cx="910.2" cy="1517.4" r="4.16" fill="#8b1e52"/>
<circle cx="942.2" cy="1509.4" r="4.16" fill="#8b1e52"/>
<circle cx="974.2" cy="1486.4" r="4.16" fill="#8b1e52"/>
<circle cx="990.3" cy="1480.4" r="4.16" fill="#8b1e52"/>
<circle cx="991.4" cy="1472.4" r="4.16" fill="#8b1e52"/>
<circle cx="1024.2" cy="1486.4" r="4.16" fill="#8b1e52"/>
<circle cx="1061.2" cy="1495.4" r="4.16" fill="#8b1e52"/>
<circle cx="1087.2" cy="1497.4" r="4.16" fill="#8b1e52"/>
<circle cx="1110.2" cy="1479.4" r="4.16" fill="#8b1e52"/>
<circle cx="1135.2" cy="1480.4" r="4.16" fill="#8b1e52"/>
<circle cx="1222.2" cy="1441.4" r="4.16" fill="#8b1e52"/>
<circle cx="1246.2" cy="1451.4" r="4.16" fill="#8b1e52"/>
<circle cx="1277.2" cy="1465.4" r="4.16" fill="#8b1e52"/>
<circle cx="1334.2" cy="1497.4" r="4.16" fill="#8b1e52"/>
<circle cx="1557.2" cy="1537.4" r="4.16" fill="#8b1e52"/>
<circle cx="1613.2" cy="1512.4" r="4.16" fill="#8b1e52"/>
</g>
<path d="M225.5 1478H1620" stroke="#000" stroke-width="2.08" stroke-dasharray="7.71 3.33" fill="none"/>
<rect x="225.5" y="216.5" width="1395" height="267.0" fill="none" stroke="#000" stroke-width="1.11"/>
<path d="M344.5 483.5v4.86M504.5 483.5v4.86M664.5 483.5v4.86M824.5 483.5v4.86M984.5 483.5v4.86M1144.5 483.5v4.86M1304.5 483.5v4.86M1464.5 483.5v4.86M225.5 320.5h-4.86M225.5 425.5h-4.86" stroke="#000" stroke-width="1.11" fill="none"/>
<rect x="225.5" y="589.5" width="1395" height="267.0" fill="none" stroke="#000" stroke-width="1.11"/>
<path d="M232.5 856.5v4.86M508.5 856.5v4.86M784.5 856.5v4.86M1061.5 856.5v4.86M1337.5 856.5v4.86M1613.5 856.5v4.86M225.5 648.5h-4.86M225.5 751.5h-4.86M225.5 854.5h-4.86" stroke="#000" stroke-width="1.11" fill="none"/>
<rect x="225.5" y="962.5" width="1395" height="267.0" fill="none" stroke="#000" stroke-width="1.11"/>
<path d="M232.5 1229.5v4.86M499.5 1229.5v4.86M766.5 1229.5v4.86M1033.5 1229.5v4.86M1300.5 1229.5v4.86M1567.5 1229.5v4.86M225.5 1066.5h-4.86M225.5 1172.5h-4.86" stroke="#000" stroke-width="1.11" fill="none"/>
<rect x="225.5" y="1335.5" width="1395" height="267.0" fill="none" stroke="#000" stroke-width="1.11"/>
<path d="M344.5 1602.5v4.86M504.5 1602.5v4.86M664.5 1602.5v4.86M824.5 1602.5v4.86M984.5 1602.5v4.86M1144.5 1602.5v4.86M1304.5 1602.5v4.86M1464.5 1602.5v4.86M225.5 1404.5h-4.86M225.5 1478.5h-4.86M225.5 1552.5h-4.86" stroke="#000" stroke-width="1.11" fill="none"/>
<text transform="translate(660.00 66.68) scale(0.9905 1)" x="0.84 26.75 52.23 77.92 103.61 134.89 141.61 164.73 175.82 201.70 228.18 248.52 253.50 284.06 310.75 326.69 349.95 380.50 385.63 412.17 423.07 449.12 463.24" y="0" font-size="42.38">18111 Light Curve Plots</text>
<text transform="translate(921.40 615.87) scale(0.9814 1)" x="-0.97 19.93 41.92 54.95 64.16 85.14 106.80 122.84 129.09 150.68 172.00 183.24 204.50 226.51 252.64 259.02" y="0" font-size="35.32">Period: 51.727 h</text>
<text transform="translate(312.45 517.83) scale(1.0098 1)" x="0.67 21.70 42.73" y="0" font-size="35.32">680</text>
<text transform="translate(472.42 517.83) scale(0.9879 1)" x="0.84 22.40 43.89" y="0" font-size="35.32">700</text>
<text transform="translate(632.39 517.83) scale(0.9760 1)" x="0.97 22.34 44.55" y="0" font-size="35.32">720</text>
<text transform="translate(792.48 517.83) scale(0.9880 1)" x="0.84 22.39 43.89" y="0" font-size="35.32">740</text>
<text transform="translate(952.52 517.83) scale(0.9993 1)" x="0.72 22.03 43.28" y="0" font-size="35.32">760</text>
<text transform="translate(1112.61 517.83) scale(0.9914 1)" x="0.80 22.28 43.70" y="0" font-size="35.32">780</text>
<text transform="translate(1272.64 517.83) scale(0.9984 1)" x="0.79 22.06 43.33" y="0" font-size="35.32">800</text>
<text transform="translate(1432.61 517.83) scale(0.9868 1)" x="0.92 21.99 43.95" y="0" font-size="35.32">820</text>
<text transform="translate(140.78 437.81) scale(0.9661 1)" x="0.97 23.12 44.52 55.95" y="0" font-size="35.32">14.5</text>
<text transform="translate(140.78 332.11) scale(0.9656 1)" x="0.98 23.01 44.55 56.12" y="0" font-size="35.32">15.0</text>
<text transform="translate(831.94 556.88) scale(0.9311 1)" x="-5.20 12.02 34.34 44.32 53.05 76.78 103.58 110.41 136.73 160.88 174.17" y="0" font-size="35.32">Julian Date</text>
<text transform="translate(128.29 417.21) rotate(-90) scale(0.9438 1)" x="0.52 32.21 37.95 54.22 85.79 108.90 132.09" y="0" font-size="35.32">H (mag)</text>
<text transform="translate(1305.88 554.99) scale(1.0096 1)" x="3.53 27.94 49.06 59.91 80.82 101.98 123.01 144.04 165.07 186.11 207.14 228.17 249.20 269.96 290.57" y="0" font-size="35.32">+2.4580000000e6</text>
<text transform="translate(221.21 890.98) scale(0.9949 1)" x="0.83" y="0" font-size="35.32">0</text>
<text transform="translate(465.60 890.98) scale(0.9845 1)" x="0.76 22.51 44.08 65.64" y="0" font-size="35.32">1000</text>
<text transform="translate(741.81 890.98) scale(0.9862 1)" x="0.48 22.45 43.99 65.52" y="0" font-size="35.32">2000</text>
<text transform="translate(1018.14 890.98) scale(0.9851 1)" x="0.98 22.49 44.05 65.60" y="0" font-size="35.32">3000</text>
<text transform="translate(1294.41 890.98) scale(0.9949 1)" x="0.83 22.17 43.52 64.86" y="0" font-size="35.32">4000</text>
<text transform="translate(1570.68 890.98) scale(0.9810 1)" x="0.85 22.63 44.27 65.92" y="0" font-size="35.32">5000</text>
<text transform="translate(140.78 866.90) scale(0.9965 1)" x="0.81 21.70 32.77 54.08" y="0" font-size="35.32">0.00</text>
<text transform="translate(140.65 763.95) scale(0.9680 1)" x="1.12 22.49 33.57 55.82" y="0" font-size="35.32">0.25</text>
<text transform="translate(140.78 660.00) scale(0.9791 1)" x="1.00 22.18 33.39 55.21" y="0" font-size="35.32">0.50</text>
<text transform="translate(713.38 930.04) scale(0.9752 1)" x="-0.32 22.89 44.89 55.98 79.28 91.83 101.14 122.52 142.51 164.93 179.04 183.59 204.61 226.72 239.82 249.13 270.24 296.58 301.92 315.47 341.76 362.99 385.56 398.13 417.32" y="0" font-size="35.32">Rotational Period (Hours)</text>
<text transform="translate(128.16 803.74) rotate(-90) scale(0.9573 1)" x="0.63 19.17 30.81 59.02 63.88 85.12 107.08 135.08 157.55" y="0" font-size="35.32">L-S Power</text>
<text transform="translate(221.79 1264.14) scale(0.9949 1)" x="0.83" y="0" font-size="35.32">0</text>
<text transform="translate(478.17 1264.14) scale(0.9737 1)" x="0.89 22.87" y="0" font-size="35.32">10</text>
<text transform="translate(745.12 1264.14) scale(0.9773 1)" x="0.57 22.75" y="0" font-size="35.32">20</text>
<text transform="translate(1012.19 1264.14) scale(0.9752 1)" x="1.09 22.82" y="0" font-size="35.32">30</text>
<text transform="translate(1279.19 1264.14) scale(0.9949 1)" x="0.83 22.17" y="0" font-size="35.32">40</text>
<text transform="translate(1546.20 1264.14) scale(0.9670 1)" x="1.00 23.09" y="0" font-size="35.32">50</text>
<text transform="translate(140.78 1184.12) scale(0.9661 1)" x="0.97 23.12 44.52 55.95" y="0" font-size="35.32">14.5</text>
<text transform="translate(140.78 1078.42) scale(0.9656 1)" x="0.98 23.01 44.55 56.12" y="0" font-size="35.32">15.0</text>
<text transform="translate(807.50 1303.19) scale(0.9460 1)" x="-0.55 22.64 43.32 65.84 84.72 110.94 116.66 131.69 153.64 175.53 198.70 211.72 231.39" y="0" font-size="35.32">Phase (hours)</text>
<text transform="translate(128.29 1163.51) rotate(-90) scale(0.9438 1)" x="0.52 32.21 37.95 54.22 85.79 108.90 132.09" y="0" font-size="35.32">H (mag)</text>
<text transform="translate(312.45 1637.29) scale(1.0098 1)" x="0.67 21.70 42.73" y="0" font-size="35.32">680</text>
<text transform="translate(472.42 1637.29) scale(0.9879 1)" x="0.84 22.40 43.89" y="0" font-size="35.32">700</text>
<text transform="translate(632.39 1637.29) scale(0.9760 1)" x="0.97 22.34 44.55" y="0" font-size="35.32">720</text>
<text transform="translate(792.48 1637.29) scale(0.9880 1)" x="0.84 22.39 43.89" y="0" font-size="35.32">740</text>
<text transform="translate(952.52 1637.29) scale(0.9993 1)" x="0.72 22.03 43.28" y="0" font-size="35.32">760</text>
<text transform="translate(1112.61 1637.29) scale(0.9914 1)" x="0.80 22.28 43.70" y="0" font-size="35.32">780</text>
<text transform="translate(1272.64 1637.29) scale(0.9984 1)" x="0.79 22.06 43.33" y="0" font-size="35.32">800</text>
<text transform="translate(1432.61 1637.29) scale(0.9868 1)" x="0.92 21.99 43.95" y="0" font-size="35.32">820</text>
<text transform="translate(112.65 1564.83) scale(1.0286 1)" x="3.26 27.67 48.06 58.20 79.15" y="0" font-size="35.32">−0.25</text>
<text transform="translate(140.78 1490.83) scale(0.9965 1)" x="0.81 21.70 32.77 54.08" y="0" font-size="35.32">0.00</text>
<text transform="translate(140.65 1416.83) scale(0.9680 1)" x="1.12 22.49 33.57 55.82" y="0" font-size="35.32">0.25</text>
<text transform="translate(831.94 1676.34) scale(0.9311 1)" x="-5.20 12.02 34.34 44.32 53.05 76.78 103.58 110.41 136.73 160.88 174.17" y="0" font-size="35.32">Julian Date</text>
<text transform="translate(100.16 1547.86) rotate(-90) scale(0.9438 1)" x="0.11 24.09 45.35 64.16 74.14 96.73 117.56 140.50 149.96" y="0" font-size="35.32">Residuals</text>
<text transform="translate(1305.88 1674.46) scale(1.0096 1)" x="3.53 27.94 49.06 59.91 80.82 101.98 123.01 144.04 165.07 186.11 207.14 228.17 249.20 269.96 290.57" y="0" font-size="35.32">+2.4580000000e6</text>
</svg>
</body></html>
